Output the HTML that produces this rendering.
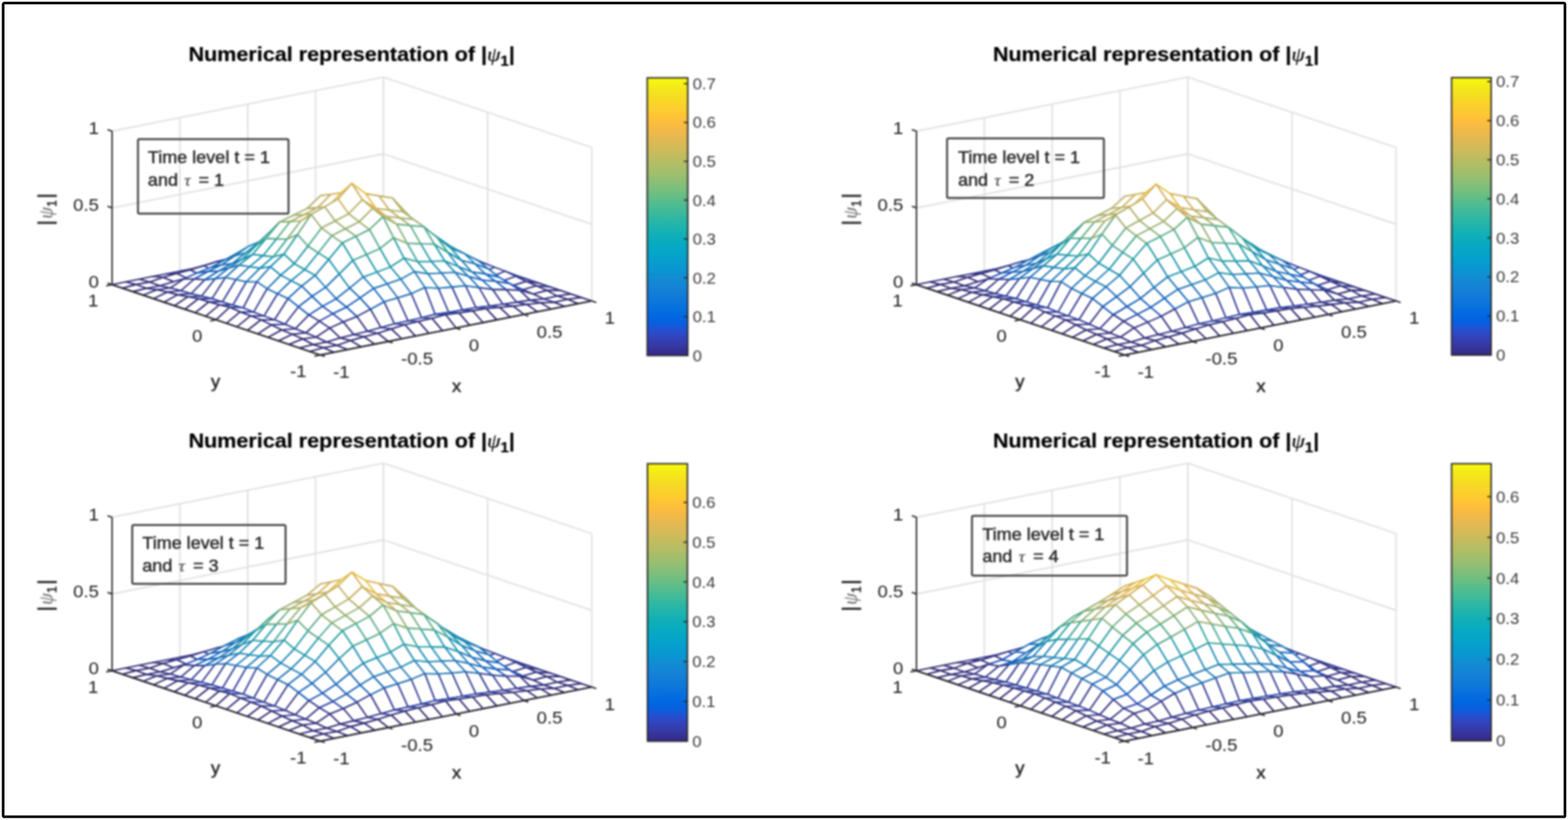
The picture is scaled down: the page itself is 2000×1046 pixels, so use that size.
<!DOCTYPE html>
<html><head><meta charset="utf-8"><title>Numerical representation</title>
<style>
html,body{margin:0;padding:0;background:#fff;}
body{width:2000px;height:1046px;overflow:hidden;position:relative;}
svg{position:absolute;left:0;top:0;font-family:"Liberation Sans", Arial, Helvetica, sans-serif;}
.blur{filter:blur(1.0px);}
</style></head><body>
<svg class="blur" width="2000" height="1046" viewBox="0 0 2000 1046">
<rect x="0" y="0" width="2000" height="1046" fill="#fff"/>
<line x1="142.9" y1="363.1" x2="142.9" y2="167.3" stroke="#e0e0e0" stroke-width="1.9"/>
<line x1="408.5" y1="452.8" x2="142.9" y2="363.1" stroke="#e0e0e0" stroke-width="1.9"/>
<line x1="229.5" y1="345.9" x2="229.5" y2="150.1" stroke="#e0e0e0" stroke-width="1.9"/>
<line x1="495.1" y1="435.6" x2="229.5" y2="345.9" stroke="#e0e0e0" stroke-width="1.9"/>
<line x1="316.0" y1="328.7" x2="316.0" y2="132.9" stroke="#e0e0e0" stroke-width="1.9"/>
<line x1="581.6" y1="418.3" x2="316.0" y2="328.7" stroke="#e0e0e0" stroke-width="1.9"/>
<line x1="402.5" y1="311.5" x2="402.5" y2="115.6" stroke="#e0e0e0" stroke-width="1.9"/>
<line x1="668.1" y1="401.1" x2="402.5" y2="311.5" stroke="#e0e0e0" stroke-width="1.9"/>
<line x1="489.1" y1="294.2" x2="489.1" y2="98.4" stroke="#e0e0e0" stroke-width="1.9"/>
<line x1="754.7" y1="383.9" x2="489.1" y2="294.2" stroke="#e0e0e0" stroke-width="1.9"/>
<line x1="754.7" y1="383.9" x2="754.7" y2="188.1" stroke="#e0e0e0" stroke-width="1.9"/>
<line x1="408.5" y1="452.8" x2="754.7" y2="383.9" stroke="#e0e0e0" stroke-width="1.9"/>
<line x1="621.9" y1="339.1" x2="621.9" y2="143.3" stroke="#e0e0e0" stroke-width="1.9"/>
<line x1="275.7" y1="407.9" x2="621.9" y2="339.1" stroke="#e0e0e0" stroke-width="1.9"/>
<line x1="489.1" y1="294.2" x2="489.1" y2="98.4" stroke="#e0e0e0" stroke-width="1.9"/>
<line x1="142.9" y1="363.1" x2="489.1" y2="294.2" stroke="#e0e0e0" stroke-width="1.9"/>
<line x1="142.9" y1="363.1" x2="489.1" y2="294.2" stroke="#e0e0e0" stroke-width="1.9"/>
<line x1="489.1" y1="294.2" x2="754.7" y2="383.9" stroke="#e0e0e0" stroke-width="1.9"/>
<line x1="142.9" y1="265.2" x2="489.1" y2="196.3" stroke="#e0e0e0" stroke-width="1.9"/>
<line x1="489.1" y1="196.3" x2="754.7" y2="286.0" stroke="#e0e0e0" stroke-width="1.9"/>
<line x1="142.9" y1="167.3" x2="489.1" y2="98.4" stroke="#e0e0e0" stroke-width="1.9"/>
<line x1="489.1" y1="98.4" x2="754.7" y2="188.1" stroke="#e0e0e0" stroke-width="1.9"/>
<g stroke-width="1.85" stroke-linejoin="round" fill="#fff">
<polygon points="485.0,301.0 502.3,298.7 489.1,294.2 471.8,297.7" stroke="#332d77"/>
<polygon points="467.7,304.9 485.0,301.0 471.8,297.7 454.5,301.1" stroke="#332c75"/>
<polygon points="498.3,305.9 515.6,303.2 502.3,298.7 485.0,301.0" stroke="#332c75"/>
<polygon points="450.4,305.6 467.7,304.9 454.5,301.1 437.1,304.6" stroke="#343382"/>
<polygon points="481.0,309.6 498.3,305.9 485.0,301.0 467.7,304.9" stroke="#332c74"/>
<polygon points="511.6,307.7 528.9,307.7 515.6,303.2 498.3,305.9" stroke="#343382"/>
<polygon points="433.1,307.6 450.4,305.6 437.1,304.6 419.8,308.0" stroke="#353788"/>
<polygon points="463.7,311.2 481.0,309.6 467.7,304.9 450.4,305.6" stroke="#34307c"/>
<polygon points="494.3,312.3 511.6,307.7 498.3,305.9 481.0,309.6" stroke="#34307c"/>
<polygon points="524.9,310.8 542.2,312.2 528.9,307.7 511.6,307.7" stroke="#353788"/>
<polygon points="415.8,309.9 433.1,307.6 419.8,308.0 402.5,311.5" stroke="#35398e"/>
<polygon points="446.4,313.7 463.7,311.2 450.4,305.6 433.1,307.6" stroke="#343281"/>
<polygon points="477.0,307.5 494.3,312.3 481.0,309.6 463.7,311.2" stroke="#3045a4"/>
<polygon points="507.6,315.8 524.9,310.8 511.6,307.7 494.3,312.3" stroke="#343281"/>
<polygon points="398.5,311.4 415.8,309.9 402.5,311.5 385.2,314.9" stroke="#343f97"/>
<polygon points="538.2,314.1 555.5,316.7 542.2,312.2 524.9,310.8" stroke="#35398e"/>
<polygon points="429.1,316.4 446.4,313.7 433.1,307.6 415.8,309.9" stroke="#353484"/>
<polygon points="459.7,306.7 477.0,307.5 463.7,311.2 446.4,313.7" stroke="#1e53b6"/>
<polygon points="381.2,312.9 398.5,311.4 385.2,314.9 367.9,318.3" stroke="#3144a1"/>
<polygon points="520.9,319.5 538.2,314.1 524.9,310.8 507.6,315.8" stroke="#353484"/>
<polygon points="490.3,307.7 507.6,315.8 494.3,312.3 477.0,307.5" stroke="#1e53b6"/>
<polygon points="551.4,316.7 568.7,321.2 555.5,316.7 538.2,314.1" stroke="#343f97"/>
<polygon points="411.8,318.6 429.1,316.4 415.8,309.9 398.5,311.4" stroke="#35378b"/>
<polygon points="363.9,315.8 381.2,312.9 367.9,318.3 350.6,321.8" stroke="#3045a4"/>
<polygon points="442.4,306.6 459.7,306.7 446.4,313.7 429.1,316.4" stroke="#115bbc"/>
<polygon points="394.5,320.7 411.8,318.6 398.5,311.4 381.2,312.9" stroke="#353b91"/>
<polygon points="534.1,322.7 551.4,316.7 538.2,314.1 520.9,319.5" stroke="#35378b"/>
<polygon points="503.5,308.7 520.9,319.5 507.6,315.8 490.3,307.7" stroke="#115bbc"/>
<polygon points="564.7,319.1 582.0,325.6 568.7,321.2 551.4,316.7" stroke="#3144a1"/>
<polygon points="473.0,305.1 490.3,307.7 477.0,307.5 459.7,306.7" stroke="#1161bc"/>
<polygon points="346.6,318.6 363.9,315.8 350.6,321.8 333.3,325.2" stroke="#2f46a7"/>
<polygon points="425.1,304.2 442.4,306.6 429.1,316.4 411.8,318.6" stroke="#1666bc"/>
<polygon points="377.2,323.7 394.5,320.7 381.2,312.9 363.9,315.8" stroke="#353c93"/>
<polygon points="547.4,325.9 564.7,319.1 551.4,316.7 534.1,322.7" stroke="#353b91"/>
<polygon points="329.3,320.6 346.6,318.6 333.3,325.2 316.0,328.7" stroke="#294bad"/>
<polygon points="578.0,323.1 595.3,330.1 582.0,325.6 564.7,319.1" stroke="#3045a4"/>
<polygon points="516.8,307.3 534.1,322.7 520.9,319.5 503.5,308.7" stroke="#1666bc"/>
<polygon points="455.7,303.6 473.0,305.1 459.7,306.7 442.4,306.6" stroke="#1969ba"/>
<polygon points="486.2,304.6 503.5,308.7 490.3,307.7 473.0,305.1" stroke="#1969ba"/>
<polygon points="359.9,326.8 377.2,323.7 363.9,315.8 346.6,318.6" stroke="#343d95"/>
<polygon points="407.8,301.5 425.1,304.2 411.8,318.6 394.5,320.7" stroke="#1f70b8"/>
<polygon points="312.0,325.5 329.3,320.6 316.0,328.7 298.7,332.1" stroke="#2f46a7"/>
<polygon points="560.7,330.0 578.0,323.1 564.7,319.1 547.4,325.9" stroke="#353c93"/>
<polygon points="591.3,327.0 608.6,334.6 595.3,330.1 578.0,323.1" stroke="#2f46a7"/>
<polygon points="342.6,329.3 359.9,326.8 346.6,318.6 329.3,320.6" stroke="#343f9a"/>
<polygon points="438.3,298.7 455.7,303.6 442.4,306.6 425.1,304.2" stroke="#2176b6"/>
<polygon points="530.1,305.7 547.4,325.9 534.1,322.7 516.8,307.3" stroke="#1f70b8"/>
<polygon points="390.5,303.2 407.8,301.5 394.5,320.7 377.2,323.7" stroke="#2073b7"/>
<polygon points="294.7,329.5 312.0,325.5 298.7,332.1 281.4,335.5" stroke="#3045a4"/>
<polygon points="468.9,302.0 486.2,304.6 473.0,305.1 455.7,303.6" stroke="#2073b7"/>
<polygon points="499.5,300.8 516.8,307.3 503.5,308.7 486.2,304.6" stroke="#2176b6"/>
<polygon points="325.3,333.7 342.6,329.3 329.3,320.6 312.0,325.5" stroke="#343d95"/>
<polygon points="574.0,334.1 591.3,327.0 578.0,323.1 560.7,330.0" stroke="#343d95"/>
<polygon points="604.6,330.0 621.9,339.1 608.6,334.6 591.3,327.0" stroke="#294bad"/>
<polygon points="277.4,333.5 294.7,329.5 281.4,335.5 264.1,339.0" stroke="#3144a1"/>
<polygon points="373.1,304.9 390.5,303.2 377.2,323.7 359.9,326.8" stroke="#2175b6"/>
<polygon points="543.4,308.5 560.7,330.0 547.4,325.9 530.1,305.7" stroke="#2073b7"/>
<polygon points="421.0,293.6 438.3,298.7 425.1,304.2 407.8,301.5" stroke="#1d85b5"/>
<polygon points="307.9,337.5 325.3,333.7 312.0,325.5 294.7,329.5" stroke="#353c93"/>
<polygon points="260.1,339.0 277.4,333.5 264.1,339.0 246.8,342.4" stroke="#343f97"/>
<polygon points="451.6,295.1 468.9,302.0 455.7,303.6 438.3,298.7" stroke="#1d85b5"/>
<polygon points="617.8,335.9 635.2,343.6 621.9,339.1 604.6,330.0" stroke="#2f46a7"/>
<polygon points="587.3,337.6 604.6,330.0 591.3,327.0 574.0,334.1" stroke="#343f9a"/>
<polygon points="355.8,303.8 373.1,304.9 359.9,326.8 342.6,329.3" stroke="#207db5"/>
<polygon points="482.2,296.2 499.5,300.8 486.2,304.6 468.9,302.0" stroke="#1d85b5"/>
<polygon points="512.8,296.7 530.1,305.7 516.8,307.3 499.5,300.8" stroke="#1d85b5"/>
<polygon points="290.6,341.3 307.9,337.5 294.7,329.5 277.4,333.5" stroke="#353b91"/>
<polygon points="242.7,344.3 260.1,339.0 246.8,342.4 229.5,345.9" stroke="#35398e"/>
<polygon points="556.7,311.1 574.0,334.1 560.7,330.0 543.4,308.5" stroke="#2175b6"/>
<polygon points="403.7,294.6 421.0,293.6 407.8,301.5 390.5,303.2" stroke="#1a8ab5"/>
<polygon points="338.5,311.8 355.8,303.8 342.6,329.3 325.3,333.7" stroke="#2175b6"/>
<polygon points="631.1,341.0 648.4,348.1 635.2,343.6 617.8,335.9" stroke="#3045a4"/>
<polygon points="600.5,343.1 617.8,335.9 604.6,330.0 587.3,337.6" stroke="#343d95"/>
<polygon points="273.3,346.1 290.6,341.3 277.4,333.5 260.1,339.0" stroke="#35378b"/>
<polygon points="225.4,348.9 242.7,344.3 229.5,345.9 212.2,349.3" stroke="#353788"/>
<polygon points="434.3,287.9 451.6,295.1 438.3,298.7 421.0,293.6" stroke="#1995ae"/>
<polygon points="321.2,317.0 338.5,311.8 325.3,333.7 307.9,337.5" stroke="#2073b7"/>
<polygon points="464.9,286.1 482.2,296.2 468.9,302.0 451.6,295.1" stroke="#1a98aa"/>
<polygon points="386.4,295.5 403.7,294.6 390.5,303.2 373.1,304.9" stroke="#198eb3"/>
<polygon points="526.1,298.8 543.4,308.5 530.1,305.7 512.8,296.7" stroke="#1a8ab5"/>
<polygon points="569.9,311.1 587.3,337.6 574.0,334.1 556.7,311.1" stroke="#207db5"/>
<polygon points="256.0,350.8 273.3,346.1 260.1,339.0 242.7,344.3" stroke="#353484"/>
<polygon points="495.5,290.0 512.8,296.7 499.5,300.8 482.2,296.2" stroke="#1995ae"/>
<polygon points="644.4,346.0 661.7,352.5 648.4,348.1 631.1,341.0" stroke="#3144a1"/>
<polygon points="208.1,353.8 225.4,348.9 212.2,349.3 194.8,352.7" stroke="#343382"/>
<polygon points="613.8,347.9 631.1,341.0 617.8,335.9 600.5,343.1" stroke="#353c93"/>
<polygon points="303.9,322.1 321.2,317.0 307.9,337.5 290.6,341.3" stroke="#1f70b8"/>
<polygon points="238.7,355.0 256.0,350.8 242.7,344.3 225.4,348.9" stroke="#343281"/>
<polygon points="417.0,288.4 434.3,287.9 421.0,293.6 403.7,294.6" stroke="#1a98aa"/>
<polygon points="190.8,359.9 208.1,353.8 194.8,352.7 177.5,356.2" stroke="#332c75"/>
<polygon points="369.1,292.6 386.4,295.5 373.1,304.9 355.8,303.8" stroke="#1995ac"/>
<polygon points="583.2,320.1 600.5,343.1 587.3,337.6 569.9,311.1" stroke="#2175b6"/>
<polygon points="286.6,331.7 303.9,322.1 290.6,341.3 273.3,346.1" stroke="#1666bc"/>
<polygon points="539.4,300.8 556.7,311.1 543.4,308.5 526.1,298.8" stroke="#198eb3"/>
<polygon points="657.7,352.5 675.0,357.0 661.7,352.5 644.4,346.0" stroke="#343f97"/>
<polygon points="627.1,352.8 644.4,346.0 631.1,341.0 613.8,347.9" stroke="#353b91"/>
<polygon points="221.4,359.4 238.7,355.0 225.4,348.9 208.1,353.8" stroke="#34307c"/>
<polygon points="447.6,275.4 464.9,286.1 451.6,295.1 434.3,287.9" stroke="#3ea694"/>
<polygon points="269.3,341.0 286.6,331.7 273.3,346.1 256.0,350.8" stroke="#115bbc"/>
<polygon points="508.8,291.6 526.1,298.8 512.8,296.7 495.5,290.0" stroke="#1a98aa"/>
<polygon points="173.5,363.0 190.8,359.9 177.5,356.2 160.2,359.6" stroke="#332d77"/>
<polygon points="351.8,302.4 369.1,292.6 355.8,303.8 338.5,311.8" stroke="#198eb3"/>
<polygon points="478.2,276.5 495.5,290.0 482.2,296.2 464.9,286.1" stroke="#3ea694"/>
<polygon points="399.7,288.7 417.0,288.4 403.7,294.6 386.4,295.5" stroke="#1f9ba5"/>
<polygon points="596.5,326.4 613.8,347.9 600.5,343.1 583.2,320.1" stroke="#2073b7"/>
<polygon points="204.1,364.7 221.4,359.4 208.1,353.8 190.8,359.9" stroke="#332c74"/>
<polygon points="671.0,359.0 688.3,361.5 675.0,357.0 657.7,352.5" stroke="#35398e"/>
<polygon points="252.0,348.0 269.3,341.0 256.0,350.8 238.7,355.0" stroke="#1e53b6"/>
<polygon points="640.4,358.6 657.7,352.5 644.4,346.0 627.1,352.8" stroke="#35378b"/>
<polygon points="334.5,308.4 351.8,302.4 338.5,311.8 321.2,317.0" stroke="#1a8ab5"/>
<polygon points="552.6,298.9 569.9,311.1 556.7,311.1 539.4,300.8" stroke="#1995ac"/>
<polygon points="156.2,367.6 173.5,363.0 160.2,359.6 142.9,363.1" stroke="#322a71"/>
<polygon points="234.7,355.7 252.0,348.0 238.7,355.0 221.4,359.4" stroke="#3045a4"/>
<polygon points="186.8,367.8 204.1,364.7 190.8,359.9 173.5,363.0" stroke="#332c75"/>
<polygon points="522.1,292.9 539.4,300.8 526.1,298.8 508.8,291.6" stroke="#1f9ba5"/>
<polygon points="609.8,332.6 627.1,352.8 613.8,347.9 596.5,326.4" stroke="#1f70b8"/>
<polygon points="317.2,314.2 334.5,308.4 321.2,317.0 303.9,322.1" stroke="#1d85b5"/>
<polygon points="430.3,275.0 447.6,275.4 434.3,287.9 417.0,288.4" stroke="#4da98d"/>
<polygon points="382.4,284.3 399.7,288.7 386.4,295.5 369.1,292.6" stroke="#34a399"/>
<polygon points="653.7,364.4 671.0,359.0 657.7,352.5 640.4,358.6" stroke="#353484"/>
<polygon points="684.2,364.6 701.6,366.0 688.3,361.5 671.0,359.0" stroke="#353788"/>
<polygon points="217.4,367.3 234.7,355.7 221.4,359.4 204.1,364.7" stroke="#34307c"/>
<polygon points="299.9,326.3 317.2,314.2 303.9,322.1 286.6,331.7" stroke="#2176b6"/>
<polygon points="491.5,277.1 508.8,291.6 495.5,290.0 478.2,276.5" stroke="#4da98d"/>
<polygon points="565.9,309.7 583.2,320.1 569.9,311.1 552.6,298.9" stroke="#198eb3"/>
<polygon points="169.5,372.0 186.8,367.8 173.5,363.0 156.2,367.6" stroke="#322a71"/>
<polygon points="282.6,338.0 299.9,326.3 286.6,331.7 269.3,341.0" stroke="#1969ba"/>
<polygon points="623.1,343.2 640.4,358.6 627.1,352.8 609.8,332.6" stroke="#1666bc"/>
<polygon points="460.9,262.3 478.2,276.5 464.9,286.1 447.6,275.4" stroke="#87b076"/>
<polygon points="365.1,295.6 382.4,284.3 369.1,292.6 351.8,302.4" stroke="#1f9ba5"/>
<polygon points="200.1,369.6 217.4,367.3 204.1,364.7 186.8,367.8" stroke="#343382"/>
<polygon points="265.3,346.4 282.6,338.0 269.3,341.0 252.0,348.0" stroke="#1161bc"/>
<polygon points="413.0,274.3 430.3,275.0 417.0,288.4 399.7,288.7" stroke="#5fac85"/>
<polygon points="666.9,369.6 684.2,364.6 671.0,359.0 653.7,364.4" stroke="#343281"/>
<polygon points="697.5,370.5 714.8,370.5 701.6,366.0 684.2,364.6" stroke="#343382"/>
<polygon points="579.2,316.7 596.5,326.4 583.2,320.1 565.9,309.7" stroke="#1a8ab5"/>
<polygon points="535.3,289.6 552.6,298.9 539.4,300.8 522.1,292.9" stroke="#34a399"/>
<polygon points="347.8,302.2 365.1,295.6 351.8,302.4 334.5,308.4" stroke="#1a98aa"/>
<polygon points="248.0,355.9 265.3,346.4 252.0,348.0 234.7,355.7" stroke="#1e53b6"/>
<polygon points="636.3,353.5 653.7,364.4 640.4,358.6 623.1,343.2" stroke="#115bbc"/>
<polygon points="230.7,370.9 248.0,355.9 234.7,355.7 217.4,367.3" stroke="#343281"/>
<polygon points="182.8,376.5 200.1,369.6 186.8,367.8 169.5,372.0" stroke="#322a71"/>
<polygon points="504.7,277.4 522.1,292.9 508.8,291.6 491.5,277.1" stroke="#5fac85"/>
<polygon points="330.5,308.6 347.8,302.2 334.5,308.4 317.2,314.2" stroke="#1995ae"/>
<polygon points="680.2,375.1 697.5,370.5 684.2,364.6 666.9,369.6" stroke="#34307c"/>
<polygon points="213.4,372.7 230.7,370.9 217.4,367.3 200.1,369.6" stroke="#353788"/>
<polygon points="710.8,377.7 728.1,375.0 714.8,370.5 697.5,370.5" stroke="#332c75"/>
<polygon points="592.5,323.6 609.8,332.6 596.5,326.4 579.2,316.7" stroke="#1d85b5"/>
<polygon points="313.2,322.7 330.5,308.6 317.2,314.2 299.9,326.3" stroke="#1d85b5"/>
<polygon points="295.9,336.4 313.2,322.7 299.9,326.3 282.6,338.0" stroke="#2073b7"/>
<polygon points="649.6,361.5 666.9,369.6 653.7,364.4 636.3,353.5" stroke="#1e53b6"/>
<polygon points="548.6,301.9 565.9,309.7 552.6,298.9 535.3,289.6" stroke="#1f9ba5"/>
<polygon points="395.7,267.4 413.0,274.3 399.7,288.7 382.4,284.3" stroke="#8ab076"/>
<polygon points="443.6,260.9 460.9,262.3 447.6,275.4 430.3,275.0" stroke="#99b071"/>
<polygon points="278.6,345.9 295.9,336.4 282.6,338.0 265.3,346.4" stroke="#1969ba"/>
<polygon points="474.2,261.9 491.5,277.1 478.2,276.5 460.9,262.3" stroke="#99b071"/>
<polygon points="196.0,381.0 213.4,372.7 200.1,369.6 182.8,376.5" stroke="#322a71"/>
<polygon points="605.8,336.7 623.1,343.2 609.8,332.6 592.5,323.6" stroke="#2176b6"/>
<polygon points="261.3,356.9 278.6,345.9 265.3,346.4 248.0,355.9" stroke="#115bbc"/>
<polygon points="243.9,374.6 261.3,356.9 248.0,355.9 230.7,370.9" stroke="#353484"/>
<polygon points="693.5,381.3 710.8,377.7 697.5,370.5 680.2,375.1" stroke="#332c74"/>
<polygon points="561.9,309.5 579.2,316.7 565.9,309.7 548.6,301.9" stroke="#1a98aa"/>
<polygon points="724.1,381.8 741.4,379.5 728.1,375.0 710.8,377.7" stroke="#332d77"/>
<polygon points="378.4,281.2 395.7,267.4 382.4,284.3 365.1,295.6" stroke="#5fac85"/>
<polygon points="662.9,370.3 680.2,375.1 666.9,369.6 649.6,361.5" stroke="#3045a4"/>
<polygon points="226.6,376.0 243.9,374.6 230.7,370.9 213.4,372.7" stroke="#35398e"/>
<polygon points="619.0,349.5 636.3,353.5 623.1,343.2 605.8,336.7" stroke="#1969ba"/>
<polygon points="518.0,271.5 535.3,289.6 522.1,292.9 504.7,277.4" stroke="#8ab076"/>
<polygon points="361.1,288.7 378.4,281.2 365.1,295.6 347.8,302.2" stroke="#4da98d"/>
<polygon points="426.3,259.1 443.6,260.9 430.3,275.0 413.0,274.3" stroke="#aab06b"/>
<polygon points="575.2,316.9 592.5,323.6 579.2,316.7 561.9,309.5" stroke="#1995ae"/>
<polygon points="209.3,385.5 226.6,376.0 213.4,372.7 196.0,381.0" stroke="#322a71"/>
<polygon points="632.3,358.9 649.6,361.5 636.3,353.5 619.0,349.5" stroke="#1161bc"/>
<polygon points="676.2,383.0 693.5,381.3 680.2,375.1 662.9,370.3" stroke="#34307c"/>
<polygon points="706.8,385.6 724.1,381.8 710.8,377.7 693.5,381.3" stroke="#332c75"/>
<polygon points="343.8,296.1 361.1,288.7 347.8,302.2 330.5,308.6" stroke="#3ea694"/>
<polygon points="309.1,330.6 326.5,313.6 313.2,322.7 295.9,336.4" stroke="#1d85b5"/>
<polygon points="487.4,261.2 504.7,277.4 491.5,277.1 474.2,261.9" stroke="#aab06b"/>
<polygon points="291.8,342.1 309.1,330.6 295.9,336.4 278.6,345.9" stroke="#2176b6"/>
<polygon points="257.2,377.8 274.5,355.5 261.3,356.9 243.9,374.6" stroke="#35378b"/>
<polygon points="737.4,387.4 754.7,383.9 741.4,379.5 724.1,381.8" stroke="#322a71"/>
<polygon points="326.5,313.6 343.8,296.1 330.5,308.6 313.2,322.7" stroke="#1a98aa"/>
<polygon points="274.5,355.5 291.8,342.1 278.6,345.9 261.3,356.9" stroke="#1666bc"/>
<polygon points="456.9,260.2 474.2,261.9 460.9,262.3 443.6,260.9" stroke="#aab06b"/>
<polygon points="239.9,378.6 257.2,377.8 243.9,374.6 226.6,376.0" stroke="#343f97"/>
<polygon points="531.3,286.4 548.6,301.9 535.3,289.6 518.0,271.5" stroke="#5fac85"/>
<polygon points="588.5,332.1 605.8,336.7 592.5,323.6 575.2,316.9" stroke="#1d85b5"/>
<polygon points="645.6,369.5 662.9,370.3 649.6,361.5 632.3,358.9" stroke="#1e53b6"/>
<polygon points="601.7,346.8 619.0,349.5 605.8,336.7 588.5,332.1" stroke="#2073b7"/>
<polygon points="689.5,386.3 706.8,385.6 693.5,381.3 676.2,383.0" stroke="#343382"/>
<polygon points="544.6,295.0 561.9,309.5 548.6,301.9 531.3,286.4" stroke="#4da98d"/>
<polygon points="720.1,390.8 737.4,387.4 724.1,381.8 706.8,385.6" stroke="#322a71"/>
<polygon points="222.6,390.0 239.9,378.6 226.6,376.0 209.3,385.5" stroke="#322a71"/>
<polygon points="409.0,249.6 426.3,259.1 413.0,274.3 395.7,267.4" stroke="#d2ae5d"/>
<polygon points="658.9,385.5 676.2,383.0 662.9,370.3 645.6,369.5" stroke="#343281"/>
<polygon points="615.0,357.4 632.3,358.9 619.0,349.5 601.7,346.8" stroke="#1969ba"/>
<polygon points="270.5,381.0 287.8,353.8 274.5,355.5 257.2,377.8" stroke="#353b91"/>
<polygon points="253.2,381.1 270.5,381.0 257.2,377.8 239.9,378.6" stroke="#3144a1"/>
<polygon points="439.5,258.1 456.9,260.2 443.6,260.9 426.3,259.1" stroke="#bbaf65"/>
<polygon points="557.9,303.4 575.2,316.9 561.9,309.5 544.6,295.0" stroke="#3ea694"/>
<polygon points="628.3,369.4 645.6,369.5 632.3,358.9 615.0,357.4" stroke="#115bbc"/>
<polygon points="500.7,252.7 518.0,271.5 504.7,277.4 487.4,261.2" stroke="#d2ae5d"/>
<polygon points="672.2,388.4 689.5,386.3 676.2,383.0 658.9,385.5" stroke="#353788"/>
<polygon points="702.8,394.3 720.1,390.8 706.8,385.6 689.5,386.3" stroke="#322a71"/>
<polygon points="470.1,259.2 487.4,261.2 474.2,261.9 456.9,260.2" stroke="#bbaf65"/>
<polygon points="391.7,266.0 409.0,249.6 395.7,267.4 378.4,281.2" stroke="#aab06b"/>
<polygon points="305.1,338.0 322.4,324.4 309.1,330.6 291.8,342.1" stroke="#1d85b5"/>
<polygon points="287.8,353.8 305.1,338.0 291.8,342.1 274.5,355.5" stroke="#1f70b8"/>
<polygon points="374.3,274.6 391.7,266.0 378.4,281.2 361.1,288.7" stroke="#99b071"/>
<polygon points="641.6,388.2 658.9,385.5 645.6,369.5 628.3,369.4" stroke="#353484"/>
<polygon points="322.4,324.4 339.7,304.0 326.5,313.6 309.1,330.6" stroke="#1995ae"/>
<polygon points="235.9,394.5 253.2,381.1 239.9,378.6 222.6,390.0" stroke="#322a71"/>
<polygon points="571.1,321.9 588.5,332.1 575.2,316.9 557.9,303.4" stroke="#1a98aa"/>
<polygon points="584.4,340.0 601.7,346.8 588.5,332.1 571.1,321.9" stroke="#1d85b5"/>
<polygon points="357.0,283.0 374.3,274.6 361.1,288.7 343.8,296.1" stroke="#87b076"/>
<polygon points="339.7,304.0 357.0,283.0 343.8,296.1 326.5,313.6" stroke="#3ea694"/>
<polygon points="597.7,352.6 615.0,357.4 601.7,346.8 584.4,340.0" stroke="#2176b6"/>
<polygon points="654.9,390.7 672.2,388.4 658.9,385.5 641.6,388.2" stroke="#35398e"/>
<polygon points="266.5,385.0 283.8,385.1 270.5,381.0 253.2,381.1" stroke="#3045a4"/>
<polygon points="283.8,385.1 301.1,356.6 287.8,353.8 270.5,381.0" stroke="#353c93"/>
<polygon points="685.4,397.7 702.8,394.3 689.5,386.3 672.2,388.4" stroke="#322a71"/>
<polygon points="514.0,270.2 531.3,286.4 518.0,271.5 500.7,252.7" stroke="#aab06b"/>
<polygon points="611.0,366.9 628.3,369.4 615.0,357.4 597.7,352.6" stroke="#1666bc"/>
<polygon points="452.8,256.8 470.1,259.2 456.9,260.2 439.5,258.1" stroke="#cdaf5f"/>
<polygon points="624.3,390.3 641.6,388.2 628.3,369.4 611.0,366.9" stroke="#35378b"/>
<polygon points="422.2,247.9 439.5,258.1 426.3,259.1 409.0,249.6" stroke="#e2b253"/>
<polygon points="527.3,279.8 544.6,295.0 531.3,286.4 514.0,270.2" stroke="#99b071"/>
<polygon points="249.2,398.9 266.5,385.0 253.2,381.1 235.9,394.5" stroke="#322a71"/>
<polygon points="301.1,356.6 318.4,340.1 305.1,338.0 287.8,353.8" stroke="#2073b7"/>
<polygon points="318.4,340.1 335.7,326.0 322.4,324.4 305.1,338.0" stroke="#1a8ab5"/>
<polygon points="637.5,392.2 654.9,390.7 641.6,388.2 624.3,390.3" stroke="#343f97"/>
<polygon points="668.1,401.1 685.4,397.7 672.2,388.4 654.9,390.7" stroke="#322a71"/>
<polygon points="483.4,250.0 500.7,252.7 487.4,261.2 470.1,259.2" stroke="#e2b253"/>
<polygon points="335.7,326.0 353.0,304.6 339.7,304.0 322.4,324.4" stroke="#1a98aa"/>
<polygon points="279.8,388.9 297.1,389.2 283.8,385.1 266.5,385.0" stroke="#2f46a7"/>
<polygon points="297.1,389.2 314.4,359.3 301.1,356.6 283.8,385.1" stroke="#343d95"/>
<polygon points="540.6,289.2 557.9,303.4 544.6,295.0 527.3,279.8" stroke="#87b076"/>
<polygon points="404.9,265.0 422.2,247.9 409.0,249.6 391.7,266.0" stroke="#bbaf65"/>
<polygon points="387.6,273.9 404.9,265.0 391.7,266.0 374.3,274.6" stroke="#aab06b"/>
<polygon points="567.1,332.8 584.4,340.0 571.1,321.9 553.8,311.3" stroke="#1995ae"/>
<polygon points="580.4,347.4 597.7,352.6 584.4,340.0 567.1,332.8" stroke="#1d85b5"/>
<polygon points="607.0,392.4 624.3,390.3 611.0,366.9 593.7,364.3" stroke="#353b91"/>
<polygon points="553.8,311.3 571.1,321.9 557.9,303.4 540.6,289.2" stroke="#3ea694"/>
<polygon points="262.4,403.4 279.8,388.9 266.5,385.0 249.2,398.9" stroke="#322a71"/>
<polygon points="353.0,304.6 370.3,282.5 357.0,283.0 339.7,304.0" stroke="#4da98d"/>
<polygon points="593.7,364.3 611.0,366.9 597.7,352.6 580.4,347.4" stroke="#1f70b8"/>
<polygon points="370.3,282.5 387.6,273.9 374.3,274.6 357.0,283.0" stroke="#99b071"/>
<polygon points="650.8,404.6 668.1,401.1 654.9,390.7 637.5,392.2" stroke="#322a71"/>
<polygon points="620.2,393.6 637.5,392.2 624.3,390.3 607.0,392.4" stroke="#3144a1"/>
<polygon points="314.4,359.3 331.7,342.0 318.4,340.1 301.1,356.6" stroke="#2175b6"/>
<polygon points="435.5,245.8 452.8,256.8 439.5,258.1 422.2,247.9" stroke="#e5be47"/>
<polygon points="496.7,268.1 514.0,270.2 500.7,252.7 483.4,250.0" stroke="#bbaf65"/>
<polygon points="331.7,342.0 349.0,327.3 335.7,326.0 318.4,340.1" stroke="#198eb3"/>
<polygon points="466.1,246.8 483.4,250.0 470.1,259.2 452.8,256.8" stroke="#e5be47"/>
<polygon points="293.0,391.9 310.3,392.7 297.1,389.2 279.8,388.9" stroke="#294bad"/>
<polygon points="510.0,278.1 527.3,279.8 514.0,270.2 496.7,268.1" stroke="#aab06b"/>
<polygon points="310.3,392.7 327.7,359.3 314.4,359.3 297.1,389.2" stroke="#343f9a"/>
<polygon points="349.0,327.3 366.3,304.9 353.0,304.6 335.7,326.0" stroke="#1f9ba5"/>
<polygon points="589.7,395.5 607.0,392.4 593.7,364.3 576.4,366.0" stroke="#353c93"/>
<polygon points="633.5,408.0 650.8,404.6 637.5,392.2 620.2,393.6" stroke="#322a71"/>
<polygon points="602.9,396.5 620.2,393.6 607.0,392.4 589.7,395.5" stroke="#3045a4"/>
<polygon points="275.7,407.9 293.0,391.9 279.8,388.9 262.4,403.4" stroke="#322a71"/>
<polygon points="563.1,348.4 580.4,347.4 567.1,332.8 549.8,333.3" stroke="#1a8ab5"/>
<polygon points="549.8,333.3 567.1,332.8 553.8,311.3 536.5,310.9" stroke="#1a98aa"/>
<polygon points="418.2,263.7 435.5,245.8 422.2,247.9 404.9,265.0" stroke="#cdaf5f"/>
<polygon points="400.9,272.9 418.2,263.7 404.9,265.0 387.6,273.9" stroke="#bbaf65"/>
<polygon points="576.4,366.0 593.7,364.3 580.4,347.4 563.1,348.4" stroke="#2073b7"/>
<polygon points="523.3,287.8 540.6,289.2 527.3,279.8 510.0,278.1" stroke="#99b071"/>
<polygon points="366.3,304.9 383.6,281.8 370.3,282.5 353.0,304.6" stroke="#5fac85"/>
<polygon points="536.5,310.9 553.8,311.3 540.6,289.2 523.3,287.8" stroke="#4da98d"/>
<polygon points="383.6,281.8 400.9,272.9 387.6,273.9 370.3,282.5" stroke="#aab06b"/>
<polygon points="327.7,359.3 345.0,340.2 331.7,342.0 314.4,359.3" stroke="#207db5"/>
<polygon points="479.4,265.8 496.7,268.1 483.4,250.0 466.1,246.8" stroke="#cdaf5f"/>
<polygon points="306.3,397.9 323.6,398.1 310.3,392.7 293.0,391.9" stroke="#2f46a7"/>
<polygon points="572.3,398.5 589.7,395.5 576.4,366.0 559.1,367.7" stroke="#343d95"/>
<polygon points="323.6,398.1 340.9,368.3 327.7,359.3 310.3,392.7" stroke="#343d95"/>
<polygon points="345.0,340.2 362.3,324.0 349.0,327.3 331.7,342.0" stroke="#1995ac"/>
<polygon points="616.2,411.5 633.5,408.0 620.2,393.6 602.9,396.5" stroke="#322a71"/>
<polygon points="492.7,276.1 510.0,278.1 496.7,268.1 479.4,265.8" stroke="#bbaf65"/>
<polygon points="585.6,399.3 602.9,396.5 589.7,395.5 572.3,398.5" stroke="#2f46a7"/>
<polygon points="545.8,349.3 563.1,348.4 549.8,333.3 532.5,333.6" stroke="#198eb3"/>
<polygon points="289.0,412.4 306.3,397.9 293.0,391.9 275.7,407.9" stroke="#322a71"/>
<polygon points="559.1,367.7 576.4,366.0 563.1,348.4 545.8,349.3" stroke="#2175b6"/>
<polygon points="532.5,333.6 549.8,333.3 536.5,310.9 519.2,310.1" stroke="#1f9ba5"/>
<polygon points="448.8,233.9 466.1,246.8 452.8,256.8 435.5,245.8" stroke="#e5e631"/>
<polygon points="362.3,324.0 379.6,299.1 366.3,304.9 349.0,327.3" stroke="#34a399"/>
<polygon points="505.9,286.0 523.3,287.8 510.0,278.1 492.7,276.1" stroke="#aab06b"/>
<polygon points="319.6,402.9 336.9,403.0 323.6,398.1 306.3,397.9" stroke="#3045a4"/>
<polygon points="519.2,310.1 536.5,310.9 523.3,287.8 505.9,286.0" stroke="#5fac85"/>
<polygon points="340.9,368.3 358.2,351.0 345.0,340.2 327.7,359.3" stroke="#2175b6"/>
<polygon points="336.9,403.0 354.2,374.6 340.9,368.3 323.6,398.1" stroke="#353c93"/>
<polygon points="555.0,401.0 572.3,398.5 559.1,367.7 541.8,366.6" stroke="#343f9a"/>
<polygon points="598.9,414.9 616.2,411.5 602.9,396.5 585.6,399.3" stroke="#322a71"/>
<polygon points="568.3,401.3 585.6,399.3 572.3,398.5 555.0,401.0" stroke="#294bad"/>
<polygon points="358.2,351.0 375.5,336.3 362.3,324.0 345.0,340.2" stroke="#198eb3"/>
<polygon points="414.2,263.7 431.5,253.7 418.2,263.7 400.9,272.9" stroke="#e2b253"/>
<polygon points="431.5,253.7 448.8,233.9 435.5,245.8 418.2,263.7" stroke="#e5be47"/>
<polygon points="379.6,299.1 396.9,273.4 383.6,281.8 366.3,304.9" stroke="#8ab076"/>
<polygon points="302.3,416.9 319.6,402.9 306.3,397.9 289.0,412.4" stroke="#322a71"/>
<polygon points="462.1,254.8 479.4,265.8 466.1,246.8 448.8,233.9" stroke="#e5be47"/>
<polygon points="528.5,346.5 545.8,349.3 532.5,333.6 515.2,329.2" stroke="#1995ac"/>
<polygon points="541.8,366.6 559.1,367.7 545.8,349.3 528.5,346.5" stroke="#207db5"/>
<polygon points="396.9,273.4 414.2,263.7 400.9,272.9 383.6,281.8" stroke="#d2ae5d"/>
<polygon points="375.5,336.3 392.9,313.9 379.6,299.1 362.3,324.0" stroke="#1f9ba5"/>
<polygon points="354.2,374.6 371.5,358.0 358.2,351.0 340.9,368.3" stroke="#2073b7"/>
<polygon points="475.4,265.8 492.7,276.1 479.4,265.8 462.1,254.8" stroke="#e2b253"/>
<polygon points="537.7,405.4 555.0,401.0 541.8,366.6 524.5,374.5" stroke="#343d95"/>
<polygon points="515.2,329.2 532.5,333.6 519.2,310.1 501.9,303.2" stroke="#34a399"/>
<polygon points="581.6,418.3 598.9,414.9 585.6,399.3 568.3,401.3" stroke="#322a71"/>
<polygon points="371.5,358.0 388.8,343.9 375.5,336.3 358.2,351.0" stroke="#1a8ab5"/>
<polygon points="551.0,406.2 568.3,401.3 555.0,401.0 537.7,405.4" stroke="#2f46a7"/>
<polygon points="332.9,408.0 350.2,407.9 336.9,403.0 319.6,402.9" stroke="#3144a1"/>
<polygon points="350.2,407.9 367.5,380.8 354.2,374.6 336.9,403.0" stroke="#353b91"/>
<polygon points="388.8,343.9 406.1,322.5 392.9,313.9 375.5,336.3" stroke="#1a98aa"/>
<polygon points="427.5,281.9 444.8,272.7 431.5,253.7 414.2,263.7" stroke="#bbaf65"/>
<polygon points="488.6,276.5 505.9,286.0 492.7,276.1 475.4,265.8" stroke="#d2ae5d"/>
<polygon points="501.9,303.2 519.2,310.1 505.9,286.0 488.6,276.5" stroke="#8ab076"/>
<polygon points="444.8,272.7 462.1,254.8 448.8,233.9 431.5,253.7" stroke="#cdaf5f"/>
<polygon points="511.2,356.2 528.5,346.5 515.2,329.2 497.9,340.5" stroke="#198eb3"/>
<polygon points="524.5,374.5 541.8,366.6 528.5,346.5 511.2,356.2" stroke="#2175b6"/>
<polygon points="392.9,313.9 410.2,290.8 396.9,273.4 379.6,299.1" stroke="#5fac85"/>
<polygon points="520.4,409.3 537.7,405.4 524.5,374.5 507.1,379.8" stroke="#353c93"/>
<polygon points="315.6,421.4 332.9,408.0 319.6,402.9 302.3,416.9" stroke="#322a71"/>
<polygon points="458.1,283.0 475.4,265.8 462.1,254.8 444.8,272.7" stroke="#bbaf65"/>
<polygon points="367.5,380.8 384.8,364.9 371.5,358.0 354.2,374.6" stroke="#1f70b8"/>
<polygon points="497.9,340.5 515.2,329.2 501.9,303.2 484.6,317.0" stroke="#1f9ba5"/>
<polygon points="440.7,291.9 458.1,283.0 444.8,272.7 427.5,281.9" stroke="#aab06b"/>
<polygon points="533.7,410.2 551.0,406.2 537.7,405.4 520.4,409.3" stroke="#3045a4"/>
<polygon points="564.3,421.8 581.6,418.3 568.3,401.3 551.0,406.2" stroke="#322a71"/>
<polygon points="410.2,290.8 427.5,281.9 414.2,263.7 396.9,273.4" stroke="#aab06b"/>
<polygon points="384.8,364.9 402.1,351.3 388.8,343.9 371.5,358.0" stroke="#1d85b5"/>
<polygon points="363.5,413.7 380.8,391.3 367.5,380.8 350.2,407.9" stroke="#35378b"/>
<polygon points="493.9,362.2 511.2,356.2 497.9,340.5 480.6,347.0" stroke="#1a8ab5"/>
<polygon points="406.1,322.5 423.4,300.5 410.2,290.8 392.9,313.9" stroke="#4da98d"/>
<polygon points="346.2,414.5 363.5,413.7 350.2,407.9 332.9,408.0" stroke="#343f97"/>
<polygon points="507.1,379.8 524.5,374.5 511.2,356.2 493.9,362.2" stroke="#2073b7"/>
<polygon points="480.6,347.0 497.9,340.5 484.6,317.0 467.3,324.6" stroke="#1a98aa"/>
<polygon points="402.1,351.3 419.4,330.9 406.1,322.5 388.8,343.9" stroke="#1995ae"/>
<polygon points="423.4,300.5 440.7,291.9 427.5,281.9 410.2,290.8" stroke="#99b071"/>
<polygon points="503.1,413.1 520.4,409.3 507.1,379.8 489.8,384.9" stroke="#353b91"/>
<polygon points="471.3,292.9 488.6,276.5 475.4,265.8 458.1,283.0" stroke="#aab06b"/>
<polygon points="484.6,317.0 501.9,303.2 488.6,276.5 471.3,292.9" stroke="#5fac85"/>
<polygon points="454.0,301.5 471.3,292.9 458.1,283.0 440.7,291.9" stroke="#99b071"/>
<polygon points="398.1,378.0 415.4,366.5 402.1,351.3 384.8,364.9" stroke="#2176b6"/>
<polygon points="380.8,391.3 398.1,378.0 384.8,364.9 367.5,380.8" stroke="#1666bc"/>
<polygon points="467.3,324.6 484.6,317.0 471.3,292.9 454.0,301.5" stroke="#4da98d"/>
<polygon points="415.4,366.5 432.7,349.5 419.4,330.9 402.1,351.3" stroke="#1d85b5"/>
<polygon points="516.4,414.2 533.7,410.2 520.4,409.3 503.1,413.1" stroke="#3144a1"/>
<polygon points="547.0,425.2 564.3,421.8 551.0,406.2 533.7,410.2" stroke="#322a71"/>
<polygon points="476.6,368.0 493.9,362.2 480.6,347.0 463.3,353.4" stroke="#1d85b5"/>
<polygon points="463.3,353.4 480.6,347.0 467.3,324.6 450.0,332.0" stroke="#1995ae"/>
<polygon points="328.9,425.9 346.2,414.5 332.9,408.0 315.6,421.4" stroke="#322a71"/>
<polygon points="428.7,381.2 446.0,367.5 432.7,349.5 415.4,366.5" stroke="#2073b7"/>
<polygon points="419.4,330.9 436.7,309.9 423.4,300.5 406.1,322.5" stroke="#3ea694"/>
<polygon points="489.8,384.9 507.1,379.8 493.9,362.2 476.6,368.0" stroke="#1f70b8"/>
<polygon points="411.4,390.8 428.7,381.2 415.4,366.5 398.1,378.0" stroke="#1969ba"/>
<polygon points="376.7,419.4 394.1,401.7 380.8,391.3 363.5,413.7" stroke="#353484"/>
<polygon points="446.0,367.5 463.3,353.4 450.0,332.0 432.7,349.5" stroke="#1d85b5"/>
<polygon points="436.7,309.9 454.0,301.5 440.7,291.9 423.4,300.5" stroke="#87b076"/>
<polygon points="459.3,380.1 476.6,368.0 463.3,353.4 446.0,367.5" stroke="#2176b6"/>
<polygon points="394.1,401.7 411.4,390.8 398.1,378.0 380.8,391.3" stroke="#115bbc"/>
<polygon points="485.8,417.9 503.1,413.1 489.8,384.9 472.5,394.5" stroke="#35378b"/>
<polygon points="450.0,332.0 467.3,324.6 454.0,301.5 436.7,309.9" stroke="#3ea694"/>
<polygon points="432.7,349.5 450.0,332.0 436.7,309.9 419.4,330.9" stroke="#1a98aa"/>
<polygon points="441.9,391.8 459.3,380.1 446.0,367.5 428.7,381.2" stroke="#1969ba"/>
<polygon points="359.4,420.9 376.7,419.4 363.5,413.7 346.2,414.5" stroke="#35398e"/>
<polygon points="472.5,394.5 489.8,384.9 476.6,368.0 459.3,380.1" stroke="#1666bc"/>
<polygon points="424.6,400.2 441.9,391.8 428.7,381.2 411.4,390.8" stroke="#1161bc"/>
<polygon points="499.1,419.7 516.4,414.2 503.1,413.1 485.8,417.9" stroke="#343f97"/>
<polygon points="529.7,428.7 547.0,425.2 533.7,410.2 516.4,414.2" stroke="#322a71"/>
<polygon points="455.2,403.8 472.5,394.5 459.3,380.1 441.9,391.8" stroke="#115bbc"/>
<polygon points="468.5,422.6 485.8,417.9 472.5,394.5 455.2,403.8" stroke="#353484"/>
<polygon points="407.3,409.7 424.6,400.2 411.4,390.8 394.1,401.7" stroke="#1e53b6"/>
<polygon points="390.0,424.7 407.3,409.7 394.1,401.7 376.7,419.4" stroke="#343281"/>
<polygon points="342.1,430.3 359.4,420.9 346.2,414.5 328.9,425.9" stroke="#322a71"/>
<polygon points="437.9,410.7 455.2,403.8 441.9,391.8 424.6,400.2" stroke="#1e53b6"/>
<polygon points="372.7,426.5 390.0,424.7 376.7,419.4 359.4,420.9" stroke="#353788"/>
<polygon points="481.8,425.1 499.1,419.7 485.8,417.9 468.5,422.6" stroke="#35398e"/>
<polygon points="451.2,426.8 468.5,422.6 455.2,403.8 437.9,410.7" stroke="#343281"/>
<polygon points="512.4,432.1 529.7,428.7 516.4,414.2 499.1,419.7" stroke="#322a71"/>
<polygon points="420.6,418.5 437.9,410.7 424.6,400.2 407.3,409.7" stroke="#3045a4"/>
<polygon points="403.3,430.1 420.6,418.5 407.3,409.7 390.0,424.7" stroke="#34307c"/>
<polygon points="355.4,434.8 372.7,426.5 359.4,420.9 342.1,430.3" stroke="#322a71"/>
<polygon points="464.5,429.7 481.8,425.1 468.5,422.6 451.2,426.8" stroke="#353788"/>
<polygon points="433.9,431.2 451.2,426.8 437.9,410.7 420.6,418.5" stroke="#34307c"/>
<polygon points="495.1,435.6 512.4,432.1 499.1,419.7 481.8,425.1" stroke="#322a71"/>
<polygon points="386.0,432.4 403.3,430.1 390.0,424.7 372.7,426.5" stroke="#343382"/>
<polygon points="416.6,436.4 433.9,431.2 420.6,418.5 403.3,430.1" stroke="#332c74"/>
<polygon points="447.2,434.5 464.5,429.7 451.2,426.8 433.9,431.2" stroke="#343382"/>
<polygon points="477.8,439.0 495.1,435.6 481.8,425.1 464.5,429.7" stroke="#322a71"/>
<polygon points="368.7,439.3 386.0,432.4 372.7,426.5 355.4,434.8" stroke="#322a71"/>
<polygon points="399.3,439.6 416.6,436.4 403.3,430.1 386.0,432.4" stroke="#332c75"/>
<polygon points="429.9,440.6 447.2,434.5 433.9,431.2 416.6,436.4" stroke="#332c75"/>
<polygon points="460.5,442.4 477.8,439.0 464.5,429.7 447.2,434.5" stroke="#322a71"/>
<polygon points="382.0,443.8 399.3,439.6 386.0,432.4 368.7,439.3" stroke="#322a71"/>
<polygon points="412.6,443.7 429.9,440.6 416.6,436.4 399.3,439.6" stroke="#332d77"/>
<polygon points="443.1,445.9 460.5,442.4 447.2,434.5 429.9,440.6" stroke="#322a71"/>
<polygon points="395.3,448.3 412.6,443.7 399.3,439.6 382.0,443.8" stroke="#322a71"/>
<polygon points="425.8,449.3 443.1,445.9 429.9,440.6 412.6,443.7" stroke="#322a71"/>
<polygon points="408.5,452.8 425.8,449.3 412.6,443.7 395.3,448.3" stroke="#322a71"/>
</g>
<line x1="408.5" y1="452.8" x2="754.7" y2="383.9" stroke="#262626" stroke-width="1.8"/>
<line x1="408.5" y1="452.8" x2="142.9" y2="363.1" stroke="#262626" stroke-width="1.8"/>
<line x1="142.9" y1="363.1" x2="142.9" y2="167.3" stroke="#262626" stroke-width="1.8"/>
<line x1="408.5" y1="452.8" x2="414.4" y2="454.7" stroke="#262626" stroke-width="1.8"/>
<line x1="495.1" y1="435.6" x2="500.9" y2="437.5" stroke="#262626" stroke-width="1.8"/>
<line x1="581.6" y1="418.3" x2="587.4" y2="420.3" stroke="#262626" stroke-width="1.8"/>
<line x1="668.1" y1="401.1" x2="674.0" y2="403.1" stroke="#262626" stroke-width="1.8"/>
<line x1="754.7" y1="383.9" x2="760.5" y2="385.9" stroke="#262626" stroke-width="1.8"/>
<line x1="408.5" y1="452.8" x2="400.9" y2="454.3" stroke="#262626" stroke-width="1.8"/>
<line x1="275.7" y1="407.9" x2="268.1" y2="409.4" stroke="#262626" stroke-width="1.8"/>
<line x1="142.9" y1="363.1" x2="135.3" y2="364.6" stroke="#262626" stroke-width="1.8"/>
<line x1="142.9" y1="363.1" x2="137.1" y2="361.1" stroke="#262626" stroke-width="1.8"/>
<line x1="142.9" y1="265.2" x2="137.1" y2="263.2" stroke="#262626" stroke-width="1.8"/>
<line x1="142.9" y1="167.3" x2="137.1" y2="165.3" stroke="#262626" stroke-width="1.8"/>
<text transform="translate(425.0,482.2) scale(1.065,1)" font-size="22.2" text-anchor="start" font-weight="normal" fill="#262626" stroke="#262626" stroke-width="0.5" stroke-opacity="0.15">-1</text>
<text transform="translate(511.6,465.0) scale(1.065,1)" font-size="22.2" text-anchor="start" font-weight="normal" fill="#262626" stroke="#262626" stroke-width="0.5" stroke-opacity="0.15">-0.5</text>
<text transform="translate(598.1,447.8) scale(1.065,1)" font-size="22.2" text-anchor="start" font-weight="normal" fill="#262626" stroke="#262626" stroke-width="0.5" stroke-opacity="0.15">0</text>
<text transform="translate(684.6,430.6) scale(1.065,1)" font-size="22.2" text-anchor="start" font-weight="normal" fill="#262626" stroke="#262626" stroke-width="0.5" stroke-opacity="0.15">0.5</text>
<text transform="translate(771.2,413.4) scale(1.065,1)" font-size="22.2" text-anchor="start" font-weight="normal" fill="#262626" stroke="#262626" stroke-width="0.5" stroke-opacity="0.15">1</text>
<text transform="translate(390.9,481.0) scale(1.065,1)" font-size="22.2" text-anchor="end" font-weight="normal" fill="#262626" stroke="#262626" stroke-width="0.5" stroke-opacity="0.15">-1</text>
<text transform="translate(258.1,436.2) scale(1.065,1)" font-size="22.2" text-anchor="end" font-weight="normal" fill="#262626" stroke="#262626" stroke-width="0.5" stroke-opacity="0.15">0</text>
<text transform="translate(125.3,391.3) scale(1.065,1)" font-size="22.2" text-anchor="end" font-weight="normal" fill="#262626" stroke="#262626" stroke-width="0.5" stroke-opacity="0.15">1</text>
<text transform="translate(126.2,367.0) scale(1.065,1)" font-size="22.2" text-anchor="end" font-weight="normal" fill="#262626" stroke="#262626" stroke-width="0.5" stroke-opacity="0.15">0</text>
<text transform="translate(126.2,269.1) scale(1.065,1)" font-size="22.2" text-anchor="end" font-weight="normal" fill="#262626" stroke="#262626" stroke-width="0.5" stroke-opacity="0.15">0.5</text>
<text transform="translate(126.2,171.2) scale(1.065,1)" font-size="22.2" text-anchor="end" font-weight="normal" fill="#262626" stroke="#262626" stroke-width="0.5" stroke-opacity="0.15">1</text>
<text transform="translate(582.5,500.0) scale(1.065,1)" font-size="22.2" text-anchor="middle" font-weight="normal" fill="#262626" stroke="#262626" stroke-width="0.5">x</text>
<text transform="translate(275.0,494.0) scale(1.065,1)" font-size="22.2" text-anchor="middle" font-weight="normal" fill="#262626" stroke="#262626" stroke-width="0.5">y</text>
<g transform="translate(66.5,267) rotate(-90) scale(1,1.065)"><text font-size="24" text-anchor="middle" fill="#262626" stroke="#262626" stroke-width="0.8">|<tspan font-family='"Liberation Serif", "DejaVu Serif", serif' font-style="italic" fill="#666" stroke-width="0" dx="2">ψ</tspan><tspan font-size="16" dy="5" stroke-width="0.4">1</tspan><tspan dy="-5" dx="2">|</tspan></text></g>
<text transform="translate(448.6,78.2) scale(1.08,1)" font-size="25.5" font-weight="bold" text-anchor="middle" fill="#000" stroke="#000" stroke-width="0.2">Numerical representation of |<tspan font-family='"Liberation Serif", "DejaVu Serif", serif' font-style="italic" font-weight="normal">ψ</tspan><tspan font-size="18" dy="6">1</tspan><tspan dy="-6">|</tspan></text>
<defs><linearGradient id="cb1" x1="0" y1="0" x2="0" y2="1"><stop offset="0.0000" stop-color="#f9fb0e"/><stop offset="0.0159" stop-color="#f6f313"/><stop offset="0.0317" stop-color="#f5eb18"/><stop offset="0.0476" stop-color="#f5e41d"/><stop offset="0.0635" stop-color="#f5de21"/><stop offset="0.0794" stop-color="#f7d826"/><stop offset="0.0952" stop-color="#fad32a"/><stop offset="0.1111" stop-color="#fcce2e"/><stop offset="0.1270" stop-color="#fec832"/><stop offset="0.1429" stop-color="#ffc337"/><stop offset="0.1587" stop-color="#fdbe3d"/><stop offset="0.1746" stop-color="#f8bb44"/><stop offset="0.1905" stop-color="#f1b94a"/><stop offset="0.2063" stop-color="#e9b94e"/><stop offset="0.2222" stop-color="#e1b952"/><stop offset="0.2381" stop-color="#d9ba56"/><stop offset="0.2540" stop-color="#d1bb59"/><stop offset="0.2698" stop-color="#c8bc5d"/><stop offset="0.2857" stop-color="#c0bc60"/><stop offset="0.3016" stop-color="#b7bd64"/><stop offset="0.3175" stop-color="#aebe67"/><stop offset="0.3333" stop-color="#a5be6b"/><stop offset="0.3492" stop-color="#9cbf6f"/><stop offset="0.3651" stop-color="#92bf73"/><stop offset="0.3810" stop-color="#87bf77"/><stop offset="0.3968" stop-color="#7cbf7b"/><stop offset="0.4127" stop-color="#71bf80"/><stop offset="0.4286" stop-color="#65be86"/><stop offset="0.4444" stop-color="#59bd8c"/><stop offset="0.4603" stop-color="#4dbc92"/><stop offset="0.4762" stop-color="#42bb98"/><stop offset="0.4921" stop-color="#38b99e"/><stop offset="0.5079" stop-color="#2eb7a4"/><stop offset="0.5238" stop-color="#25b5a9"/><stop offset="0.5397" stop-color="#1db3af"/><stop offset="0.5556" stop-color="#15b1b4"/><stop offset="0.5714" stop-color="#0faeb9"/><stop offset="0.5873" stop-color="#0aacbe"/><stop offset="0.6032" stop-color="#07a9c2"/><stop offset="0.6190" stop-color="#06a7c6"/><stop offset="0.6349" stop-color="#06a4ca"/><stop offset="0.6508" stop-color="#06a0cd"/><stop offset="0.6667" stop-color="#079ccf"/><stop offset="0.6825" stop-color="#0998d1"/><stop offset="0.6984" stop-color="#0c93d2"/><stop offset="0.7143" stop-color="#108ed2"/><stop offset="0.7302" stop-color="#1389d3"/><stop offset="0.7460" stop-color="#1485d4"/><stop offset="0.7619" stop-color="#1481d6"/><stop offset="0.7778" stop-color="#127dd8"/><stop offset="0.7937" stop-color="#1079da"/><stop offset="0.8095" stop-color="#0d75dc"/><stop offset="0.8254" stop-color="#0871de"/><stop offset="0.8413" stop-color="#046de0"/><stop offset="0.8571" stop-color="#0268e1"/><stop offset="0.8730" stop-color="#0363e1"/><stop offset="0.8889" stop-color="#0f5cdd"/><stop offset="0.9048" stop-color="#2053d4"/><stop offset="0.9206" stop-color="#2c4ac7"/><stop offset="0.9365" stop-color="#3243ba"/><stop offset="0.9524" stop-color="#353dad"/><stop offset="0.9683" stop-color="#3637a0"/><stop offset="0.9841" stop-color="#363093"/><stop offset="1.0000" stop-color="#352a87"/></linearGradient></defs>
<rect x="825.5" y="99.3" width="51.8" height="354.2" fill="url(#cb1)" stroke="#262626" stroke-width="1.8"/>
<text transform="translate(883.5,460.7) scale(1.065,1)" font-size="20" text-anchor="start" font-weight="normal" fill="#3a3a3a" stroke="#3a3a3a" stroke-width="0.5" stroke-opacity="0">0</text>
<line x1="872.3" y1="404.0" x2="877.3" y2="404.0" stroke="#262626" stroke-width="1.6"/>
<text transform="translate(883.5,411.1) scale(1.065,1)" font-size="20" text-anchor="start" font-weight="normal" fill="#3a3a3a" stroke="#3a3a3a" stroke-width="0.5" stroke-opacity="0">0.1</text>
<line x1="872.3" y1="354.4" x2="877.3" y2="354.4" stroke="#262626" stroke-width="1.6"/>
<text transform="translate(883.5,361.6) scale(1.065,1)" font-size="20" text-anchor="start" font-weight="normal" fill="#3a3a3a" stroke="#3a3a3a" stroke-width="0.5" stroke-opacity="0">0.2</text>
<line x1="872.3" y1="304.9" x2="877.3" y2="304.9" stroke="#262626" stroke-width="1.6"/>
<text transform="translate(883.5,312.0) scale(1.065,1)" font-size="20" text-anchor="start" font-weight="normal" fill="#3a3a3a" stroke="#3a3a3a" stroke-width="0.5" stroke-opacity="0">0.3</text>
<line x1="872.3" y1="255.3" x2="877.3" y2="255.3" stroke="#262626" stroke-width="1.6"/>
<text transform="translate(883.5,262.5) scale(1.065,1)" font-size="20" text-anchor="start" font-weight="normal" fill="#3a3a3a" stroke="#3a3a3a" stroke-width="0.5" stroke-opacity="0">0.4</text>
<line x1="872.3" y1="205.8" x2="877.3" y2="205.8" stroke="#262626" stroke-width="1.6"/>
<text transform="translate(883.5,213.0) scale(1.065,1)" font-size="20" text-anchor="start" font-weight="normal" fill="#3a3a3a" stroke="#3a3a3a" stroke-width="0.5" stroke-opacity="0">0.5</text>
<line x1="872.3" y1="156.3" x2="877.3" y2="156.3" stroke="#262626" stroke-width="1.6"/>
<text transform="translate(883.5,163.4) scale(1.065,1)" font-size="20" text-anchor="start" font-weight="normal" fill="#3a3a3a" stroke="#3a3a3a" stroke-width="0.5" stroke-opacity="0">0.6</text>
<line x1="872.3" y1="106.7" x2="877.3" y2="106.7" stroke="#262626" stroke-width="1.6"/>
<text transform="translate(883.5,113.9) scale(1.065,1)" font-size="20" text-anchor="start" font-weight="normal" fill="#3a3a3a" stroke="#3a3a3a" stroke-width="0.5" stroke-opacity="0">0.7</text>
<rect x="176.0" y="177.5" width="192.0" height="95.0" fill="none" stroke="#444" stroke-width="2.5" rx="2"/>
<text transform="translate(188.6,208.0) scale(1.065,1)" font-size="21.6" text-anchor="start" font-weight="normal" fill="#262626" stroke="#262626" stroke-width="0.5">Time level t = 1</text>
<text transform="translate(188.6,236.5) scale(1.065,1)" font-size="21.6" fill="#262626" stroke="#262626" stroke-width="0.5">and <tspan font-family='"Liberation Serif", "DejaVu Serif", serif' font-style="italic" dx="1.5" fill="#555" stroke-width="0.2">τ</tspan><tspan dx="3.5"> = 1</tspan></text><line x1="1168.9" y1="363.1" x2="1168.9" y2="167.3" stroke="#e0e0e0" stroke-width="1.9"/>
<line x1="1434.5" y1="452.8" x2="1168.9" y2="363.1" stroke="#e0e0e0" stroke-width="1.9"/>
<line x1="1255.5" y1="345.9" x2="1255.5" y2="150.1" stroke="#e0e0e0" stroke-width="1.9"/>
<line x1="1521.1" y1="435.6" x2="1255.5" y2="345.9" stroke="#e0e0e0" stroke-width="1.9"/>
<line x1="1342.0" y1="328.7" x2="1342.0" y2="132.9" stroke="#e0e0e0" stroke-width="1.9"/>
<line x1="1607.6" y1="418.3" x2="1342.0" y2="328.7" stroke="#e0e0e0" stroke-width="1.9"/>
<line x1="1428.5" y1="311.5" x2="1428.5" y2="115.6" stroke="#e0e0e0" stroke-width="1.9"/>
<line x1="1694.1" y1="401.1" x2="1428.5" y2="311.5" stroke="#e0e0e0" stroke-width="1.9"/>
<line x1="1515.1" y1="294.2" x2="1515.1" y2="98.4" stroke="#e0e0e0" stroke-width="1.9"/>
<line x1="1780.7" y1="383.9" x2="1515.1" y2="294.2" stroke="#e0e0e0" stroke-width="1.9"/>
<line x1="1780.7" y1="383.9" x2="1780.7" y2="188.1" stroke="#e0e0e0" stroke-width="1.9"/>
<line x1="1434.5" y1="452.8" x2="1780.7" y2="383.9" stroke="#e0e0e0" stroke-width="1.9"/>
<line x1="1647.9" y1="339.1" x2="1647.9" y2="143.3" stroke="#e0e0e0" stroke-width="1.9"/>
<line x1="1301.7" y1="407.9" x2="1647.9" y2="339.1" stroke="#e0e0e0" stroke-width="1.9"/>
<line x1="1515.1" y1="294.2" x2="1515.1" y2="98.4" stroke="#e0e0e0" stroke-width="1.9"/>
<line x1="1168.9" y1="363.1" x2="1515.1" y2="294.2" stroke="#e0e0e0" stroke-width="1.9"/>
<line x1="1168.9" y1="363.1" x2="1515.1" y2="294.2" stroke="#e0e0e0" stroke-width="1.9"/>
<line x1="1515.1" y1="294.2" x2="1780.7" y2="383.9" stroke="#e0e0e0" stroke-width="1.9"/>
<line x1="1168.9" y1="265.2" x2="1515.1" y2="196.3" stroke="#e0e0e0" stroke-width="1.9"/>
<line x1="1515.1" y1="196.3" x2="1780.7" y2="286.0" stroke="#e0e0e0" stroke-width="1.9"/>
<line x1="1168.9" y1="167.3" x2="1515.1" y2="98.4" stroke="#e0e0e0" stroke-width="1.9"/>
<line x1="1515.1" y1="98.4" x2="1780.7" y2="188.1" stroke="#e0e0e0" stroke-width="1.9"/>
<g stroke-width="1.85" stroke-linejoin="round" fill="#fff">
<polygon points="1511.0,301.1 1528.3,298.7 1515.1,294.2 1497.8,297.7" stroke="#332d77"/>
<polygon points="1493.7,304.9 1511.0,301.1 1497.8,297.7 1480.5,301.1" stroke="#332c75"/>
<polygon points="1524.3,305.9 1541.6,303.2 1528.3,298.7 1511.0,301.1" stroke="#332c75"/>
<polygon points="1476.4,305.6 1493.7,304.9 1480.5,301.1 1463.1,304.6" stroke="#343382"/>
<polygon points="1507.0,309.6 1524.3,305.9 1511.0,301.1 1493.7,304.9" stroke="#332c74"/>
<polygon points="1537.6,307.7 1554.9,307.7 1541.6,303.2 1524.3,305.9" stroke="#343382"/>
<polygon points="1459.1,307.8 1476.4,305.6 1463.1,304.6 1445.8,308.0" stroke="#353688"/>
<polygon points="1489.7,311.2 1507.0,309.6 1493.7,304.9 1476.4,305.6" stroke="#34307c"/>
<polygon points="1520.3,312.3 1537.6,307.7 1524.3,305.9 1507.0,309.6" stroke="#34307c"/>
<polygon points="1550.9,310.9 1568.2,312.2 1554.9,307.7 1537.6,307.7" stroke="#353688"/>
<polygon points="1441.8,309.9 1459.1,307.8 1445.8,308.0 1428.5,311.5" stroke="#35398e"/>
<polygon points="1472.4,313.8 1489.7,311.2 1476.4,305.6 1459.1,307.8" stroke="#343281"/>
<polygon points="1503.0,307.4 1520.3,312.3 1507.0,309.6 1489.7,311.2" stroke="#3045a4"/>
<polygon points="1533.6,315.9 1550.9,310.9 1537.6,307.7 1520.3,312.3" stroke="#343281"/>
<polygon points="1424.5,311.4 1441.8,309.9 1428.5,311.5 1411.2,314.9" stroke="#343f98"/>
<polygon points="1564.2,314.1 1581.5,316.7 1568.2,312.2 1550.9,310.9" stroke="#35398e"/>
<polygon points="1455.1,316.4 1472.4,313.8 1459.1,307.8 1441.8,309.9" stroke="#353485"/>
<polygon points="1485.7,306.9 1503.0,307.4 1489.7,311.2 1472.4,313.8" stroke="#1f52b6"/>
<polygon points="1407.2,312.9 1424.5,311.4 1411.2,314.9 1393.9,318.3" stroke="#3144a1"/>
<polygon points="1546.9,319.5 1564.2,314.1 1550.9,310.9 1533.6,315.9" stroke="#353485"/>
<polygon points="1516.3,307.9 1533.6,315.9 1520.3,312.3 1503.0,307.4" stroke="#1f52b6"/>
<polygon points="1577.4,316.6 1594.7,321.2 1581.5,316.7 1564.2,314.1" stroke="#343f98"/>
<polygon points="1437.8,318.5 1455.1,316.4 1441.8,309.9 1424.5,311.4" stroke="#35378b"/>
<polygon points="1389.9,315.8 1407.2,312.9 1393.9,318.3 1376.6,321.8" stroke="#3045a4"/>
<polygon points="1468.4,306.3 1485.7,306.9 1472.4,313.8 1455.1,316.4" stroke="#105cbc"/>
<polygon points="1420.5,320.7 1437.8,318.5 1424.5,311.4 1407.2,312.9" stroke="#353b91"/>
<polygon points="1560.1,322.7 1577.4,316.6 1564.2,314.1 1546.9,319.5" stroke="#35378b"/>
<polygon points="1529.5,308.4 1546.9,319.5 1533.6,315.9 1516.3,307.9" stroke="#105cbc"/>
<polygon points="1590.7,319.2 1608.0,325.6 1594.7,321.2 1577.4,316.6" stroke="#3144a1"/>
<polygon points="1499.0,305.9 1516.3,307.9 1503.0,307.4 1485.7,306.9" stroke="#1060bc"/>
<polygon points="1372.6,318.6 1389.9,315.8 1376.6,321.8 1359.3,325.2" stroke="#2f47a7"/>
<polygon points="1451.1,303.8 1468.4,306.3 1455.1,316.4 1437.8,318.5" stroke="#1768bb"/>
<polygon points="1403.2,323.8 1420.5,320.7 1407.2,312.9 1389.9,315.8" stroke="#353c93"/>
<polygon points="1573.4,325.9 1590.7,319.2 1577.4,316.6 1560.1,322.7" stroke="#353b91"/>
<polygon points="1355.3,320.7 1372.6,318.6 1359.3,325.2 1342.0,328.7" stroke="#294bad"/>
<polygon points="1604.0,323.1 1621.3,330.1 1608.0,325.6 1590.7,319.2" stroke="#3045a4"/>
<polygon points="1542.8,306.9 1560.1,322.7 1546.9,319.5 1529.5,308.4" stroke="#1768bb"/>
<polygon points="1481.7,303.9 1499.0,305.9 1485.7,306.9 1468.4,306.3" stroke="#1969ba"/>
<polygon points="1512.2,305.0 1529.5,308.4 1516.3,307.9 1499.0,305.9" stroke="#1969ba"/>
<polygon points="1385.9,326.8 1403.2,323.8 1389.9,315.8 1372.6,318.6" stroke="#343d95"/>
<polygon points="1433.8,301.4 1451.1,303.8 1437.8,318.5 1420.5,320.7" stroke="#1f71b8"/>
<polygon points="1338.0,325.5 1355.3,320.7 1342.0,328.7 1324.7,332.1" stroke="#2f47a7"/>
<polygon points="1586.7,330.0 1604.0,323.1 1590.7,319.2 1573.4,325.9" stroke="#353c93"/>
<polygon points="1617.3,327.0 1634.6,334.6 1621.3,330.1 1604.0,323.1" stroke="#2f47a7"/>
<polygon points="1368.6,329.3 1385.9,326.8 1372.6,318.6 1355.3,320.7" stroke="#343f9a"/>
<polygon points="1464.3,299.1 1481.7,303.9 1468.4,306.3 1451.1,303.8" stroke="#2176b6"/>
<polygon points="1556.1,305.6 1573.4,325.9 1560.1,322.7 1542.8,306.9" stroke="#1f71b8"/>
<polygon points="1416.5,303.0 1433.8,301.4 1420.5,320.7 1403.2,323.8" stroke="#2074b7"/>
<polygon points="1320.7,329.6 1338.0,325.5 1324.7,332.1 1307.4,335.5" stroke="#3045a4"/>
<polygon points="1494.9,301.4 1512.2,305.0 1499.0,305.9 1481.7,303.9" stroke="#2074b7"/>
<polygon points="1525.5,301.2 1542.8,306.9 1529.5,308.4 1512.2,305.0" stroke="#2176b6"/>
<polygon points="1351.3,333.7 1368.6,329.3 1355.3,320.7 1338.0,325.5" stroke="#343d95"/>
<polygon points="1600.0,334.1 1617.3,327.0 1604.0,323.1 1586.7,330.0" stroke="#343d95"/>
<polygon points="1630.6,330.1 1647.9,339.1 1634.6,334.6 1617.3,327.0" stroke="#294bad"/>
<polygon points="1303.4,333.6 1320.7,329.6 1307.4,335.5 1290.1,339.0" stroke="#3144a1"/>
<polygon points="1399.1,304.5 1416.5,303.0 1403.2,323.8 1385.9,326.8" stroke="#2176b6"/>
<polygon points="1569.4,308.2 1586.7,330.0 1573.4,325.9 1556.1,305.6" stroke="#2074b7"/>
<polygon points="1447.0,294.6 1464.3,299.1 1451.1,303.8 1433.8,301.4" stroke="#1d85b5"/>
<polygon points="1333.9,337.5 1351.3,333.7 1338.0,325.5 1320.7,329.6" stroke="#353c93"/>
<polygon points="1286.1,338.9 1303.4,333.6 1290.1,339.0 1272.8,342.4" stroke="#343f98"/>
<polygon points="1477.6,294.4 1494.9,301.4 1481.7,303.9 1464.3,299.1" stroke="#1c86b4"/>
<polygon points="1643.8,335.9 1661.2,343.6 1647.9,339.1 1630.6,330.1" stroke="#2f47a7"/>
<polygon points="1613.3,337.7 1630.6,330.1 1617.3,327.0 1600.0,334.1" stroke="#343f9a"/>
<polygon points="1381.8,303.7 1399.1,304.5 1385.9,326.8 1368.6,329.3" stroke="#217eb5"/>
<polygon points="1508.2,295.4 1525.5,301.2 1512.2,305.0 1494.9,301.4" stroke="#1c86b4"/>
<polygon points="1538.8,297.7 1556.1,305.6 1542.8,306.9 1525.5,301.2" stroke="#1d85b5"/>
<polygon points="1316.6,341.4 1333.9,337.5 1320.7,329.6 1303.4,333.6" stroke="#353b91"/>
<polygon points="1268.7,344.3 1286.1,338.9 1272.8,342.4 1255.5,345.9" stroke="#35398e"/>
<polygon points="1582.7,310.8 1600.0,334.1 1586.7,330.0 1569.4,308.2" stroke="#2176b6"/>
<polygon points="1429.7,295.5 1447.0,294.6 1433.8,301.4 1416.5,303.0" stroke="#1a89b5"/>
<polygon points="1364.5,311.4 1381.8,303.7 1368.6,329.3 1351.3,333.7" stroke="#2176b6"/>
<polygon points="1657.1,341.0 1674.4,348.1 1661.2,343.6 1643.8,335.9" stroke="#3045a4"/>
<polygon points="1626.5,343.1 1643.8,335.9 1630.6,330.1 1613.3,337.7" stroke="#343d95"/>
<polygon points="1299.3,346.1 1316.6,341.4 1303.4,333.6 1286.1,338.9" stroke="#35378b"/>
<polygon points="1251.4,349.0 1268.7,344.3 1255.5,345.9 1238.2,349.3" stroke="#353688"/>
<polygon points="1460.3,287.7 1477.6,294.4 1464.3,299.1 1447.0,294.6" stroke="#1995ad"/>
<polygon points="1347.2,316.8 1364.5,311.4 1351.3,333.7 1333.9,337.5" stroke="#2074b7"/>
<polygon points="1552.1,299.7 1569.4,308.2 1556.1,305.6 1538.8,297.7" stroke="#1a89b5"/>
<polygon points="1412.4,296.3 1429.7,295.5 1416.5,303.0 1399.1,304.5" stroke="#198db3"/>
<polygon points="1490.9,285.0 1508.2,295.4 1494.9,301.4 1477.6,294.4" stroke="#1c99a8"/>
<polygon points="1595.9,311.0 1613.3,337.7 1600.0,334.1 1582.7,310.8" stroke="#217eb5"/>
<polygon points="1282.0,350.8 1299.3,346.1 1286.1,338.9 1268.7,344.3" stroke="#353485"/>
<polygon points="1521.5,289.8 1538.8,297.7 1525.5,301.2 1508.2,295.4" stroke="#1995ad"/>
<polygon points="1670.4,346.1 1687.7,352.5 1674.4,348.1 1657.1,341.0" stroke="#3144a1"/>
<polygon points="1234.1,353.8 1251.4,349.0 1238.2,349.3 1220.8,352.7" stroke="#343382"/>
<polygon points="1639.8,348.0 1657.1,341.0 1643.8,335.9 1626.5,343.1" stroke="#353c93"/>
<polygon points="1329.9,322.0 1347.2,316.8 1333.9,337.5 1316.6,341.4" stroke="#1f71b8"/>
<polygon points="1264.7,355.1 1282.0,350.8 1268.7,344.3 1251.4,349.0" stroke="#343281"/>
<polygon points="1443.0,287.9 1460.3,287.7 1447.0,294.6 1429.7,295.5" stroke="#1b99a9"/>
<polygon points="1395.1,293.9 1412.4,296.3 1399.1,304.5 1381.8,303.7" stroke="#1995ae"/>
<polygon points="1216.8,359.9 1234.1,353.8 1220.8,352.7 1203.5,356.2" stroke="#332c75"/>
<polygon points="1609.2,319.8 1626.5,343.1 1613.3,337.7 1595.9,311.0" stroke="#2176b6"/>
<polygon points="1312.6,331.3 1329.9,322.0 1316.6,341.4 1299.3,346.1" stroke="#1768bb"/>
<polygon points="1565.4,301.5 1582.7,310.8 1569.4,308.2 1552.1,299.7" stroke="#198db3"/>
<polygon points="1683.7,352.5 1701.0,357.0 1687.7,352.5 1670.4,346.1" stroke="#343f98"/>
<polygon points="1653.1,352.8 1670.4,346.1 1657.1,341.0 1639.8,348.0" stroke="#353b91"/>
<polygon points="1247.4,359.4 1264.7,355.1 1251.4,349.0 1234.1,353.8" stroke="#34307c"/>
<polygon points="1534.8,291.1 1552.1,299.7 1538.8,297.7 1521.5,289.8" stroke="#1b99a9"/>
<polygon points="1295.3,340.7 1312.6,331.3 1299.3,346.1 1282.0,350.8" stroke="#105cbc"/>
<polygon points="1473.6,275.0 1490.9,285.0 1477.6,294.4 1460.3,287.7" stroke="#42a793"/>
<polygon points="1199.5,363.0 1216.8,359.9 1203.5,356.2 1186.2,359.6" stroke="#332d77"/>
<polygon points="1377.8,303.2 1395.1,293.9 1381.8,303.7 1364.5,311.4" stroke="#198db3"/>
<polygon points="1504.2,276.1 1521.5,289.8 1508.2,295.4 1490.9,285.0" stroke="#42a793"/>
<polygon points="1425.7,288.0 1443.0,287.9 1429.7,295.5 1412.4,296.3" stroke="#219ca4"/>
<polygon points="1622.5,326.2 1639.8,348.0 1626.5,343.1 1609.2,319.8" stroke="#2074b7"/>
<polygon points="1230.1,364.7 1247.4,359.4 1234.1,353.8 1216.8,359.9" stroke="#332c74"/>
<polygon points="1278.0,348.2 1295.3,340.7 1282.0,350.8 1264.7,355.1" stroke="#1f52b6"/>
<polygon points="1697.0,358.9 1714.3,361.5 1701.0,357.0 1683.7,352.5" stroke="#35398e"/>
<polygon points="1666.4,358.6 1683.7,352.5 1670.4,346.1 1653.1,352.8" stroke="#35378b"/>
<polygon points="1360.5,309.3 1377.8,303.2 1364.5,311.4 1347.2,316.8" stroke="#1a89b5"/>
<polygon points="1578.6,300.2 1595.9,311.0 1582.7,310.8 1565.4,301.5" stroke="#1995ae"/>
<polygon points="1182.2,367.6 1199.5,363.0 1186.2,359.6 1168.9,363.1" stroke="#322a71"/>
<polygon points="1260.7,355.6 1278.0,348.2 1264.7,355.1 1247.4,359.4" stroke="#3045a4"/>
<polygon points="1212.8,367.8 1230.1,364.7 1216.8,359.9 1199.5,363.0" stroke="#332c75"/>
<polygon points="1548.1,292.2 1565.4,301.5 1552.1,299.7 1534.8,291.1" stroke="#219ca4"/>
<polygon points="1635.8,332.5 1653.1,352.8 1639.8,348.0 1622.5,326.2" stroke="#1f71b8"/>
<polygon points="1343.2,315.2 1360.5,309.3 1347.2,316.8 1329.9,322.0" stroke="#1d85b5"/>
<polygon points="1456.3,274.3 1473.6,275.0 1460.3,287.7 1443.0,287.9" stroke="#52aa8b"/>
<polygon points="1408.4,284.0 1425.7,288.0 1412.4,296.3 1395.1,293.9" stroke="#36a498"/>
<polygon points="1710.2,364.7 1727.6,366.0 1714.3,361.5 1697.0,358.9" stroke="#353688"/>
<polygon points="1679.7,364.4 1697.0,358.9 1683.7,352.5 1666.4,358.6" stroke="#353485"/>
<polygon points="1243.4,367.3 1260.7,355.6 1247.4,359.4 1230.1,364.7" stroke="#34307c"/>
<polygon points="1325.9,326.7 1343.2,315.2 1329.9,322.0 1312.6,331.3" stroke="#2176b6"/>
<polygon points="1591.9,310.5 1609.2,319.8 1595.9,311.0 1578.6,300.2" stroke="#198db3"/>
<polygon points="1517.5,276.3 1534.8,291.1 1521.5,289.8 1504.2,276.1" stroke="#52aa8b"/>
<polygon points="1195.5,372.0 1212.8,367.8 1199.5,363.0 1182.2,367.6" stroke="#322a71"/>
<polygon points="1308.6,338.3 1325.9,326.7 1312.6,331.3 1295.3,340.7" stroke="#1969ba"/>
<polygon points="1649.1,342.8 1666.4,358.6 1653.1,352.8 1635.8,332.5" stroke="#1768bb"/>
<polygon points="1391.1,294.9 1408.4,284.0 1395.1,293.9 1377.8,303.2" stroke="#219ca4"/>
<polygon points="1486.9,262.9 1504.2,276.1 1490.9,285.0 1473.6,275.0" stroke="#87b076"/>
<polygon points="1226.1,369.6 1243.4,367.3 1230.1,364.7 1212.8,367.8" stroke="#343382"/>
<polygon points="1291.3,347.2 1308.6,338.3 1295.3,340.7 1278.0,348.2" stroke="#1060bc"/>
<polygon points="1692.9,369.7 1710.2,364.7 1697.0,358.9 1679.7,364.4" stroke="#343281"/>
<polygon points="1439.0,273.2 1456.3,274.3 1443.0,287.9 1425.7,288.0" stroke="#66ad83"/>
<polygon points="1723.5,370.5 1740.8,370.5 1727.6,366.0 1710.2,364.7" stroke="#343382"/>
<polygon points="1605.2,317.6 1622.5,326.2 1609.2,319.8 1591.9,310.5" stroke="#1a89b5"/>
<polygon points="1561.3,289.2 1578.6,300.2 1565.4,301.5 1548.1,292.2" stroke="#36a498"/>
<polygon points="1373.8,301.7 1391.1,294.9 1377.8,303.2 1360.5,309.3" stroke="#1b99a9"/>
<polygon points="1274.0,356.1 1291.3,347.2 1278.0,348.2 1260.7,355.6" stroke="#1f52b6"/>
<polygon points="1662.3,353.3 1679.7,364.4 1666.4,358.6 1649.1,342.8" stroke="#105cbc"/>
<polygon points="1256.7,371.0 1274.0,356.1 1260.7,355.6 1243.4,367.3" stroke="#343281"/>
<polygon points="1208.8,376.5 1226.1,369.6 1212.8,367.8 1195.5,372.0" stroke="#322a71"/>
<polygon points="1356.5,308.3 1373.8,301.7 1360.5,309.3 1343.2,315.2" stroke="#1995ad"/>
<polygon points="1530.7,276.4 1548.1,292.2 1534.8,291.1 1517.5,276.3" stroke="#66ad83"/>
<polygon points="1706.2,375.1 1723.5,370.5 1710.2,364.7 1692.9,369.7" stroke="#34307c"/>
<polygon points="1618.5,324.6 1635.8,332.5 1622.5,326.2 1605.2,317.6" stroke="#1d85b5"/>
<polygon points="1239.4,372.8 1256.7,371.0 1243.4,367.3 1226.1,369.6" stroke="#353688"/>
<polygon points="1736.8,377.7 1754.1,375.0 1740.8,370.5 1723.5,370.5" stroke="#332c75"/>
<polygon points="1339.2,321.9 1356.5,308.3 1343.2,315.2 1325.9,326.7" stroke="#1c86b4"/>
<polygon points="1321.9,335.9 1339.2,321.9 1325.9,326.7 1308.6,338.3" stroke="#2074b7"/>
<polygon points="1574.6,301.2 1591.9,310.5 1578.6,300.2 1561.3,289.2" stroke="#219ca4"/>
<polygon points="1675.6,361.7 1692.9,369.7 1679.7,364.4 1662.3,353.3" stroke="#1f52b6"/>
<polygon points="1421.7,266.8 1439.0,273.2 1425.7,288.0 1408.4,284.0" stroke="#8fb075"/>
<polygon points="1469.6,261.1 1486.9,262.9 1473.6,275.0 1456.3,274.3" stroke="#9ab070"/>
<polygon points="1304.6,346.3 1321.9,335.9 1308.6,338.3 1291.3,347.2" stroke="#1969ba"/>
<polygon points="1500.2,262.2 1517.5,276.3 1504.2,276.1 1486.9,262.9" stroke="#9ab070"/>
<polygon points="1631.8,337.1 1649.1,342.8 1635.8,332.5 1618.5,324.6" stroke="#2176b6"/>
<polygon points="1222.0,381.0 1239.4,372.8 1226.1,369.6 1208.8,376.5" stroke="#322a71"/>
<polygon points="1287.3,356.6 1304.6,346.3 1291.3,347.2 1274.0,356.1" stroke="#105cbc"/>
<polygon points="1269.9,374.6 1287.3,356.6 1274.0,356.1 1256.7,371.0" stroke="#353485"/>
<polygon points="1719.5,381.4 1736.8,377.7 1723.5,370.5 1706.2,375.1" stroke="#332c74"/>
<polygon points="1587.9,309.0 1605.2,317.6 1591.9,310.5 1574.6,301.2" stroke="#1b99a9"/>
<polygon points="1750.1,381.8 1767.4,379.5 1754.1,375.0 1736.8,377.7" stroke="#332d77"/>
<polygon points="1688.9,370.2 1706.2,375.1 1692.9,369.7 1675.6,361.7" stroke="#3045a4"/>
<polygon points="1404.4,280.1 1421.7,266.8 1408.4,284.0 1391.1,294.9" stroke="#66ad83"/>
<polygon points="1252.6,376.0 1269.9,374.6 1256.7,371.0 1239.4,372.8" stroke="#35398e"/>
<polygon points="1645.0,349.8 1662.3,353.3 1649.1,342.8 1631.8,337.1" stroke="#1969ba"/>
<polygon points="1544.0,271.0 1561.3,289.2 1548.1,292.2 1530.7,276.4" stroke="#8fb075"/>
<polygon points="1387.1,288.0 1404.4,280.1 1391.1,294.9 1373.8,301.7" stroke="#52aa8b"/>
<polygon points="1452.3,259.1 1469.6,261.1 1456.3,274.3 1439.0,273.2" stroke="#adb06a"/>
<polygon points="1601.2,316.7 1618.5,324.6 1605.2,317.6 1587.9,309.0" stroke="#1995ad"/>
<polygon points="1658.3,359.8 1675.6,361.7 1662.3,353.3 1645.0,349.8" stroke="#1060bc"/>
<polygon points="1235.3,385.5 1252.6,376.0 1239.4,372.8 1222.0,381.0" stroke="#322a71"/>
<polygon points="1732.8,385.6 1750.1,381.8 1736.8,377.7 1719.5,381.4" stroke="#332c75"/>
<polygon points="1702.2,383.0 1719.5,381.4 1706.2,375.1 1688.9,370.2" stroke="#34307c"/>
<polygon points="1369.8,295.7 1387.1,288.0 1373.8,301.7 1356.5,308.3" stroke="#42a793"/>
<polygon points="1513.4,261.1 1530.7,276.4 1517.5,276.3 1500.2,262.2" stroke="#adb06a"/>
<polygon points="1335.1,329.9 1352.5,312.6 1339.2,321.9 1321.9,335.9" stroke="#1c86b4"/>
<polygon points="1317.8,342.5 1335.1,329.9 1321.9,335.9 1304.6,346.3" stroke="#2176b6"/>
<polygon points="1283.2,377.8 1300.5,355.1 1287.3,356.6 1269.9,374.6" stroke="#35378b"/>
<polygon points="1763.4,387.4 1780.7,383.9 1767.4,379.5 1750.1,381.8" stroke="#322a71"/>
<polygon points="1352.5,312.6 1369.8,295.7 1356.5,308.3 1339.2,321.9" stroke="#1c99a8"/>
<polygon points="1300.5,355.1 1317.8,342.5 1304.6,346.3 1287.3,356.6" stroke="#1768bb"/>
<polygon points="1482.9,260.1 1500.2,262.2 1486.9,262.9 1469.6,261.1" stroke="#adb06a"/>
<polygon points="1265.9,378.6 1283.2,377.8 1269.9,374.6 1252.6,376.0" stroke="#343f98"/>
<polygon points="1614.5,331.3 1631.8,337.1 1618.5,324.6 1601.2,316.7" stroke="#1c86b4"/>
<polygon points="1557.3,285.3 1574.6,301.2 1561.3,289.2 1544.0,271.0" stroke="#66ad83"/>
<polygon points="1671.6,369.7 1688.9,370.2 1675.6,361.7 1658.3,359.8" stroke="#1f52b6"/>
<polygon points="1627.7,346.3 1645.0,349.8 1631.8,337.1 1614.5,331.3" stroke="#2074b7"/>
<polygon points="1715.5,386.3 1732.8,385.6 1719.5,381.4 1702.2,383.0" stroke="#343382"/>
<polygon points="1746.1,390.8 1763.4,387.4 1750.1,381.8 1732.8,385.6" stroke="#322a71"/>
<polygon points="1570.6,294.3 1587.9,309.0 1574.6,301.2 1557.3,285.3" stroke="#52aa8b"/>
<polygon points="1248.6,390.0 1265.9,378.6 1252.6,376.0 1235.3,385.5" stroke="#322a71"/>
<polygon points="1435.0,250.4 1452.3,259.1 1439.0,273.2 1421.7,266.8" stroke="#d2ae5d"/>
<polygon points="1684.9,385.6 1702.2,383.0 1688.9,370.2 1671.6,369.7" stroke="#343281"/>
<polygon points="1641.0,357.7 1658.3,359.8 1645.0,349.8 1627.7,346.3" stroke="#1969ba"/>
<polygon points="1296.5,381.0 1313.8,353.7 1300.5,355.1 1283.2,377.8" stroke="#353b91"/>
<polygon points="1279.2,381.1 1296.5,381.0 1283.2,377.8 1265.9,378.6" stroke="#3144a1"/>
<polygon points="1465.5,257.7 1482.9,260.1 1469.6,261.1 1452.3,259.1" stroke="#bfaf64"/>
<polygon points="1654.3,369.1 1671.6,369.7 1658.3,359.8 1641.0,357.7" stroke="#105cbc"/>
<polygon points="1698.2,388.5 1715.5,386.3 1702.2,383.0 1684.9,385.6" stroke="#353688"/>
<polygon points="1583.9,303.0 1601.2,316.7 1587.9,309.0 1570.6,294.3" stroke="#42a793"/>
<polygon points="1526.7,253.5 1544.0,271.0 1530.7,276.4 1513.4,261.1" stroke="#d2ae5d"/>
<polygon points="1728.8,394.3 1746.1,390.8 1732.8,385.6 1715.5,386.3" stroke="#322a71"/>
<polygon points="1496.1,258.7 1513.4,261.1 1500.2,262.2 1482.9,260.1" stroke="#bfaf64"/>
<polygon points="1417.7,265.9 1435.0,250.4 1421.7,266.8 1404.4,280.1" stroke="#adb06a"/>
<polygon points="1331.1,339.0 1348.4,324.2 1335.1,329.9 1317.8,342.5" stroke="#1d85b5"/>
<polygon points="1313.8,353.7 1331.1,339.0 1317.8,342.5 1300.5,355.1" stroke="#1f71b8"/>
<polygon points="1400.3,274.9 1417.7,265.9 1404.4,280.1 1387.1,288.0" stroke="#9ab070"/>
<polygon points="1667.6,388.2 1684.9,385.6 1671.6,369.7 1654.3,369.1" stroke="#353485"/>
<polygon points="1348.4,324.2 1365.7,303.6 1352.5,312.6 1335.1,329.9" stroke="#1995ad"/>
<polygon points="1261.9,394.5 1279.2,381.1 1265.9,378.6 1248.6,390.0" stroke="#322a71"/>
<polygon points="1597.1,320.9 1614.5,331.3 1601.2,316.7 1583.9,303.0" stroke="#1c99a8"/>
<polygon points="1610.4,339.2 1627.7,346.3 1614.5,331.3 1597.1,320.9" stroke="#1c86b4"/>
<polygon points="1383.0,283.6 1400.3,274.9 1387.1,288.0 1369.8,295.7" stroke="#87b076"/>
<polygon points="1365.7,303.6 1383.0,283.6 1369.8,295.7 1352.5,312.6" stroke="#42a793"/>
<polygon points="1623.7,352.9 1641.0,357.7 1627.7,346.3 1610.4,339.2" stroke="#2176b6"/>
<polygon points="1680.9,390.6 1698.2,388.5 1684.9,385.6 1667.6,388.2" stroke="#35398e"/>
<polygon points="1292.5,385.0 1309.8,385.1 1296.5,381.0 1279.2,381.1" stroke="#3045a4"/>
<polygon points="1711.4,397.7 1728.8,394.3 1715.5,386.3 1698.2,388.5" stroke="#322a71"/>
<polygon points="1309.8,385.1 1327.1,356.4 1313.8,353.7 1296.5,381.0" stroke="#353c93"/>
<polygon points="1540.0,270.1 1557.3,285.3 1544.0,271.0 1526.7,253.5" stroke="#adb06a"/>
<polygon points="1637.0,366.6 1654.3,369.1 1641.0,357.7 1623.7,352.9" stroke="#1768bb"/>
<polygon points="1650.3,390.3 1667.6,388.2 1654.3,369.1 1637.0,366.6" stroke="#35378b"/>
<polygon points="1478.8,256.0 1496.1,258.7 1482.9,260.1 1465.5,257.7" stroke="#d1ae5d"/>
<polygon points="1448.2,248.2 1465.5,257.7 1452.3,259.1 1435.0,250.4" stroke="#e3b351"/>
<polygon points="1275.2,398.9 1292.5,385.0 1279.2,381.1 1261.9,394.5" stroke="#322a71"/>
<polygon points="1553.3,280.1 1570.6,294.3 1557.3,285.3 1540.0,270.1" stroke="#9ab070"/>
<polygon points="1327.1,356.4 1344.4,341.0 1331.1,339.0 1313.8,353.7" stroke="#2074b7"/>
<polygon points="1344.4,341.0 1361.7,325.5 1348.4,324.2 1331.1,339.0" stroke="#1a89b5"/>
<polygon points="1694.1,401.1 1711.4,397.7 1698.2,388.5 1680.9,390.6" stroke="#322a71"/>
<polygon points="1663.5,392.1 1680.9,390.6 1667.6,388.2 1650.3,390.3" stroke="#343f98"/>
<polygon points="1509.4,250.3 1526.7,253.5 1513.4,261.1 1496.1,258.7" stroke="#e3b351"/>
<polygon points="1361.7,325.5 1379.0,303.9 1365.7,303.6 1348.4,324.2" stroke="#1b99a9"/>
<polygon points="1305.8,388.9 1323.1,389.2 1309.8,385.1 1292.5,385.0" stroke="#2f47a7"/>
<polygon points="1323.1,389.2 1340.4,359.0 1327.1,356.4 1309.8,385.1" stroke="#343d95"/>
<polygon points="1430.9,264.6 1448.2,248.2 1435.0,250.4 1417.7,265.9" stroke="#bfaf64"/>
<polygon points="1566.6,289.8 1583.9,303.0 1570.6,294.3 1553.3,280.1" stroke="#87b076"/>
<polygon points="1413.6,273.8 1430.9,264.6 1417.7,265.9 1400.3,274.9" stroke="#adb06a"/>
<polygon points="1593.1,332.5 1610.4,339.2 1597.1,320.9 1579.8,310.9" stroke="#1995ad"/>
<polygon points="1606.4,348.4 1623.7,352.9 1610.4,339.2 1593.1,332.5" stroke="#1d85b5"/>
<polygon points="1633.0,392.5 1650.3,390.3 1637.0,366.6 1619.7,364.2" stroke="#353b91"/>
<polygon points="1579.8,310.9 1597.1,320.9 1583.9,303.0 1566.6,289.8" stroke="#42a793"/>
<polygon points="1288.4,403.4 1305.8,388.9 1292.5,385.0 1275.2,398.9" stroke="#322a71"/>
<polygon points="1379.0,303.9 1396.3,282.8 1383.0,283.6 1365.7,303.6" stroke="#52aa8b"/>
<polygon points="1619.7,364.2 1637.0,366.6 1623.7,352.9 1606.4,348.4" stroke="#1f71b8"/>
<polygon points="1396.3,282.8 1413.6,273.8 1400.3,274.9 1383.0,283.6" stroke="#9ab070"/>
<polygon points="1676.8,404.6 1694.1,401.1 1680.9,390.6 1663.5,392.1" stroke="#322a71"/>
<polygon points="1646.2,393.7 1663.5,392.1 1650.3,390.3 1633.0,392.5" stroke="#3144a1"/>
<polygon points="1340.4,359.0 1357.7,342.8 1344.4,341.0 1327.1,356.4" stroke="#2176b6"/>
<polygon points="1522.7,267.7 1540.0,270.1 1526.7,253.5 1509.4,250.3" stroke="#bfaf64"/>
<polygon points="1461.5,245.7 1478.8,256.0 1465.5,257.7 1448.2,248.2" stroke="#e4c046"/>
<polygon points="1357.7,342.8 1375.0,326.6 1361.7,325.5 1344.4,341.0" stroke="#198db3"/>
<polygon points="1319.0,392.0 1336.3,392.7 1323.1,389.2 1305.8,388.9" stroke="#294bad"/>
<polygon points="1492.1,246.8 1509.4,250.3 1496.1,258.7 1478.8,256.0" stroke="#e4c046"/>
<polygon points="1536.0,278.0 1553.3,280.1 1540.0,270.1 1522.7,267.7" stroke="#adb06a"/>
<polygon points="1336.3,392.7 1353.7,359.2 1340.4,359.0 1323.1,389.2" stroke="#343f9a"/>
<polygon points="1375.0,326.6 1392.3,303.9 1379.0,303.9 1361.7,325.5" stroke="#219ca4"/>
<polygon points="1615.7,395.5 1633.0,392.5 1619.7,364.2 1602.4,365.8" stroke="#353c93"/>
<polygon points="1659.5,408.0 1676.8,404.6 1663.5,392.1 1646.2,393.7" stroke="#322a71"/>
<polygon points="1589.1,349.3 1606.4,348.4 1593.1,332.5 1575.8,332.8" stroke="#1a89b5"/>
<polygon points="1628.9,396.5 1646.2,393.7 1633.0,392.5 1615.7,395.5" stroke="#3045a4"/>
<polygon points="1301.7,407.9 1319.0,392.0 1305.8,388.9 1288.4,403.4" stroke="#322a71"/>
<polygon points="1444.2,262.8 1461.5,245.7 1448.2,248.2 1430.9,264.6" stroke="#d1ae5d"/>
<polygon points="1575.8,332.8 1593.1,332.5 1579.8,310.9 1562.5,310.1" stroke="#1b99a9"/>
<polygon points="1602.4,365.8 1619.7,364.2 1606.4,348.4 1589.1,349.3" stroke="#2074b7"/>
<polygon points="1426.9,272.5 1444.2,262.8 1430.9,264.6 1413.6,273.8" stroke="#bfaf64"/>
<polygon points="1549.3,288.0 1566.6,289.8 1553.3,280.1 1536.0,278.0" stroke="#9ab070"/>
<polygon points="1392.3,303.9 1409.6,281.8 1396.3,282.8 1379.0,303.9" stroke="#66ad83"/>
<polygon points="1562.5,310.1 1579.8,310.9 1566.6,289.8 1549.3,288.0" stroke="#52aa8b"/>
<polygon points="1409.6,281.8 1426.9,272.5 1413.6,273.8 1396.3,282.8" stroke="#adb06a"/>
<polygon points="1353.7,359.2 1371.0,341.5 1357.7,342.8 1340.4,359.0" stroke="#217eb5"/>
<polygon points="1332.3,397.9 1349.6,398.1 1336.3,392.7 1319.0,392.0" stroke="#2f47a7"/>
<polygon points="1505.4,264.9 1522.7,267.7 1509.4,250.3 1492.1,246.8" stroke="#d1ae5d"/>
<polygon points="1598.3,398.5 1615.7,395.5 1602.4,365.8 1585.1,367.3" stroke="#343d95"/>
<polygon points="1349.6,398.1 1366.9,367.9 1353.7,359.2 1336.3,392.7" stroke="#343d95"/>
<polygon points="1371.0,341.5 1388.3,323.7 1375.0,326.6 1357.7,342.8" stroke="#1995ae"/>
<polygon points="1642.2,411.5 1659.5,408.0 1646.2,393.7 1628.9,396.5" stroke="#322a71"/>
<polygon points="1611.6,399.3 1628.9,396.5 1615.7,395.5 1598.3,398.5" stroke="#2f47a7"/>
<polygon points="1518.7,275.6 1536.0,278.0 1522.7,267.7 1505.4,264.9" stroke="#bfaf64"/>
<polygon points="1571.8,350.1 1589.1,349.3 1575.8,332.8 1558.5,332.9" stroke="#198db3"/>
<polygon points="1315.0,412.4 1332.3,397.9 1319.0,392.0 1301.7,407.9" stroke="#322a71"/>
<polygon points="1585.1,367.3 1602.4,365.8 1589.1,349.3 1571.8,350.1" stroke="#2176b6"/>
<polygon points="1474.8,234.9 1492.1,246.8 1478.8,256.0 1461.5,245.7" stroke="#e5e631"/>
<polygon points="1558.5,332.9 1575.8,332.8 1562.5,310.1 1545.2,309.1" stroke="#219ca4"/>
<polygon points="1388.3,323.7 1405.6,298.6 1392.3,303.9 1375.0,326.6" stroke="#36a498"/>
<polygon points="1531.9,286.0 1549.3,288.0 1536.0,278.0 1518.7,275.6" stroke="#adb06a"/>
<polygon points="1366.9,367.9 1384.2,351.8 1371.0,341.5 1353.7,359.2" stroke="#2176b6"/>
<polygon points="1345.6,403.0 1362.9,403.0 1349.6,398.1 1332.3,397.9" stroke="#3045a4"/>
<polygon points="1545.2,309.1 1562.5,310.1 1549.3,288.0 1531.9,286.0" stroke="#66ad83"/>
<polygon points="1624.9,414.9 1642.2,411.5 1628.9,396.5 1611.6,399.3" stroke="#322a71"/>
<polygon points="1362.9,403.0 1380.2,374.3 1366.9,367.9 1349.6,398.1" stroke="#353c93"/>
<polygon points="1581.0,401.1 1598.3,398.5 1585.1,367.3 1567.8,366.5" stroke="#343f9a"/>
<polygon points="1594.3,401.4 1611.6,399.3 1598.3,398.5 1581.0,401.1" stroke="#294bad"/>
<polygon points="1384.2,351.8 1401.5,335.6 1388.3,323.7 1371.0,341.5" stroke="#198db3"/>
<polygon points="1440.2,264.1 1457.5,253.7 1444.2,262.8 1426.9,272.5" stroke="#e3b351"/>
<polygon points="1457.5,253.7 1474.8,234.9 1461.5,245.7 1444.2,262.8" stroke="#e4c046"/>
<polygon points="1405.6,298.6 1422.9,274.1 1409.6,281.8 1392.3,303.9" stroke="#8fb075"/>
<polygon points="1328.3,416.9 1345.6,403.0 1332.3,397.9 1315.0,412.4" stroke="#322a71"/>
<polygon points="1488.1,254.7 1505.4,264.9 1492.1,246.8 1474.8,234.9" stroke="#e4c046"/>
<polygon points="1567.8,366.5 1585.1,367.3 1571.8,350.1 1554.5,347.7" stroke="#217eb5"/>
<polygon points="1554.5,347.7 1571.8,350.1 1558.5,332.9 1541.2,328.9" stroke="#1995ae"/>
<polygon points="1422.9,274.1 1440.2,264.1 1426.9,272.5 1409.6,281.8" stroke="#d2ae5d"/>
<polygon points="1380.2,374.3 1397.5,358.9 1384.2,351.8 1366.9,367.9" stroke="#2074b7"/>
<polygon points="1401.5,335.6 1418.9,312.9 1405.6,298.6 1388.3,323.7" stroke="#219ca4"/>
<polygon points="1563.7,405.4 1581.0,401.1 1567.8,366.5 1550.5,374.2" stroke="#343d95"/>
<polygon points="1501.4,266.2 1518.7,275.6 1505.4,264.9 1488.1,254.7" stroke="#e3b351"/>
<polygon points="1607.6,418.3 1624.9,414.9 1611.6,399.3 1594.3,401.4" stroke="#322a71"/>
<polygon points="1397.5,358.9 1414.8,343.4 1401.5,335.6 1384.2,351.8" stroke="#1a89b5"/>
<polygon points="1541.2,328.9 1558.5,332.9 1545.2,309.1 1527.9,302.7" stroke="#36a498"/>
<polygon points="1577.0,406.2 1594.3,401.4 1581.0,401.1 1563.7,405.4" stroke="#2f47a7"/>
<polygon points="1358.9,408.1 1376.2,407.9 1362.9,403.0 1345.6,403.0" stroke="#3144a1"/>
<polygon points="1376.2,407.9 1393.5,380.7 1380.2,374.3 1362.9,403.0" stroke="#353b91"/>
<polygon points="1414.8,343.4 1432.1,321.8 1418.9,312.9 1401.5,335.6" stroke="#1b99a9"/>
<polygon points="1514.6,277.3 1531.9,286.0 1518.7,275.6 1501.4,266.2" stroke="#d2ae5d"/>
<polygon points="1453.5,281.4 1470.8,271.8 1457.5,253.7 1440.2,264.1" stroke="#bfaf64"/>
<polygon points="1470.8,271.8 1488.1,254.7 1474.8,234.9 1457.5,253.7" stroke="#d1ae5d"/>
<polygon points="1550.5,374.2 1567.8,366.5 1554.5,347.7 1537.2,357.0" stroke="#2176b6"/>
<polygon points="1527.9,302.7 1545.2,309.1 1531.9,286.0 1514.6,277.3" stroke="#8fb075"/>
<polygon points="1537.2,357.0 1554.5,347.7 1541.2,328.9 1523.9,339.7" stroke="#198db3"/>
<polygon points="1546.4,409.3 1563.7,405.4 1550.5,374.2 1533.1,379.6" stroke="#353c93"/>
<polygon points="1418.9,312.9 1436.2,290.8 1422.9,274.1 1405.6,298.6" stroke="#66ad83"/>
<polygon points="1341.6,421.4 1358.9,408.1 1345.6,403.0 1328.3,416.9" stroke="#322a71"/>
<polygon points="1393.5,380.7 1410.8,365.9 1397.5,358.9 1380.2,374.3" stroke="#1f71b8"/>
<polygon points="1484.1,282.5 1501.4,266.2 1488.1,254.7 1470.8,271.8" stroke="#bfaf64"/>
<polygon points="1559.7,410.3 1577.0,406.2 1563.7,405.4 1546.4,409.3" stroke="#3045a4"/>
<polygon points="1590.3,421.8 1607.6,418.3 1594.3,401.4 1577.0,406.2" stroke="#322a71"/>
<polygon points="1466.7,291.8 1484.1,282.5 1470.8,271.8 1453.5,281.4" stroke="#adb06a"/>
<polygon points="1410.8,365.9 1428.1,351.1 1414.8,343.4 1397.5,358.9" stroke="#1d85b5"/>
<polygon points="1523.9,339.7 1541.2,328.9 1527.9,302.7 1510.6,316.0" stroke="#219ca4"/>
<polygon points="1436.2,290.8 1453.5,281.4 1440.2,264.1 1422.9,274.1" stroke="#adb06a"/>
<polygon points="1519.9,363.1 1537.2,357.0 1523.9,339.7 1506.6,346.5" stroke="#1a89b5"/>
<polygon points="1389.5,413.6 1406.8,391.0 1393.5,380.7 1376.2,407.9" stroke="#35378b"/>
<polygon points="1432.1,321.8 1449.4,300.8 1436.2,290.8 1418.9,312.9" stroke="#52aa8b"/>
<polygon points="1372.2,414.4 1389.5,413.6 1376.2,407.9 1358.9,408.1" stroke="#343f98"/>
<polygon points="1533.1,379.6 1550.5,374.2 1537.2,357.0 1519.9,363.1" stroke="#2074b7"/>
<polygon points="1506.6,346.5 1523.9,339.7 1510.6,316.0 1493.3,323.9" stroke="#1b99a9"/>
<polygon points="1428.1,351.1 1445.4,330.5 1432.1,321.8 1414.8,343.4" stroke="#1995ad"/>
<polygon points="1449.4,300.8 1466.7,291.8 1453.5,281.4 1436.2,290.8" stroke="#9ab070"/>
<polygon points="1497.3,292.8 1514.6,277.3 1501.4,266.2 1484.1,282.5" stroke="#adb06a"/>
<polygon points="1529.1,413.1 1546.4,409.3 1533.1,379.6 1515.8,384.8" stroke="#353b91"/>
<polygon points="1510.6,316.0 1527.9,302.7 1514.6,277.3 1497.3,292.8" stroke="#66ad83"/>
<polygon points="1424.1,378.4 1441.4,365.7 1428.1,351.1 1410.8,365.9" stroke="#2176b6"/>
<polygon points="1480.0,301.8 1497.3,292.8 1484.1,282.5 1466.7,291.8" stroke="#9ab070"/>
<polygon points="1406.8,391.0 1424.1,378.4 1410.8,365.9 1393.5,380.7" stroke="#1768bb"/>
<polygon points="1493.3,323.9 1510.6,316.0 1497.3,292.8 1480.0,301.8" stroke="#52aa8b"/>
<polygon points="1502.6,369.1 1519.9,363.1 1506.6,346.5 1489.3,353.2" stroke="#1d85b5"/>
<polygon points="1542.4,414.3 1559.7,410.3 1546.4,409.3 1529.1,413.1" stroke="#3144a1"/>
<polygon points="1573.0,425.2 1590.3,421.8 1577.0,406.2 1559.7,410.3" stroke="#322a71"/>
<polygon points="1441.4,365.7 1458.7,348.4 1445.4,330.5 1428.1,351.1" stroke="#1c86b4"/>
<polygon points="1354.9,425.9 1372.2,414.4 1358.9,408.1 1341.6,421.4" stroke="#322a71"/>
<polygon points="1489.3,353.2 1506.6,346.5 1493.3,323.9 1476.0,331.6" stroke="#1995ad"/>
<polygon points="1515.8,384.8 1533.1,379.6 1519.9,363.1 1502.6,369.1" stroke="#1f71b8"/>
<polygon points="1445.4,330.5 1462.7,310.5 1449.4,300.8 1432.1,321.8" stroke="#42a793"/>
<polygon points="1454.7,380.7 1472.0,366.8 1458.7,348.4 1441.4,365.7" stroke="#2074b7"/>
<polygon points="1437.4,391.1 1454.7,380.7 1441.4,365.7 1424.1,378.4" stroke="#1969ba"/>
<polygon points="1402.7,419.4 1420.1,401.4 1406.8,391.0 1389.5,413.6" stroke="#353485"/>
<polygon points="1462.7,310.5 1480.0,301.8 1466.7,291.8 1449.4,300.8" stroke="#87b076"/>
<polygon points="1472.0,366.8 1489.3,353.2 1476.0,331.6 1458.7,348.4" stroke="#1c86b4"/>
<polygon points="1485.3,380.5 1502.6,369.1 1489.3,353.2 1472.0,366.8" stroke="#2176b6"/>
<polygon points="1420.1,401.4 1437.4,391.1 1424.1,378.4 1406.8,391.0" stroke="#105cbc"/>
<polygon points="1511.8,417.8 1529.1,413.1 1515.8,384.8 1498.5,394.1" stroke="#35378b"/>
<polygon points="1476.0,331.6 1493.3,323.9 1480.0,301.8 1462.7,310.5" stroke="#42a793"/>
<polygon points="1467.9,392.1 1485.3,380.5 1472.0,366.8 1454.7,380.7" stroke="#1969ba"/>
<polygon points="1385.4,420.9 1402.7,419.4 1389.5,413.6 1372.2,414.4" stroke="#35398e"/>
<polygon points="1458.7,348.4 1476.0,331.6 1462.7,310.5 1445.4,330.5" stroke="#1c99a8"/>
<polygon points="1498.5,394.1 1515.8,384.8 1502.6,369.1 1485.3,380.5" stroke="#1768bb"/>
<polygon points="1450.6,401.0 1467.9,392.1 1454.7,380.7 1437.4,391.1" stroke="#1060bc"/>
<polygon points="1525.1,419.6 1542.4,414.3 1529.1,413.1 1511.8,417.8" stroke="#343f98"/>
<polygon points="1555.7,428.7 1573.0,425.2 1559.7,410.3 1542.4,414.3" stroke="#322a71"/>
<polygon points="1481.2,403.5 1498.5,394.1 1485.3,380.5 1467.9,392.1" stroke="#105cbc"/>
<polygon points="1494.5,422.6 1511.8,417.8 1498.5,394.1 1481.2,403.5" stroke="#353485"/>
<polygon points="1433.3,409.9 1450.6,401.0 1437.4,391.1 1420.1,401.4" stroke="#1f52b6"/>
<polygon points="1416.0,424.8 1433.3,409.9 1420.1,401.4 1402.7,419.4" stroke="#343281"/>
<polygon points="1368.1,430.3 1385.4,420.9 1372.2,414.4 1354.9,425.9" stroke="#322a71"/>
<polygon points="1463.9,411.0 1481.2,403.5 1467.9,392.1 1450.6,401.0" stroke="#1f52b6"/>
<polygon points="1398.7,426.6 1416.0,424.8 1402.7,419.4 1385.4,420.9" stroke="#353688"/>
<polygon points="1507.8,425.0 1525.1,419.6 1511.8,417.8 1494.5,422.6" stroke="#35398e"/>
<polygon points="1477.2,426.9 1494.5,422.6 1481.2,403.5 1463.9,411.0" stroke="#343281"/>
<polygon points="1538.4,432.1 1555.7,428.7 1542.4,414.3 1525.1,419.6" stroke="#322a71"/>
<polygon points="1446.6,418.3 1463.9,411.0 1450.6,401.0 1433.3,409.9" stroke="#3045a4"/>
<polygon points="1429.3,430.1 1446.6,418.3 1433.3,409.9 1416.0,424.8" stroke="#34307c"/>
<polygon points="1381.4,434.8 1398.7,426.6 1385.4,420.9 1368.1,430.3" stroke="#322a71"/>
<polygon points="1490.5,429.8 1507.8,425.0 1494.5,422.6 1477.2,426.9" stroke="#353688"/>
<polygon points="1459.9,431.2 1477.2,426.9 1463.9,411.0 1446.6,418.3" stroke="#34307c"/>
<polygon points="1521.1,435.6 1538.4,432.1 1525.1,419.6 1507.8,425.0" stroke="#322a71"/>
<polygon points="1412.0,432.4 1429.3,430.1 1416.0,424.8 1398.7,426.6" stroke="#343382"/>
<polygon points="1442.6,436.4 1459.9,431.2 1446.6,418.3 1429.3,430.1" stroke="#332c74"/>
<polygon points="1473.2,434.5 1490.5,429.8 1477.2,426.9 1459.9,431.2" stroke="#343382"/>
<polygon points="1503.8,439.0 1521.1,435.6 1507.8,425.0 1490.5,429.8" stroke="#322a71"/>
<polygon points="1394.7,439.3 1412.0,432.4 1398.7,426.6 1381.4,434.8" stroke="#322a71"/>
<polygon points="1425.3,439.6 1442.6,436.4 1429.3,430.1 1412.0,432.4" stroke="#332c75"/>
<polygon points="1455.9,440.6 1473.2,434.5 1459.9,431.2 1442.6,436.4" stroke="#332c75"/>
<polygon points="1486.5,442.4 1503.8,439.0 1490.5,429.8 1473.2,434.5" stroke="#322a71"/>
<polygon points="1408.0,443.8 1425.3,439.6 1412.0,432.4 1394.7,439.3" stroke="#322a71"/>
<polygon points="1438.6,443.7 1455.9,440.6 1442.6,436.4 1425.3,439.6" stroke="#332d77"/>
<polygon points="1469.1,445.9 1486.5,442.4 1473.2,434.5 1455.9,440.6" stroke="#322a71"/>
<polygon points="1421.3,448.3 1438.6,443.7 1425.3,439.6 1408.0,443.8" stroke="#322a71"/>
<polygon points="1451.8,449.3 1469.1,445.9 1455.9,440.6 1438.6,443.7" stroke="#322a71"/>
<polygon points="1434.5,452.8 1451.8,449.3 1438.6,443.7 1421.3,448.3" stroke="#322a71"/>
</g>
<line x1="1434.5" y1="452.8" x2="1780.7" y2="383.9" stroke="#262626" stroke-width="1.8"/>
<line x1="1434.5" y1="452.8" x2="1168.9" y2="363.1" stroke="#262626" stroke-width="1.8"/>
<line x1="1168.9" y1="363.1" x2="1168.9" y2="167.3" stroke="#262626" stroke-width="1.8"/>
<line x1="1434.5" y1="452.8" x2="1440.4" y2="454.7" stroke="#262626" stroke-width="1.8"/>
<line x1="1521.1" y1="435.6" x2="1526.9" y2="437.5" stroke="#262626" stroke-width="1.8"/>
<line x1="1607.6" y1="418.3" x2="1613.4" y2="420.3" stroke="#262626" stroke-width="1.8"/>
<line x1="1694.1" y1="401.1" x2="1700.0" y2="403.1" stroke="#262626" stroke-width="1.8"/>
<line x1="1780.7" y1="383.9" x2="1786.5" y2="385.9" stroke="#262626" stroke-width="1.8"/>
<line x1="1434.5" y1="452.8" x2="1426.9" y2="454.3" stroke="#262626" stroke-width="1.8"/>
<line x1="1301.7" y1="407.9" x2="1294.1" y2="409.4" stroke="#262626" stroke-width="1.8"/>
<line x1="1168.9" y1="363.1" x2="1161.3" y2="364.6" stroke="#262626" stroke-width="1.8"/>
<line x1="1168.9" y1="363.1" x2="1163.1" y2="361.1" stroke="#262626" stroke-width="1.8"/>
<line x1="1168.9" y1="265.2" x2="1163.1" y2="263.2" stroke="#262626" stroke-width="1.8"/>
<line x1="1168.9" y1="167.3" x2="1163.1" y2="165.3" stroke="#262626" stroke-width="1.8"/>
<text transform="translate(1451.0,482.2) scale(1.065,1)" font-size="22.2" text-anchor="start" font-weight="normal" fill="#262626" stroke="#262626" stroke-width="0.5" stroke-opacity="0.15">-1</text>
<text transform="translate(1537.6,465.0) scale(1.065,1)" font-size="22.2" text-anchor="start" font-weight="normal" fill="#262626" stroke="#262626" stroke-width="0.5" stroke-opacity="0.15">-0.5</text>
<text transform="translate(1624.1,447.8) scale(1.065,1)" font-size="22.2" text-anchor="start" font-weight="normal" fill="#262626" stroke="#262626" stroke-width="0.5" stroke-opacity="0.15">0</text>
<text transform="translate(1710.6,430.6) scale(1.065,1)" font-size="22.2" text-anchor="start" font-weight="normal" fill="#262626" stroke="#262626" stroke-width="0.5" stroke-opacity="0.15">0.5</text>
<text transform="translate(1797.2,413.4) scale(1.065,1)" font-size="22.2" text-anchor="start" font-weight="normal" fill="#262626" stroke="#262626" stroke-width="0.5" stroke-opacity="0.15">1</text>
<text transform="translate(1416.9,481.0) scale(1.065,1)" font-size="22.2" text-anchor="end" font-weight="normal" fill="#262626" stroke="#262626" stroke-width="0.5" stroke-opacity="0.15">-1</text>
<text transform="translate(1284.1,436.2) scale(1.065,1)" font-size="22.2" text-anchor="end" font-weight="normal" fill="#262626" stroke="#262626" stroke-width="0.5" stroke-opacity="0.15">0</text>
<text transform="translate(1151.3,391.3) scale(1.065,1)" font-size="22.2" text-anchor="end" font-weight="normal" fill="#262626" stroke="#262626" stroke-width="0.5" stroke-opacity="0.15">1</text>
<text transform="translate(1152.2,367.0) scale(1.065,1)" font-size="22.2" text-anchor="end" font-weight="normal" fill="#262626" stroke="#262626" stroke-width="0.5" stroke-opacity="0.15">0</text>
<text transform="translate(1152.2,269.1) scale(1.065,1)" font-size="22.2" text-anchor="end" font-weight="normal" fill="#262626" stroke="#262626" stroke-width="0.5" stroke-opacity="0.15">0.5</text>
<text transform="translate(1152.2,171.2) scale(1.065,1)" font-size="22.2" text-anchor="end" font-weight="normal" fill="#262626" stroke="#262626" stroke-width="0.5" stroke-opacity="0.15">1</text>
<text transform="translate(1608.5,500.0) scale(1.065,1)" font-size="22.2" text-anchor="middle" font-weight="normal" fill="#262626" stroke="#262626" stroke-width="0.5">x</text>
<text transform="translate(1301.0,494.0) scale(1.065,1)" font-size="22.2" text-anchor="middle" font-weight="normal" fill="#262626" stroke="#262626" stroke-width="0.5">y</text>
<g transform="translate(1092.5,267) rotate(-90) scale(1,1.065)"><text font-size="24" text-anchor="middle" fill="#262626" stroke="#262626" stroke-width="0.8">|<tspan font-family='"Liberation Serif", "DejaVu Serif", serif' font-style="italic" fill="#666" stroke-width="0" dx="2">ψ</tspan><tspan font-size="16" dy="5" stroke-width="0.4">1</tspan><tspan dy="-5" dx="2">|</tspan></text></g>
<text transform="translate(1474.6,78.2) scale(1.08,1)" font-size="25.5" font-weight="bold" text-anchor="middle" fill="#000" stroke="#000" stroke-width="0.2">Numerical representation of |<tspan font-family='"Liberation Serif", "DejaVu Serif", serif' font-style="italic" font-weight="normal">ψ</tspan><tspan font-size="18" dy="6">1</tspan><tspan dy="-6">|</tspan></text>
<defs><linearGradient id="cb2" x1="0" y1="0" x2="0" y2="1"><stop offset="0.0000" stop-color="#f9fb0e"/><stop offset="0.0159" stop-color="#f6f313"/><stop offset="0.0317" stop-color="#f5eb18"/><stop offset="0.0476" stop-color="#f5e41d"/><stop offset="0.0635" stop-color="#f5de21"/><stop offset="0.0794" stop-color="#f7d826"/><stop offset="0.0952" stop-color="#fad32a"/><stop offset="0.1111" stop-color="#fcce2e"/><stop offset="0.1270" stop-color="#fec832"/><stop offset="0.1429" stop-color="#ffc337"/><stop offset="0.1587" stop-color="#fdbe3d"/><stop offset="0.1746" stop-color="#f8bb44"/><stop offset="0.1905" stop-color="#f1b94a"/><stop offset="0.2063" stop-color="#e9b94e"/><stop offset="0.2222" stop-color="#e1b952"/><stop offset="0.2381" stop-color="#d9ba56"/><stop offset="0.2540" stop-color="#d1bb59"/><stop offset="0.2698" stop-color="#c8bc5d"/><stop offset="0.2857" stop-color="#c0bc60"/><stop offset="0.3016" stop-color="#b7bd64"/><stop offset="0.3175" stop-color="#aebe67"/><stop offset="0.3333" stop-color="#a5be6b"/><stop offset="0.3492" stop-color="#9cbf6f"/><stop offset="0.3651" stop-color="#92bf73"/><stop offset="0.3810" stop-color="#87bf77"/><stop offset="0.3968" stop-color="#7cbf7b"/><stop offset="0.4127" stop-color="#71bf80"/><stop offset="0.4286" stop-color="#65be86"/><stop offset="0.4444" stop-color="#59bd8c"/><stop offset="0.4603" stop-color="#4dbc92"/><stop offset="0.4762" stop-color="#42bb98"/><stop offset="0.4921" stop-color="#38b99e"/><stop offset="0.5079" stop-color="#2eb7a4"/><stop offset="0.5238" stop-color="#25b5a9"/><stop offset="0.5397" stop-color="#1db3af"/><stop offset="0.5556" stop-color="#15b1b4"/><stop offset="0.5714" stop-color="#0faeb9"/><stop offset="0.5873" stop-color="#0aacbe"/><stop offset="0.6032" stop-color="#07a9c2"/><stop offset="0.6190" stop-color="#06a7c6"/><stop offset="0.6349" stop-color="#06a4ca"/><stop offset="0.6508" stop-color="#06a0cd"/><stop offset="0.6667" stop-color="#079ccf"/><stop offset="0.6825" stop-color="#0998d1"/><stop offset="0.6984" stop-color="#0c93d2"/><stop offset="0.7143" stop-color="#108ed2"/><stop offset="0.7302" stop-color="#1389d3"/><stop offset="0.7460" stop-color="#1485d4"/><stop offset="0.7619" stop-color="#1481d6"/><stop offset="0.7778" stop-color="#127dd8"/><stop offset="0.7937" stop-color="#1079da"/><stop offset="0.8095" stop-color="#0d75dc"/><stop offset="0.8254" stop-color="#0871de"/><stop offset="0.8413" stop-color="#046de0"/><stop offset="0.8571" stop-color="#0268e1"/><stop offset="0.8730" stop-color="#0363e1"/><stop offset="0.8889" stop-color="#0f5cdd"/><stop offset="0.9048" stop-color="#2053d4"/><stop offset="0.9206" stop-color="#2c4ac7"/><stop offset="0.9365" stop-color="#3243ba"/><stop offset="0.9524" stop-color="#353dad"/><stop offset="0.9683" stop-color="#3637a0"/><stop offset="0.9841" stop-color="#363093"/><stop offset="1.0000" stop-color="#352a87"/></linearGradient></defs>
<rect x="1851.5" y="99" width="50.5" height="354.0" fill="url(#cb2)" stroke="#262626" stroke-width="1.8"/>
<text transform="translate(1908.2,460.2) scale(1.065,1)" font-size="20" text-anchor="start" font-weight="normal" fill="#3a3a3a" stroke="#3a3a3a" stroke-width="0.5" stroke-opacity="0">0</text>
<line x1="1897.0" y1="403.1" x2="1902.0" y2="403.1" stroke="#262626" stroke-width="1.6"/>
<text transform="translate(1908.2,410.3) scale(1.065,1)" font-size="20" text-anchor="start" font-weight="normal" fill="#3a3a3a" stroke="#3a3a3a" stroke-width="0.5" stroke-opacity="0">0.1</text>
<line x1="1897.0" y1="353.3" x2="1902.0" y2="353.3" stroke="#262626" stroke-width="1.6"/>
<text transform="translate(1908.2,360.4) scale(1.065,1)" font-size="20" text-anchor="start" font-weight="normal" fill="#3a3a3a" stroke="#3a3a3a" stroke-width="0.5" stroke-opacity="0">0.2</text>
<line x1="1897.0" y1="303.4" x2="1902.0" y2="303.4" stroke="#262626" stroke-width="1.6"/>
<text transform="translate(1908.2,310.6) scale(1.065,1)" font-size="20" text-anchor="start" font-weight="normal" fill="#3a3a3a" stroke="#3a3a3a" stroke-width="0.5" stroke-opacity="0">0.3</text>
<line x1="1897.0" y1="253.6" x2="1902.0" y2="253.6" stroke="#262626" stroke-width="1.6"/>
<text transform="translate(1908.2,260.7) scale(1.065,1)" font-size="20" text-anchor="start" font-weight="normal" fill="#3a3a3a" stroke="#3a3a3a" stroke-width="0.5" stroke-opacity="0">0.4</text>
<line x1="1897.0" y1="203.7" x2="1902.0" y2="203.7" stroke="#262626" stroke-width="1.6"/>
<text transform="translate(1908.2,210.9) scale(1.065,1)" font-size="20" text-anchor="start" font-weight="normal" fill="#3a3a3a" stroke="#3a3a3a" stroke-width="0.5" stroke-opacity="0">0.5</text>
<line x1="1897.0" y1="153.8" x2="1902.0" y2="153.8" stroke="#262626" stroke-width="1.6"/>
<text transform="translate(1908.2,161.0) scale(1.065,1)" font-size="20" text-anchor="start" font-weight="normal" fill="#3a3a3a" stroke="#3a3a3a" stroke-width="0.5" stroke-opacity="0">0.6</text>
<line x1="1897.0" y1="104.0" x2="1902.0" y2="104.0" stroke="#262626" stroke-width="1.6"/>
<text transform="translate(1908.2,111.1) scale(1.065,1)" font-size="20" text-anchor="start" font-weight="normal" fill="#3a3a3a" stroke="#3a3a3a" stroke-width="0.5" stroke-opacity="0">0.7</text>
<rect x="1208.0" y="176.5" width="200.0" height="76.0" fill="none" stroke="#444" stroke-width="2.5" rx="2"/>
<text transform="translate(1222.0,208.1) scale(1.065,1)" font-size="21.6" text-anchor="start" font-weight="normal" fill="#262626" stroke="#262626" stroke-width="0.5">Time level t = 1</text>
<text transform="translate(1222.0,237.4) scale(1.065,1)" font-size="21.6" fill="#262626" stroke="#262626" stroke-width="0.5">and <tspan font-family='"Liberation Serif", "DejaVu Serif", serif' font-style="italic" dx="1.5" fill="#555" stroke-width="0.2">τ</tspan><tspan dx="3.5"> = 2</tspan></text><line x1="142.9" y1="855.6" x2="142.9" y2="659.8" stroke="#e0e0e0" stroke-width="1.9"/>
<line x1="408.5" y1="945.3" x2="142.9" y2="855.6" stroke="#e0e0e0" stroke-width="1.9"/>
<line x1="229.5" y1="838.4" x2="229.5" y2="642.6" stroke="#e0e0e0" stroke-width="1.9"/>
<line x1="495.1" y1="928.1" x2="229.5" y2="838.4" stroke="#e0e0e0" stroke-width="1.9"/>
<line x1="316.0" y1="821.2" x2="316.0" y2="625.4" stroke="#e0e0e0" stroke-width="1.9"/>
<line x1="581.6" y1="910.8" x2="316.0" y2="821.2" stroke="#e0e0e0" stroke-width="1.9"/>
<line x1="402.5" y1="804.0" x2="402.5" y2="608.1" stroke="#e0e0e0" stroke-width="1.9"/>
<line x1="668.1" y1="893.6" x2="402.5" y2="804.0" stroke="#e0e0e0" stroke-width="1.9"/>
<line x1="489.1" y1="786.7" x2="489.1" y2="590.9" stroke="#e0e0e0" stroke-width="1.9"/>
<line x1="754.7" y1="876.4" x2="489.1" y2="786.7" stroke="#e0e0e0" stroke-width="1.9"/>
<line x1="754.7" y1="876.4" x2="754.7" y2="680.6" stroke="#e0e0e0" stroke-width="1.9"/>
<line x1="408.5" y1="945.3" x2="754.7" y2="876.4" stroke="#e0e0e0" stroke-width="1.9"/>
<line x1="621.9" y1="831.6" x2="621.9" y2="635.8" stroke="#e0e0e0" stroke-width="1.9"/>
<line x1="275.7" y1="900.4" x2="621.9" y2="831.6" stroke="#e0e0e0" stroke-width="1.9"/>
<line x1="489.1" y1="786.7" x2="489.1" y2="590.9" stroke="#e0e0e0" stroke-width="1.9"/>
<line x1="142.9" y1="855.6" x2="489.1" y2="786.7" stroke="#e0e0e0" stroke-width="1.9"/>
<line x1="142.9" y1="855.6" x2="489.1" y2="786.7" stroke="#e0e0e0" stroke-width="1.9"/>
<line x1="489.1" y1="786.7" x2="754.7" y2="876.4" stroke="#e0e0e0" stroke-width="1.9"/>
<line x1="142.9" y1="757.7" x2="489.1" y2="688.8" stroke="#e0e0e0" stroke-width="1.9"/>
<line x1="489.1" y1="688.8" x2="754.7" y2="778.5" stroke="#e0e0e0" stroke-width="1.9"/>
<line x1="142.9" y1="659.8" x2="489.1" y2="590.9" stroke="#e0e0e0" stroke-width="1.9"/>
<line x1="489.1" y1="590.9" x2="754.7" y2="680.6" stroke="#e0e0e0" stroke-width="1.9"/>
<g stroke-width="1.85" stroke-linejoin="round" fill="#fff">
<polygon points="485.0,793.6 502.3,791.2 489.1,786.7 471.8,790.2" stroke="#332d77"/>
<polygon points="467.7,797.4 485.0,793.6 471.8,790.2 454.5,793.6" stroke="#332c75"/>
<polygon points="498.3,798.4 515.6,795.7 502.3,791.2 485.0,793.6" stroke="#332c75"/>
<polygon points="450.4,798.1 467.7,797.4 454.5,793.6 437.1,797.1" stroke="#343382"/>
<polygon points="481.0,802.1 498.3,798.4 485.0,793.6 467.7,797.4" stroke="#332c74"/>
<polygon points="511.6,800.2 528.9,800.2 515.6,795.7 498.3,798.4" stroke="#343382"/>
<polygon points="433.1,800.5 450.4,798.1 437.1,797.1 419.8,800.5" stroke="#353687"/>
<polygon points="463.7,803.7 481.0,802.1 467.7,797.4 450.4,798.1" stroke="#34307c"/>
<polygon points="494.3,804.8 511.6,800.2 498.3,798.4 481.0,802.1" stroke="#34307c"/>
<polygon points="524.9,803.6 542.2,804.7 528.9,800.2 511.6,800.2" stroke="#353687"/>
<polygon points="415.8,802.4 433.1,800.5 419.8,800.5 402.5,804.0" stroke="#35398f"/>
<polygon points="446.4,806.5 463.7,803.7 450.4,798.1 433.1,800.5" stroke="#343280"/>
<polygon points="477.0,799.8 494.3,804.8 481.0,802.1 463.7,803.7" stroke="#2f46a6"/>
<polygon points="507.6,808.5 524.9,803.6 511.6,800.2 494.3,804.8" stroke="#343280"/>
<polygon points="398.5,803.9 415.8,802.4 402.5,804.0 385.2,807.4" stroke="#343f98"/>
<polygon points="538.2,806.6 555.5,809.2 542.2,804.7 524.9,803.6" stroke="#35398f"/>
<polygon points="429.1,808.9 446.4,806.5 433.1,800.5 415.8,802.4" stroke="#353585"/>
<polygon points="459.7,799.8 477.0,799.8 463.7,803.7 446.4,806.5" stroke="#2052b5"/>
<polygon points="381.2,805.6 398.5,803.9 385.2,807.4 367.9,810.8" stroke="#3144a1"/>
<polygon points="520.9,812.0 538.2,806.6 524.9,803.6 507.6,808.5" stroke="#353585"/>
<polygon points="490.3,800.8 507.6,808.5 494.3,804.8 477.0,799.8" stroke="#2052b5"/>
<polygon points="551.4,809.1 568.7,813.7 555.5,809.2 538.2,806.6" stroke="#343f98"/>
<polygon points="411.8,811.1 429.1,808.9 415.8,802.4 398.5,803.9" stroke="#35378b"/>
<polygon points="363.9,808.4 381.2,805.6 367.9,810.8 350.6,814.3" stroke="#3045a4"/>
<polygon points="442.4,798.6 459.7,799.8 446.4,806.5 429.1,808.9" stroke="#105dbc"/>
<polygon points="394.5,813.3 411.8,811.1 398.5,803.9 381.2,805.6" stroke="#353b91"/>
<polygon points="534.1,815.2 551.4,809.1 538.2,806.6 520.9,812.0" stroke="#35378b"/>
<polygon points="503.5,800.7 520.9,812.0 507.6,808.5 490.3,800.8" stroke="#105dbc"/>
<polygon points="564.7,811.9 582.0,818.1 568.7,813.7 551.4,809.1" stroke="#3144a1"/>
<polygon points="473.0,799.7 490.3,800.8 477.0,799.8 459.7,799.8" stroke="#105dbc"/>
<polygon points="346.6,811.2 363.9,808.4 350.6,814.3 333.3,817.7" stroke="#2f47a8"/>
<polygon points="425.1,796.0 442.4,798.6 429.1,808.9 411.8,811.1" stroke="#1869ba"/>
<polygon points="377.2,816.4 394.5,813.3 381.2,805.6 363.9,808.4" stroke="#353c93"/>
<polygon points="547.4,818.6 564.7,811.9 551.4,809.1 534.1,815.2" stroke="#353b91"/>
<polygon points="329.3,813.4 346.6,811.2 333.3,817.7 316.0,821.2" stroke="#294bad"/>
<polygon points="578.0,815.7 595.3,822.6 582.0,818.1 564.7,811.9" stroke="#3045a4"/>
<polygon points="455.7,797.1 473.0,799.7 459.7,799.8 442.4,798.6" stroke="#1869ba"/>
<polygon points="516.8,799.1 534.1,815.2 520.9,812.0 503.5,800.7" stroke="#1869ba"/>
<polygon points="486.2,798.1 503.5,800.7 490.3,800.8 473.0,799.7" stroke="#1869ba"/>
<polygon points="359.9,819.4 377.2,816.4 363.9,808.4 346.6,811.2" stroke="#343d95"/>
<polygon points="407.8,794.1 425.1,796.0 411.8,811.1 394.5,813.3" stroke="#1f71b8"/>
<polygon points="312.0,818.1 329.3,813.4 316.0,821.2 298.7,824.6" stroke="#2f47a8"/>
<polygon points="560.7,822.6 578.0,815.7 564.7,811.9 547.4,818.6" stroke="#353c93"/>
<polygon points="591.3,819.6 608.6,827.1 595.3,822.6 578.0,815.7" stroke="#2f47a8"/>
<polygon points="342.6,822.0 359.9,819.4 346.6,811.2 329.3,813.4" stroke="#343f9a"/>
<polygon points="438.3,792.5 455.7,797.1 442.4,798.6 425.1,796.0" stroke="#2175b6"/>
<polygon points="530.1,798.2 547.4,818.6 534.1,815.2 516.8,799.1" stroke="#1f71b8"/>
<polygon points="390.5,795.5 407.8,794.1 394.5,813.3 377.2,816.4" stroke="#2174b7"/>
<polygon points="294.7,822.2 312.0,818.1 298.7,824.6 281.4,828.0" stroke="#3045a4"/>
<polygon points="468.9,793.5 486.2,798.1 473.0,799.7 455.7,797.1" stroke="#2175b7"/>
<polygon points="499.5,794.5 516.8,799.1 503.5,800.7 486.2,798.1" stroke="#2175b6"/>
<polygon points="325.3,826.2 342.6,822.0 329.3,813.4 312.0,818.1" stroke="#343d95"/>
<polygon points="574.0,826.7 591.3,819.6 578.0,815.7 560.7,822.6" stroke="#343d95"/>
<polygon points="604.6,822.8 621.9,831.6 608.6,827.1 591.3,819.6" stroke="#294bad"/>
<polygon points="277.4,826.3 294.7,822.2 281.4,828.0 264.1,831.5" stroke="#3144a1"/>
<polygon points="373.1,796.9 390.5,795.5 377.2,816.4 359.9,819.4" stroke="#2278b6"/>
<polygon points="543.4,800.7 560.7,822.6 547.4,818.6 530.1,798.2" stroke="#2174b7"/>
<polygon points="421.0,788.8 438.3,792.5 425.1,796.0 407.8,794.1" stroke="#1f82b5"/>
<polygon points="307.9,830.1 325.3,826.2 312.0,818.1 294.7,822.2" stroke="#353c93"/>
<polygon points="260.1,831.4 277.4,826.3 264.1,831.5 246.8,834.9" stroke="#343f98"/>
<polygon points="451.6,786.3 468.9,793.5 455.7,797.1 438.3,792.5" stroke="#1a89b5"/>
<polygon points="617.8,828.5 635.2,836.1 621.9,831.6 604.6,822.8" stroke="#2f47a8"/>
<polygon points="587.3,830.3 604.6,822.8 591.3,819.6 574.0,826.7" stroke="#343f9a"/>
<polygon points="355.8,796.4 373.1,796.9 359.9,819.4 342.6,822.0" stroke="#207fb5"/>
<polygon points="482.2,787.4 499.5,794.5 486.2,798.1 468.9,793.5" stroke="#1a89b5"/>
<polygon points="512.8,791.9 530.1,798.2 516.8,799.1 499.5,794.5" stroke="#1f82b5"/>
<polygon points="290.6,834.0 307.9,830.1 294.7,822.2 277.4,826.3" stroke="#353b91"/>
<polygon points="242.7,836.8 260.1,831.4 246.8,834.9 229.5,838.4" stroke="#35398f"/>
<polygon points="556.7,803.1 574.0,826.7 560.7,822.6 543.4,800.7" stroke="#2278b6"/>
<polygon points="403.7,789.6 421.0,788.8 407.8,794.1 390.5,795.5" stroke="#1b87b4"/>
<polygon points="338.5,803.7 355.8,796.4 342.6,822.0 325.3,826.2" stroke="#2278b6"/>
<polygon points="631.1,833.7 648.4,840.6 635.2,836.1 617.8,828.5" stroke="#3045a4"/>
<polygon points="600.5,835.6 617.8,828.5 604.6,822.8 587.3,830.3" stroke="#343d95"/>
<polygon points="273.3,838.6 290.6,834.0 277.4,826.3 260.1,831.4" stroke="#35378b"/>
<polygon points="225.4,841.7 242.7,836.8 229.5,838.4 212.2,841.8" stroke="#353687"/>
<polygon points="434.3,780.4 451.6,786.3 438.3,792.5 421.0,788.8" stroke="#1996ac"/>
<polygon points="321.2,809.3 338.5,803.7 325.3,826.2 307.9,830.1" stroke="#2174b7"/>
<polygon points="526.1,793.8 543.4,800.7 530.1,798.2 512.8,791.9" stroke="#1b87b4"/>
<polygon points="386.4,790.3 403.7,789.6 390.5,795.5 373.1,796.9" stroke="#198cb4"/>
<polygon points="464.9,776.7 482.2,787.4 468.9,793.5 451.6,786.3" stroke="#1f9ba6"/>
<polygon points="569.9,803.7 587.3,830.3 574.0,826.7 556.7,803.1" stroke="#207fb5"/>
<polygon points="256.0,843.3 273.3,838.6 260.1,831.4 242.7,836.8" stroke="#353585"/>
<polygon points="495.5,782.4 512.8,791.9 499.5,794.5 482.2,787.4" stroke="#1996ac"/>
<polygon points="644.4,838.8 661.7,845.0 648.4,840.6 631.1,833.7" stroke="#3144a1"/>
<polygon points="208.1,846.3 225.4,841.7 212.2,841.8 194.8,845.2" stroke="#343382"/>
<polygon points="613.8,840.6 631.1,833.7 617.8,828.5 600.5,835.6" stroke="#353c93"/>
<polygon points="303.9,814.7 321.2,809.3 307.9,830.1 290.6,834.0" stroke="#1f71b8"/>
<polygon points="238.7,847.7 256.0,843.3 242.7,836.8 225.4,841.7" stroke="#343280"/>
<polygon points="417.0,780.3 434.3,780.4 421.0,788.8 403.7,789.6" stroke="#1d9aa7"/>
<polygon points="369.1,788.6 386.4,790.3 373.1,796.9 355.8,796.4" stroke="#1994af"/>
<polygon points="190.8,852.4 208.1,846.3 194.8,845.2 177.5,848.7" stroke="#332c75"/>
<polygon points="583.2,812.1 600.5,835.6 587.3,830.3 569.9,803.7" stroke="#2278b6"/>
<polygon points="539.4,795.5 556.7,803.1 543.4,800.7 526.1,793.8" stroke="#198cb4"/>
<polygon points="286.6,823.5 303.9,814.7 290.6,834.0 273.3,838.6" stroke="#1869ba"/>
<polygon points="657.7,845.0 675.0,849.5 661.7,845.0 644.4,838.8" stroke="#343f98"/>
<polygon points="627.1,845.5 644.4,838.8 631.1,833.7 613.8,840.6" stroke="#353b91"/>
<polygon points="221.4,851.9 238.7,847.7 225.4,841.7 208.1,846.3" stroke="#34307c"/>
<polygon points="508.8,783.4 526.1,793.8 512.8,791.9 495.5,782.4" stroke="#1d9aa7"/>
<polygon points="269.3,833.0 286.6,823.5 273.3,838.6 256.0,843.3" stroke="#105dbc"/>
<polygon points="447.6,767.7 464.9,776.7 451.6,786.3 434.3,780.4" stroke="#46a791"/>
<polygon points="351.8,797.2 369.1,788.6 355.8,796.4 338.5,803.7" stroke="#198cb4"/>
<polygon points="173.5,855.5 190.8,852.4 177.5,848.7 160.2,852.1" stroke="#332d77"/>
<polygon points="399.7,780.1 417.0,780.3 403.7,789.6 386.4,790.3" stroke="#259ea1"/>
<polygon points="478.2,768.7 495.5,782.4 482.2,787.4 464.9,776.7" stroke="#46a791"/>
<polygon points="596.5,818.7 613.8,840.6 600.5,835.6 583.2,812.1" stroke="#2174b7"/>
<polygon points="204.1,857.2 221.4,851.9 208.1,846.3 190.8,852.4" stroke="#332c74"/>
<polygon points="252.0,841.1 269.3,833.0 256.0,843.3 238.7,847.7" stroke="#2052b5"/>
<polygon points="671.0,851.4 688.3,854.0 675.0,849.5 657.7,845.0" stroke="#35398f"/>
<polygon points="334.5,803.4 351.8,797.2 338.5,803.7 321.2,809.3" stroke="#1b87b4"/>
<polygon points="640.4,851.1 657.7,845.0 644.4,838.8 627.1,845.5" stroke="#35378b"/>
<polygon points="552.6,794.8 569.9,803.7 556.7,803.1 539.4,795.5" stroke="#1994af"/>
<polygon points="156.2,860.1 173.5,855.5 160.2,852.1 142.9,855.6" stroke="#322a71"/>
<polygon points="234.7,848.0 252.0,841.1 238.7,847.7 221.4,851.9" stroke="#2f46a6"/>
<polygon points="522.1,784.3 539.4,795.5 526.1,793.8 508.8,783.4" stroke="#259ea1"/>
<polygon points="186.8,860.4 204.1,857.2 190.8,852.4 173.5,855.5" stroke="#332c75"/>
<polygon points="317.2,809.4 334.5,803.4 321.2,809.3 303.9,814.7" stroke="#1f82b5"/>
<polygon points="609.8,825.1 627.1,845.5 613.8,840.6 596.5,818.7" stroke="#1f71b8"/>
<polygon points="382.4,776.7 399.7,780.1 386.4,790.3 369.1,788.6" stroke="#3aa597"/>
<polygon points="430.3,766.5 447.6,767.7 434.3,780.4 417.0,780.3" stroke="#5aab88"/>
<polygon points="684.2,857.4 701.6,858.5 688.3,854.0 671.0,851.4" stroke="#353687"/>
<polygon points="653.7,856.9 671.0,851.4 657.7,845.0 640.4,851.1" stroke="#353585"/>
<polygon points="217.4,859.8 234.7,848.0 221.4,851.9 204.1,857.2" stroke="#34307c"/>
<polygon points="299.9,820.0 317.2,809.4 303.9,814.7 286.6,823.5" stroke="#2175b6"/>
<polygon points="565.9,804.5 583.2,812.1 569.9,803.7 552.6,794.8" stroke="#198cb4"/>
<polygon points="491.5,768.6 508.8,783.4 495.5,782.4 478.2,768.7" stroke="#5aab88"/>
<polygon points="169.5,864.5 186.8,860.4 173.5,855.5 156.2,860.1" stroke="#322a71"/>
<polygon points="282.6,831.5 299.9,820.0 286.6,823.5 269.3,833.0" stroke="#1869ba"/>
<polygon points="623.1,835.0 640.4,851.1 627.1,845.5 609.8,825.1" stroke="#1869ba"/>
<polygon points="365.1,787.0 382.4,776.7 369.1,788.6 351.8,797.2" stroke="#259ea1"/>
<polygon points="460.9,757.0 478.2,768.7 464.9,776.7 447.6,767.7" stroke="#87b076"/>
<polygon points="265.3,841.0 282.6,831.5 269.3,833.0 252.0,841.1" stroke="#105dbc"/>
<polygon points="200.1,862.1 217.4,859.8 204.1,857.2 186.8,860.4" stroke="#343382"/>
<polygon points="666.9,862.4 684.2,857.4 671.0,851.4 653.7,856.9" stroke="#343280"/>
<polygon points="697.5,863.0 714.8,863.0 701.6,858.5 684.2,857.4" stroke="#343382"/>
<polygon points="413.0,765.1 430.3,766.5 417.0,780.3 399.7,780.1" stroke="#6fae7f"/>
<polygon points="579.2,811.7 596.5,818.7 583.2,812.1 565.9,804.5" stroke="#1b87b4"/>
<polygon points="535.3,781.9 552.6,794.8 539.4,795.5 522.1,784.3" stroke="#3aa597"/>
<polygon points="347.8,794.1 365.1,787.0 351.8,797.2 334.5,803.4" stroke="#1d9aa7"/>
<polygon points="248.0,849.0 265.3,841.0 252.0,841.1 234.7,848.0" stroke="#2052b5"/>
<polygon points="636.3,845.6 653.7,856.9 640.4,851.1 623.1,835.0" stroke="#105dbc"/>
<polygon points="230.7,863.6 248.0,849.0 234.7,848.0 217.4,859.8" stroke="#343280"/>
<polygon points="182.8,869.0 200.1,862.1 186.8,860.4 169.5,864.5" stroke="#322a71"/>
<polygon points="330.5,801.0 347.8,794.1 334.5,803.4 317.2,809.4" stroke="#1996ac"/>
<polygon points="504.7,768.2 522.1,784.3 508.8,783.4 491.5,768.6" stroke="#6fae7f"/>
<polygon points="592.5,818.8 609.8,825.1 596.5,818.7 579.2,811.7" stroke="#1f82b5"/>
<polygon points="680.2,867.6 697.5,863.0 684.2,857.4 666.9,862.4" stroke="#34307c"/>
<polygon points="213.4,865.5 230.7,863.6 217.4,859.8 200.1,862.1" stroke="#353687"/>
<polygon points="710.8,870.2 728.1,867.5 714.8,863.0 697.5,863.0" stroke="#332c75"/>
<polygon points="313.2,813.8 330.5,801.0 317.2,809.4 299.9,820.0" stroke="#1a89b5"/>
<polygon points="548.6,793.2 565.9,804.5 552.6,794.8 535.3,781.9" stroke="#259ea1"/>
<polygon points="295.9,827.9 313.2,813.8 299.9,820.0 282.6,831.5" stroke="#2175b7"/>
<polygon points="649.6,854.6 666.9,862.4 653.7,856.9 636.3,845.6" stroke="#2052b5"/>
<polygon points="443.6,754.8 460.9,757.0 447.6,767.7 430.3,766.5" stroke="#9cb070"/>
<polygon points="395.7,759.5 413.0,765.1 399.7,780.1 382.4,776.7" stroke="#94b073"/>
<polygon points="278.6,839.4 295.9,827.9 282.6,831.5 265.3,841.0" stroke="#1869ba"/>
<polygon points="474.2,755.9 491.5,768.6 478.2,768.7 460.9,757.0" stroke="#9cb070"/>
<polygon points="605.8,830.4 623.1,835.0 609.8,825.1 592.5,818.8" stroke="#2175b6"/>
<polygon points="261.3,848.9 278.6,839.4 265.3,841.0 248.0,849.0" stroke="#105dbc"/>
<polygon points="196.0,873.5 213.4,865.5 200.1,862.1 182.8,869.0" stroke="#322a71"/>
<polygon points="243.9,867.1 261.3,848.9 248.0,849.0 230.7,863.6" stroke="#353585"/>
<polygon points="561.9,801.4 579.2,811.7 565.9,804.5 548.6,793.2" stroke="#1d9aa7"/>
<polygon points="693.5,873.9 710.8,870.2 697.5,863.0 680.2,867.6" stroke="#332c74"/>
<polygon points="724.1,874.3 741.4,872.0 728.1,867.5 710.8,870.2" stroke="#332d77"/>
<polygon points="662.9,862.6 680.2,867.6 666.9,862.4 649.6,854.6" stroke="#2f46a6"/>
<polygon points="226.6,868.5 243.9,867.1 230.7,863.6 213.4,865.5" stroke="#35398f"/>
<polygon points="378.4,772.0 395.7,759.5 382.4,776.7 365.1,787.0" stroke="#6fae7f"/>
<polygon points="619.0,843.0 636.3,845.6 623.1,835.0 605.8,830.4" stroke="#1869ba"/>
<polygon points="518.0,763.7 535.3,781.9 522.1,784.3 504.7,768.2" stroke="#94b073"/>
<polygon points="361.1,780.2 378.4,772.0 365.1,787.0 347.8,794.1" stroke="#5aab88"/>
<polygon points="426.3,752.4 443.6,754.8 430.3,766.5 413.0,765.1" stroke="#b0b069"/>
<polygon points="575.2,809.4 592.5,818.8 579.2,811.7 561.9,801.4" stroke="#1996ac"/>
<polygon points="632.3,853.5 649.6,854.6 636.3,845.6 619.0,843.0" stroke="#105dbc"/>
<polygon points="209.3,878.0 226.6,868.5 213.4,865.5 196.0,873.5" stroke="#322a71"/>
<polygon points="706.8,878.1 724.1,874.3 710.8,870.2 693.5,873.9" stroke="#332c75"/>
<polygon points="676.2,875.5 693.5,873.9 680.2,867.6 662.9,862.6" stroke="#34307c"/>
<polygon points="343.8,788.3 361.1,780.2 347.8,794.1 330.5,801.0" stroke="#46a791"/>
<polygon points="487.4,754.5 504.7,768.2 491.5,768.6 474.2,755.9" stroke="#b0b069"/>
<polygon points="291.8,835.8 309.1,821.8 295.9,827.9 278.6,839.4" stroke="#2175b6"/>
<polygon points="737.4,879.9 754.7,876.4 741.4,872.0 724.1,874.3" stroke="#322a71"/>
<polygon points="257.2,870.3 274.5,847.3 261.3,848.9 243.9,867.1" stroke="#35378b"/>
<polygon points="309.1,821.8 326.5,804.2 313.2,813.8 295.9,827.9" stroke="#1a89b5"/>
<polygon points="456.9,753.3 474.2,755.9 460.9,757.0 443.6,754.8" stroke="#b0b069"/>
<polygon points="326.5,804.2 343.8,788.3 330.5,801.0 313.2,813.8" stroke="#1f9ba6"/>
<polygon points="274.5,847.3 291.8,835.8 278.6,839.4 261.3,848.9" stroke="#1869ba"/>
<polygon points="588.5,823.2 605.8,830.4 592.5,818.8 575.2,809.4" stroke="#1a89b5"/>
<polygon points="239.9,871.1 257.2,870.3 243.9,867.1 226.6,868.5" stroke="#343f98"/>
<polygon points="531.3,777.2 548.6,793.2 535.3,781.9 518.0,763.7" stroke="#6fae7f"/>
<polygon points="645.6,862.6 662.9,862.6 649.6,854.6 632.3,853.5" stroke="#2052b5"/>
<polygon points="601.7,838.4 619.0,843.0 605.8,830.4 588.5,823.2" stroke="#2175b7"/>
<polygon points="689.5,878.8 706.8,878.1 693.5,873.9 676.2,875.5" stroke="#343382"/>
<polygon points="720.1,883.3 737.4,879.9 724.1,874.3 706.8,878.1" stroke="#322a71"/>
<polygon points="409.0,744.9 426.3,752.4 413.0,765.1 395.7,759.5" stroke="#d2ae5d"/>
<polygon points="222.6,882.5 239.9,871.1 226.6,868.5 209.3,878.0" stroke="#322a71"/>
<polygon points="658.9,878.2 676.2,875.5 662.9,862.6 645.6,862.6" stroke="#343280"/>
<polygon points="544.6,786.5 561.9,801.4 548.6,793.2 531.3,777.2" stroke="#5aab88"/>
<polygon points="615.0,850.9 632.3,853.5 619.0,843.0 601.7,838.4" stroke="#1869ba"/>
<polygon points="270.5,873.6 287.8,846.4 274.5,847.3 257.2,870.3" stroke="#353b91"/>
<polygon points="439.5,750.5 456.9,753.3 443.6,754.8 426.3,752.4" stroke="#c4ae62"/>
<polygon points="253.2,873.8 270.5,873.6 257.2,870.3 239.9,871.1" stroke="#3144a1"/>
<polygon points="628.3,861.4 645.6,862.6 632.3,853.5 615.0,850.9" stroke="#105dbc"/>
<polygon points="500.7,748.0 518.0,763.7 504.7,768.2 487.4,754.5" stroke="#d2ae5d"/>
<polygon points="672.2,881.2 689.5,878.8 676.2,875.5 658.9,878.2" stroke="#353687"/>
<polygon points="557.9,795.6 575.2,809.4 561.9,801.4 544.6,786.5" stroke="#46a791"/>
<polygon points="470.1,751.5 487.4,754.5 474.2,755.9 456.9,753.3" stroke="#c4ae62"/>
<polygon points="391.7,759.3 409.0,744.9 395.7,759.5 378.4,772.0" stroke="#b0b069"/>
<polygon points="702.8,886.8 720.1,883.3 706.8,878.1 689.5,878.8" stroke="#322a71"/>
<polygon points="287.8,846.4 305.1,833.2 291.8,835.8 274.5,847.3" stroke="#1f71b8"/>
<polygon points="305.1,833.2 322.4,816.9 309.1,821.8 291.8,835.8" stroke="#1f82b5"/>
<polygon points="374.3,768.6 391.7,759.3 378.4,772.0 361.1,780.2" stroke="#9cb070"/>
<polygon points="641.6,880.7 658.9,878.2 645.6,862.6 628.3,861.4" stroke="#353585"/>
<polygon points="235.9,887.0 253.2,873.8 239.9,871.1 222.6,882.5" stroke="#322a71"/>
<polygon points="322.4,816.9 339.7,796.2 326.5,804.2 309.1,821.8" stroke="#1996ac"/>
<polygon points="571.1,812.5 588.5,823.2 575.2,809.4 557.9,795.6" stroke="#1f9ba6"/>
<polygon points="584.4,831.2 601.7,838.4 588.5,823.2 571.1,812.5" stroke="#1a89b5"/>
<polygon points="357.0,777.7 374.3,768.6 361.1,780.2 343.8,788.3" stroke="#87b076"/>
<polygon points="339.7,796.2 357.0,777.7 343.8,788.3 326.5,804.2" stroke="#46a791"/>
<polygon points="597.7,846.3 615.0,850.9 601.7,838.4 584.4,831.2" stroke="#2175b6"/>
<polygon points="654.9,883.1 672.2,881.2 658.9,878.2 641.6,880.7" stroke="#35398f"/>
<polygon points="266.5,877.7 283.8,877.7 270.5,873.6 253.2,873.8" stroke="#3045a4"/>
<polygon points="685.4,890.2 702.8,886.8 689.5,878.8 672.2,881.2" stroke="#322a71"/>
<polygon points="283.8,877.7 301.1,848.9 287.8,846.4 270.5,873.6" stroke="#353c93"/>
<polygon points="514.0,763.4 531.3,777.2 518.0,763.7 500.7,748.0" stroke="#b0b069"/>
<polygon points="611.0,858.8 628.3,861.4 615.0,850.9 597.7,846.3" stroke="#1869ba"/>
<polygon points="422.2,742.3 439.5,750.5 426.3,752.4 409.0,744.9" stroke="#e4b350"/>
<polygon points="452.8,748.3 470.1,751.5 456.9,753.3 439.5,750.5" stroke="#d7af5a"/>
<polygon points="624.3,882.8 641.6,880.7 628.3,861.4 611.0,858.8" stroke="#35378b"/>
<polygon points="249.2,891.4 266.5,877.7 253.2,873.8 235.9,887.0" stroke="#322a71"/>
<polygon points="527.3,773.8 544.6,786.5 531.3,777.2 514.0,763.4" stroke="#9cb070"/>
<polygon points="301.1,848.9 318.4,835.1 305.1,833.2 287.8,846.4" stroke="#2174b7"/>
<polygon points="318.4,835.1 335.7,817.9 322.4,816.9 305.1,833.2" stroke="#1b87b4"/>
<polygon points="483.4,744.3 500.7,748.0 487.4,754.5 470.1,751.5" stroke="#e4b350"/>
<polygon points="668.1,893.6 685.4,890.2 672.2,881.2 654.9,883.1" stroke="#322a71"/>
<polygon points="637.5,884.6 654.9,883.1 641.6,880.7 624.3,882.8" stroke="#343f98"/>
<polygon points="335.7,817.9 353.0,796.1 339.7,796.2 322.4,816.9" stroke="#1d9aa7"/>
<polygon points="279.8,881.5 297.1,881.7 283.8,877.7 266.5,877.7" stroke="#2f47a8"/>
<polygon points="404.9,757.4 422.2,742.3 409.0,744.9 391.7,759.3" stroke="#c4ae62"/>
<polygon points="297.1,881.7 314.4,851.3 301.1,848.9 283.8,877.7" stroke="#343d95"/>
<polygon points="540.6,783.9 557.9,795.6 544.6,786.5 527.3,773.8" stroke="#87b076"/>
<polygon points="387.6,767.1 404.9,757.4 391.7,759.3 374.3,768.6" stroke="#b0b069"/>
<polygon points="580.4,842.6 597.7,846.3 584.4,831.2 567.1,825.2" stroke="#1f82b5"/>
<polygon points="567.1,825.2 584.4,831.2 571.1,812.5 553.8,803.5" stroke="#1996ac"/>
<polygon points="607.0,885.1 624.3,882.8 611.0,858.8 593.7,856.8" stroke="#353b91"/>
<polygon points="553.8,803.5 571.1,812.5 557.9,795.6 540.6,783.9" stroke="#46a791"/>
<polygon points="353.0,796.1 370.3,776.5 357.0,777.7 339.7,796.2" stroke="#5aab88"/>
<polygon points="370.3,776.5 387.6,767.1 374.3,768.6 357.0,777.7" stroke="#9cb070"/>
<polygon points="262.4,895.9 279.8,881.5 266.5,877.7 249.2,891.4" stroke="#322a71"/>
<polygon points="593.7,856.8 611.0,858.8 597.7,846.3 580.4,842.6" stroke="#1f71b8"/>
<polygon points="650.8,897.1 668.1,893.6 654.9,883.1 637.5,884.6" stroke="#322a71"/>
<polygon points="314.4,851.3 331.7,836.8 318.4,835.1 301.1,848.9" stroke="#2278b6"/>
<polygon points="620.2,886.3 637.5,884.6 624.3,882.8 607.0,885.1" stroke="#3144a1"/>
<polygon points="496.7,760.5 514.0,763.4 500.7,748.0 483.4,744.3" stroke="#c4ae62"/>
<polygon points="435.5,739.3 452.8,748.3 439.5,750.5 422.2,742.3" stroke="#e4c344"/>
<polygon points="331.7,836.8 349.0,818.7 335.7,817.9 318.4,835.1" stroke="#198cb4"/>
<polygon points="466.1,740.3 483.4,744.3 470.1,751.5 452.8,748.3" stroke="#e4c344"/>
<polygon points="293.0,884.7 310.3,885.4 297.1,881.7 279.8,881.5" stroke="#294bad"/>
<polygon points="510.0,771.3 527.3,773.8 514.0,763.4 496.7,760.5" stroke="#b0b069"/>
<polygon points="310.3,885.4 327.7,851.9 314.4,851.3 297.1,881.7" stroke="#343f9a"/>
<polygon points="349.0,818.7 366.3,795.7 353.0,796.1 335.7,817.9" stroke="#259ea1"/>
<polygon points="589.7,888.1 607.0,885.1 593.7,856.8 576.4,858.3" stroke="#353c93"/>
<polygon points="633.5,900.5 650.8,897.1 637.5,884.6 620.2,886.3" stroke="#322a71"/>
<polygon points="563.1,843.4 580.4,842.6 567.1,825.2 549.8,825.2" stroke="#1b87b4"/>
<polygon points="602.9,889.2 620.2,886.3 607.0,885.1 589.7,888.1" stroke="#3045a4"/>
<polygon points="275.7,900.4 293.0,884.7 279.8,881.5 262.4,895.9" stroke="#322a71"/>
<polygon points="418.2,755.2 435.5,739.3 422.2,742.3 404.9,757.4" stroke="#d7af5a"/>
<polygon points="576.4,858.3 593.7,856.8 580.4,842.6 563.1,843.4" stroke="#2174b7"/>
<polygon points="549.8,825.2 567.1,825.2 553.8,803.5 536.5,802.4" stroke="#1d9aa7"/>
<polygon points="400.9,765.3 418.2,755.2 404.9,757.4 387.6,767.1" stroke="#c4ae62"/>
<polygon points="523.3,781.7 540.6,783.9 527.3,773.8 510.0,771.3" stroke="#9cb070"/>
<polygon points="366.3,795.7 383.6,775.1 370.3,776.5 353.0,796.1" stroke="#6fae7f"/>
<polygon points="536.5,802.4 553.8,803.5 540.6,783.9 523.3,781.7" stroke="#5aab88"/>
<polygon points="327.7,851.9 345.0,836.1 331.7,836.8 314.4,851.3" stroke="#207fb5"/>
<polygon points="383.6,775.1 400.9,765.3 387.6,767.1 370.3,776.5" stroke="#b0b069"/>
<polygon points="479.4,757.3 496.7,760.5 483.4,744.3 466.1,740.3" stroke="#d7af5a"/>
<polygon points="306.3,890.5 323.6,890.7 310.3,885.4 293.0,884.7" stroke="#2f47a8"/>
<polygon points="572.3,891.1 589.7,888.1 576.4,858.3 559.1,859.6" stroke="#343d95"/>
<polygon points="345.0,836.1 362.3,816.4 349.0,818.7 331.7,836.8" stroke="#1994af"/>
<polygon points="323.6,890.7 340.9,860.3 327.7,851.9 310.3,885.4" stroke="#343d95"/>
<polygon points="616.2,904.0 633.5,900.5 620.2,886.3 602.9,889.2" stroke="#322a71"/>
<polygon points="585.6,891.9 602.9,889.2 589.7,888.1 572.3,891.1" stroke="#2f47a8"/>
<polygon points="492.7,768.4 510.0,771.3 496.7,760.5 479.4,757.3" stroke="#c4ae62"/>
<polygon points="545.8,844.1 563.1,843.4 549.8,825.2 532.5,824.9" stroke="#198cb4"/>
<polygon points="559.1,859.6 576.4,858.3 563.1,843.4 545.8,844.1" stroke="#2278b6"/>
<polygon points="289.0,904.9 306.3,890.5 293.0,884.7 275.7,900.4" stroke="#322a71"/>
<polygon points="448.8,729.9 466.1,740.3 452.8,748.3 435.5,739.3" stroke="#e5e631"/>
<polygon points="532.5,824.9 549.8,825.2 536.5,802.4 519.2,801.0" stroke="#259ea1"/>
<polygon points="362.3,816.4 379.6,791.2 366.3,795.7 349.0,818.7" stroke="#3aa597"/>
<polygon points="505.9,779.3 523.3,781.7 510.0,771.3 492.7,768.4" stroke="#b0b069"/>
<polygon points="340.9,860.3 358.2,845.8 345.0,836.1 327.7,851.9" stroke="#2278b6"/>
<polygon points="319.6,895.6 336.9,895.6 323.6,890.7 306.3,890.5" stroke="#3045a4"/>
<polygon points="519.2,801.0 536.5,802.4 523.3,781.7 505.9,779.3" stroke="#6fae7f"/>
<polygon points="598.9,907.4 616.2,904.0 602.9,889.2 585.6,891.9" stroke="#322a71"/>
<polygon points="555.0,893.7 572.3,891.1 559.1,859.6 541.8,859.2" stroke="#343f9a"/>
<polygon points="336.9,895.6 354.2,866.8 340.9,860.3 323.6,890.7" stroke="#353c93"/>
<polygon points="568.3,894.1 585.6,891.9 572.3,891.1 555.0,893.7" stroke="#294bad"/>
<polygon points="358.2,845.8 375.5,827.7 362.3,816.4 345.0,836.1" stroke="#198cb4"/>
<polygon points="431.5,747.2 448.8,729.9 435.5,739.3 418.2,755.2" stroke="#e4c344"/>
<polygon points="414.2,758.1 431.5,747.2 418.2,755.2 400.9,765.3" stroke="#e4b350"/>
<polygon points="379.6,791.2 396.9,768.6 383.6,775.1 366.3,795.7" stroke="#94b073"/>
<polygon points="302.3,909.4 319.6,895.6 306.3,890.5 289.0,904.9" stroke="#322a71"/>
<polygon points="462.1,748.3 479.4,757.3 466.1,740.3 448.8,729.9" stroke="#e4c344"/>
<polygon points="541.8,859.2 559.1,859.6 545.8,844.1 528.5,842.4" stroke="#207fb5"/>
<polygon points="528.5,842.4 545.8,844.1 532.5,824.9 515.2,821.6" stroke="#1994af"/>
<polygon points="396.9,768.6 414.2,758.1 400.9,765.3 383.6,775.1" stroke="#d2ae5d"/>
<polygon points="354.2,866.8 371.5,853.0 358.2,845.8 340.9,860.3" stroke="#2174b7"/>
<polygon points="375.5,827.7 392.9,804.7 379.6,791.2 362.3,816.4" stroke="#259ea1"/>
<polygon points="475.4,760.2 492.7,768.4 479.4,757.3 462.1,748.3" stroke="#e4b350"/>
<polygon points="371.5,853.0 388.8,835.8 375.5,827.7 358.2,845.8" stroke="#1b87b4"/>
<polygon points="537.7,898.0 555.0,893.7 541.8,859.2 524.5,866.5" stroke="#343d95"/>
<polygon points="581.6,910.8 598.9,907.4 585.6,891.9 568.3,894.1" stroke="#322a71"/>
<polygon points="515.2,821.6 532.5,824.9 519.2,801.0 501.9,795.4" stroke="#3aa597"/>
<polygon points="551.0,898.8 568.3,894.1 555.0,893.7 537.7,898.0" stroke="#2f47a8"/>
<polygon points="332.9,900.7 350.2,900.5 336.9,895.6 319.6,895.6" stroke="#3144a1"/>
<polygon points="350.2,900.5 367.5,873.3 354.2,866.8 336.9,895.6" stroke="#353b91"/>
<polygon points="488.6,771.8 505.9,779.3 492.7,768.4 475.4,760.2" stroke="#d2ae5d"/>
<polygon points="388.8,835.8 406.1,814.0 392.9,804.7 375.5,827.7" stroke="#1d9aa7"/>
<polygon points="444.8,764.2 462.1,748.3 448.8,729.9 431.5,747.2" stroke="#d7af5a"/>
<polygon points="427.5,774.3 444.8,764.2 431.5,747.2 414.2,758.1" stroke="#c4ae62"/>
<polygon points="524.5,866.5 541.8,859.2 528.5,842.4 511.2,851.0" stroke="#2278b6"/>
<polygon points="511.2,851.0 528.5,842.4 515.2,821.6 497.9,831.8" stroke="#198cb4"/>
<polygon points="501.9,795.4 519.2,801.0 505.9,779.3 488.6,771.8" stroke="#94b073"/>
<polygon points="392.9,804.7 410.2,784.1 396.9,768.6 379.6,791.2" stroke="#6fae7f"/>
<polygon points="520.4,901.9 537.7,898.0 524.5,866.5 507.1,872.1" stroke="#353c93"/>
<polygon points="315.6,913.9 332.9,900.7 319.6,895.6 302.3,909.4" stroke="#322a71"/>
<polygon points="367.5,873.3 384.8,860.1 371.5,853.0 354.2,866.8" stroke="#1f71b8"/>
<polygon points="458.1,775.3 475.4,760.2 462.1,748.3 444.8,764.2" stroke="#c4ae62"/>
<polygon points="410.2,784.1 427.5,774.3 414.2,758.1 396.9,768.6" stroke="#b0b069"/>
<polygon points="384.8,860.1 402.1,843.8 388.8,835.8 371.5,853.0" stroke="#1f82b5"/>
<polygon points="533.7,902.9 551.0,898.8 537.7,898.0 520.4,901.9" stroke="#3045a4"/>
<polygon points="564.3,914.3 581.6,910.8 568.3,894.1 551.0,898.8" stroke="#322a71"/>
<polygon points="440.7,785.0 458.1,775.3 444.8,764.2 427.5,774.3" stroke="#b0b069"/>
<polygon points="497.9,831.8 515.2,821.6 501.9,795.4 484.6,807.8" stroke="#259ea1"/>
<polygon points="493.9,857.2 511.2,851.0 497.9,831.8 480.6,838.9" stroke="#1b87b4"/>
<polygon points="363.5,906.2 380.8,883.2 367.5,873.3 350.2,900.5" stroke="#35378b"/>
<polygon points="507.1,872.1 524.5,866.5 511.2,851.0 493.9,857.2" stroke="#2174b7"/>
<polygon points="406.1,814.0 423.4,794.5 410.2,784.1 392.9,804.7" stroke="#5aab88"/>
<polygon points="346.2,906.9 363.5,906.2 350.2,900.5 332.9,900.7" stroke="#343f98"/>
<polygon points="423.4,794.5 440.7,785.0 427.5,774.3 410.2,784.1" stroke="#9cb070"/>
<polygon points="402.1,843.8 419.4,823.1 406.1,814.0 388.8,835.8" stroke="#1996ac"/>
<polygon points="480.6,838.9 497.9,831.8 484.6,807.8 467.3,816.1" stroke="#1d9aa7"/>
<polygon points="471.3,786.2 488.6,771.8 475.4,760.2 458.1,775.3" stroke="#b0b069"/>
<polygon points="484.6,807.8 501.9,795.4 488.6,771.8 471.3,786.2" stroke="#6fae7f"/>
<polygon points="503.1,905.7 520.4,901.9 507.1,872.1 489.8,877.5" stroke="#353b91"/>
<polygon points="454.0,795.5 471.3,786.2 458.1,775.3 440.7,785.0" stroke="#9cb070"/>
<polygon points="380.8,883.2 398.1,871.7 384.8,860.1 367.5,873.3" stroke="#1869ba"/>
<polygon points="398.1,871.7 415.4,857.6 402.1,843.8 384.8,860.1" stroke="#2175b6"/>
<polygon points="476.6,863.3 493.9,857.2 480.6,838.9 463.3,845.9" stroke="#1f82b5"/>
<polygon points="467.3,816.1 484.6,807.8 471.3,786.2 454.0,795.5" stroke="#5aab88"/>
<polygon points="516.4,907.0 533.7,902.9 520.4,901.9 503.1,905.7" stroke="#3144a1"/>
<polygon points="547.0,917.7 564.3,914.3 551.0,898.8 533.7,902.9" stroke="#322a71"/>
<polygon points="489.8,877.5 507.1,872.1 493.9,857.2 476.6,863.3" stroke="#1f71b8"/>
<polygon points="328.9,918.4 346.2,906.9 332.9,900.7 315.6,913.9" stroke="#322a71"/>
<polygon points="415.4,857.6 432.7,840.1 419.4,823.1 402.1,843.8" stroke="#1a89b5"/>
<polygon points="463.3,845.9 480.6,838.9 467.3,816.1 450.0,824.2" stroke="#1996ac"/>
<polygon points="419.4,823.1 436.7,804.6 423.4,794.5 406.1,814.0" stroke="#46a791"/>
<polygon points="436.7,804.6 454.0,795.5 440.7,785.0 423.4,794.5" stroke="#87b076"/>
<polygon points="411.4,884.3 428.7,872.8 415.4,857.6 398.1,871.7" stroke="#1869ba"/>
<polygon points="376.7,911.9 394.1,893.7 380.8,883.2 363.5,906.2" stroke="#353585"/>
<polygon points="428.7,872.8 446.0,858.7 432.7,840.1 415.4,857.6" stroke="#2175b7"/>
<polygon points="459.3,873.8 476.6,863.3 463.3,845.9 446.0,858.7" stroke="#2175b6"/>
<polygon points="446.0,858.7 463.3,845.9 450.0,824.2 432.7,840.1" stroke="#1a89b5"/>
<polygon points="394.1,893.7 411.4,884.3 398.1,871.7 380.8,883.2" stroke="#105dbc"/>
<polygon points="450.0,824.2 467.3,816.1 454.0,795.5 436.7,804.6" stroke="#46a791"/>
<polygon points="485.8,910.3 503.1,905.7 489.8,877.5 472.5,886.3" stroke="#35378b"/>
<polygon points="441.9,885.3 459.3,873.8 446.0,858.7 428.7,872.8" stroke="#1869ba"/>
<polygon points="432.7,840.1 450.0,824.2 436.7,804.6 419.4,823.1" stroke="#1f9ba6"/>
<polygon points="359.4,913.4 376.7,911.9 363.5,906.2 346.2,906.9" stroke="#35398f"/>
<polygon points="472.5,886.3 489.8,877.5 476.6,863.3 459.3,873.8" stroke="#1869ba"/>
<polygon points="424.6,894.8 441.9,885.3 428.7,872.8 411.4,884.3" stroke="#105dbc"/>
<polygon points="499.1,912.2 516.4,907.0 503.1,905.7 485.8,910.3" stroke="#343f98"/>
<polygon points="529.7,921.2 547.0,917.7 533.7,902.9 516.4,907.0" stroke="#322a71"/>
<polygon points="455.2,895.8 472.5,886.3 459.3,873.8 441.9,885.3" stroke="#105dbc"/>
<polygon points="407.3,902.8 424.6,894.8 411.4,884.3 394.1,893.7" stroke="#2052b5"/>
<polygon points="468.5,915.1 485.8,910.3 472.5,886.3 455.2,895.8" stroke="#353585"/>
<polygon points="390.0,917.4 407.3,902.8 394.1,893.7 376.7,911.9" stroke="#343280"/>
<polygon points="342.1,922.8 359.4,913.4 346.2,906.9 328.9,918.4" stroke="#322a71"/>
<polygon points="437.9,903.9 455.2,895.8 441.9,885.3 424.6,894.8" stroke="#2052b5"/>
<polygon points="372.7,919.3 390.0,917.4 376.7,911.9 359.4,913.4" stroke="#353687"/>
<polygon points="481.8,917.6 499.1,912.2 485.8,910.3 468.5,915.1" stroke="#35398f"/>
<polygon points="451.2,919.5 468.5,915.1 455.2,895.8 437.9,903.9" stroke="#343280"/>
<polygon points="512.4,924.6 529.7,921.2 516.4,907.0 499.1,912.2" stroke="#322a71"/>
<polygon points="420.6,910.8 437.9,903.9 424.6,894.8 407.3,902.8" stroke="#2f46a6"/>
<polygon points="403.3,922.6 420.6,910.8 407.3,902.8 390.0,917.4" stroke="#34307c"/>
<polygon points="355.4,927.3 372.7,919.3 359.4,913.4 342.1,922.8" stroke="#322a71"/>
<polygon points="464.5,922.5 481.8,917.6 468.5,915.1 451.2,919.5" stroke="#353687"/>
<polygon points="433.9,923.7 451.2,919.5 437.9,903.9 420.6,910.8" stroke="#34307c"/>
<polygon points="495.1,928.1 512.4,924.6 499.1,912.2 481.8,917.6" stroke="#322a71"/>
<polygon points="386.0,924.9 403.3,922.6 390.0,917.4 372.7,919.3" stroke="#343382"/>
<polygon points="416.6,928.9 433.9,923.7 420.6,910.8 403.3,922.6" stroke="#332c74"/>
<polygon points="447.2,927.0 464.5,922.5 451.2,919.5 433.9,923.7" stroke="#343382"/>
<polygon points="477.8,931.5 495.1,928.1 481.8,917.6 464.5,922.5" stroke="#322a71"/>
<polygon points="368.7,931.8 386.0,924.9 372.7,919.3 355.4,927.3" stroke="#322a71"/>
<polygon points="399.3,932.1 416.6,928.9 403.3,922.6 386.0,924.9" stroke="#332c75"/>
<polygon points="429.9,933.2 447.2,927.0 433.9,923.7 416.6,928.9" stroke="#332c75"/>
<polygon points="460.5,934.9 477.8,931.5 464.5,922.5 447.2,927.0" stroke="#322a71"/>
<polygon points="382.0,936.3 399.3,932.1 386.0,924.9 368.7,931.8" stroke="#322a71"/>
<polygon points="412.6,936.2 429.9,933.2 416.6,928.9 399.3,932.1" stroke="#332d77"/>
<polygon points="443.1,938.4 460.5,934.9 447.2,927.0 429.9,933.2" stroke="#322a71"/>
<polygon points="395.3,940.8 412.6,936.2 399.3,932.1 382.0,936.3" stroke="#322a71"/>
<polygon points="425.8,941.8 443.1,938.4 429.9,933.2 412.6,936.2" stroke="#322a71"/>
<polygon points="408.5,945.3 425.8,941.8 412.6,936.2 395.3,940.8" stroke="#322a71"/>
</g>
<line x1="408.5" y1="945.3" x2="754.7" y2="876.4" stroke="#262626" stroke-width="1.8"/>
<line x1="408.5" y1="945.3" x2="142.9" y2="855.6" stroke="#262626" stroke-width="1.8"/>
<line x1="142.9" y1="855.6" x2="142.9" y2="659.8" stroke="#262626" stroke-width="1.8"/>
<line x1="408.5" y1="945.3" x2="414.4" y2="947.2" stroke="#262626" stroke-width="1.8"/>
<line x1="495.1" y1="928.1" x2="500.9" y2="930.0" stroke="#262626" stroke-width="1.8"/>
<line x1="581.6" y1="910.8" x2="587.4" y2="912.8" stroke="#262626" stroke-width="1.8"/>
<line x1="668.1" y1="893.6" x2="674.0" y2="895.6" stroke="#262626" stroke-width="1.8"/>
<line x1="754.7" y1="876.4" x2="760.5" y2="878.4" stroke="#262626" stroke-width="1.8"/>
<line x1="408.5" y1="945.3" x2="400.9" y2="946.8" stroke="#262626" stroke-width="1.8"/>
<line x1="275.7" y1="900.4" x2="268.1" y2="901.9" stroke="#262626" stroke-width="1.8"/>
<line x1="142.9" y1="855.6" x2="135.3" y2="857.1" stroke="#262626" stroke-width="1.8"/>
<line x1="142.9" y1="855.6" x2="137.1" y2="853.6" stroke="#262626" stroke-width="1.8"/>
<line x1="142.9" y1="757.7" x2="137.1" y2="755.7" stroke="#262626" stroke-width="1.8"/>
<line x1="142.9" y1="659.8" x2="137.1" y2="657.8" stroke="#262626" stroke-width="1.8"/>
<text transform="translate(425.0,974.7) scale(1.065,1)" font-size="22.2" text-anchor="start" font-weight="normal" fill="#262626" stroke="#262626" stroke-width="0.5" stroke-opacity="0.15">-1</text>
<text transform="translate(511.6,957.5) scale(1.065,1)" font-size="22.2" text-anchor="start" font-weight="normal" fill="#262626" stroke="#262626" stroke-width="0.5" stroke-opacity="0.15">-0.5</text>
<text transform="translate(598.1,940.3) scale(1.065,1)" font-size="22.2" text-anchor="start" font-weight="normal" fill="#262626" stroke="#262626" stroke-width="0.5" stroke-opacity="0.15">0</text>
<text transform="translate(684.6,923.1) scale(1.065,1)" font-size="22.2" text-anchor="start" font-weight="normal" fill="#262626" stroke="#262626" stroke-width="0.5" stroke-opacity="0.15">0.5</text>
<text transform="translate(771.2,905.9) scale(1.065,1)" font-size="22.2" text-anchor="start" font-weight="normal" fill="#262626" stroke="#262626" stroke-width="0.5" stroke-opacity="0.15">1</text>
<text transform="translate(390.9,973.5) scale(1.065,1)" font-size="22.2" text-anchor="end" font-weight="normal" fill="#262626" stroke="#262626" stroke-width="0.5" stroke-opacity="0.15">-1</text>
<text transform="translate(258.1,928.7) scale(1.065,1)" font-size="22.2" text-anchor="end" font-weight="normal" fill="#262626" stroke="#262626" stroke-width="0.5" stroke-opacity="0.15">0</text>
<text transform="translate(125.3,883.8) scale(1.065,1)" font-size="22.2" text-anchor="end" font-weight="normal" fill="#262626" stroke="#262626" stroke-width="0.5" stroke-opacity="0.15">1</text>
<text transform="translate(126.2,859.5) scale(1.065,1)" font-size="22.2" text-anchor="end" font-weight="normal" fill="#262626" stroke="#262626" stroke-width="0.5" stroke-opacity="0.15">0</text>
<text transform="translate(126.2,761.6) scale(1.065,1)" font-size="22.2" text-anchor="end" font-weight="normal" fill="#262626" stroke="#262626" stroke-width="0.5" stroke-opacity="0.15">0.5</text>
<text transform="translate(126.2,663.7) scale(1.065,1)" font-size="22.2" text-anchor="end" font-weight="normal" fill="#262626" stroke="#262626" stroke-width="0.5" stroke-opacity="0.15">1</text>
<text transform="translate(582.5,992.5) scale(1.065,1)" font-size="22.2" text-anchor="middle" font-weight="normal" fill="#262626" stroke="#262626" stroke-width="0.5">x</text>
<text transform="translate(275.0,986.5) scale(1.065,1)" font-size="22.2" text-anchor="middle" font-weight="normal" fill="#262626" stroke="#262626" stroke-width="0.5">y</text>
<g transform="translate(66.5,759.5) rotate(-90) scale(1,1.065)"><text font-size="24" text-anchor="middle" fill="#262626" stroke="#262626" stroke-width="0.8">|<tspan font-family='"Liberation Serif", "DejaVu Serif", serif' font-style="italic" fill="#666" stroke-width="0" dx="2">ψ</tspan><tspan font-size="16" dy="5" stroke-width="0.4">1</tspan><tspan dy="-5" dx="2">|</tspan></text></g>
<text transform="translate(448.6,570.7) scale(1.08,1)" font-size="25.5" font-weight="bold" text-anchor="middle" fill="#000" stroke="#000" stroke-width="0.2">Numerical representation of |<tspan font-family='"Liberation Serif", "DejaVu Serif", serif' font-style="italic" font-weight="normal">ψ</tspan><tspan font-size="18" dy="6">1</tspan><tspan dy="-6">|</tspan></text>
<defs><linearGradient id="cb3" x1="0" y1="0" x2="0" y2="1"><stop offset="0.0000" stop-color="#f9fb0e"/><stop offset="0.0159" stop-color="#f6f313"/><stop offset="0.0317" stop-color="#f5eb18"/><stop offset="0.0476" stop-color="#f5e41d"/><stop offset="0.0635" stop-color="#f5de21"/><stop offset="0.0794" stop-color="#f7d826"/><stop offset="0.0952" stop-color="#fad32a"/><stop offset="0.1111" stop-color="#fcce2e"/><stop offset="0.1270" stop-color="#fec832"/><stop offset="0.1429" stop-color="#ffc337"/><stop offset="0.1587" stop-color="#fdbe3d"/><stop offset="0.1746" stop-color="#f8bb44"/><stop offset="0.1905" stop-color="#f1b94a"/><stop offset="0.2063" stop-color="#e9b94e"/><stop offset="0.2222" stop-color="#e1b952"/><stop offset="0.2381" stop-color="#d9ba56"/><stop offset="0.2540" stop-color="#d1bb59"/><stop offset="0.2698" stop-color="#c8bc5d"/><stop offset="0.2857" stop-color="#c0bc60"/><stop offset="0.3016" stop-color="#b7bd64"/><stop offset="0.3175" stop-color="#aebe67"/><stop offset="0.3333" stop-color="#a5be6b"/><stop offset="0.3492" stop-color="#9cbf6f"/><stop offset="0.3651" stop-color="#92bf73"/><stop offset="0.3810" stop-color="#87bf77"/><stop offset="0.3968" stop-color="#7cbf7b"/><stop offset="0.4127" stop-color="#71bf80"/><stop offset="0.4286" stop-color="#65be86"/><stop offset="0.4444" stop-color="#59bd8c"/><stop offset="0.4603" stop-color="#4dbc92"/><stop offset="0.4762" stop-color="#42bb98"/><stop offset="0.4921" stop-color="#38b99e"/><stop offset="0.5079" stop-color="#2eb7a4"/><stop offset="0.5238" stop-color="#25b5a9"/><stop offset="0.5397" stop-color="#1db3af"/><stop offset="0.5556" stop-color="#15b1b4"/><stop offset="0.5714" stop-color="#0faeb9"/><stop offset="0.5873" stop-color="#0aacbe"/><stop offset="0.6032" stop-color="#07a9c2"/><stop offset="0.6190" stop-color="#06a7c6"/><stop offset="0.6349" stop-color="#06a4ca"/><stop offset="0.6508" stop-color="#06a0cd"/><stop offset="0.6667" stop-color="#079ccf"/><stop offset="0.6825" stop-color="#0998d1"/><stop offset="0.6984" stop-color="#0c93d2"/><stop offset="0.7143" stop-color="#108ed2"/><stop offset="0.7302" stop-color="#1389d3"/><stop offset="0.7460" stop-color="#1485d4"/><stop offset="0.7619" stop-color="#1481d6"/><stop offset="0.7778" stop-color="#127dd8"/><stop offset="0.7937" stop-color="#1079da"/><stop offset="0.8095" stop-color="#0d75dc"/><stop offset="0.8254" stop-color="#0871de"/><stop offset="0.8413" stop-color="#046de0"/><stop offset="0.8571" stop-color="#0268e1"/><stop offset="0.8730" stop-color="#0363e1"/><stop offset="0.8889" stop-color="#0f5cdd"/><stop offset="0.9048" stop-color="#2053d4"/><stop offset="0.9206" stop-color="#2c4ac7"/><stop offset="0.9365" stop-color="#3243ba"/><stop offset="0.9524" stop-color="#353dad"/><stop offset="0.9683" stop-color="#3637a0"/><stop offset="0.9841" stop-color="#363093"/><stop offset="1.0000" stop-color="#352a87"/></linearGradient></defs>
<rect x="825.8" y="591.5" width="51.0" height="354.0" fill="url(#cb3)" stroke="#262626" stroke-width="1.8"/>
<text transform="translate(883.0,952.7) scale(1.065,1)" font-size="20" text-anchor="start" font-weight="normal" fill="#3a3a3a" stroke="#3a3a3a" stroke-width="0.5" stroke-opacity="0">0</text>
<line x1="871.8" y1="894.7" x2="876.8" y2="894.7" stroke="#262626" stroke-width="1.6"/>
<text transform="translate(883.0,901.9) scale(1.065,1)" font-size="20" text-anchor="start" font-weight="normal" fill="#3a3a3a" stroke="#3a3a3a" stroke-width="0.5" stroke-opacity="0">0.1</text>
<line x1="871.8" y1="843.9" x2="876.8" y2="843.9" stroke="#262626" stroke-width="1.6"/>
<text transform="translate(883.0,851.1) scale(1.065,1)" font-size="20" text-anchor="start" font-weight="normal" fill="#3a3a3a" stroke="#3a3a3a" stroke-width="0.5" stroke-opacity="0">0.2</text>
<line x1="871.8" y1="793.1" x2="876.8" y2="793.1" stroke="#262626" stroke-width="1.6"/>
<text transform="translate(883.0,800.3) scale(1.065,1)" font-size="20" text-anchor="start" font-weight="normal" fill="#3a3a3a" stroke="#3a3a3a" stroke-width="0.5" stroke-opacity="0">0.3</text>
<line x1="871.8" y1="742.3" x2="876.8" y2="742.3" stroke="#262626" stroke-width="1.6"/>
<text transform="translate(883.0,749.5) scale(1.065,1)" font-size="20" text-anchor="start" font-weight="normal" fill="#3a3a3a" stroke="#3a3a3a" stroke-width="0.5" stroke-opacity="0">0.4</text>
<line x1="871.8" y1="691.6" x2="876.8" y2="691.6" stroke="#262626" stroke-width="1.6"/>
<text transform="translate(883.0,698.7) scale(1.065,1)" font-size="20" text-anchor="start" font-weight="normal" fill="#3a3a3a" stroke="#3a3a3a" stroke-width="0.5" stroke-opacity="0">0.5</text>
<line x1="871.8" y1="640.8" x2="876.8" y2="640.8" stroke="#262626" stroke-width="1.6"/>
<text transform="translate(883.0,647.9) scale(1.065,1)" font-size="20" text-anchor="start" font-weight="normal" fill="#3a3a3a" stroke="#3a3a3a" stroke-width="0.5" stroke-opacity="0">0.6</text>
<rect x="168.7" y="669.8" width="195.5" height="75.0" fill="none" stroke="#444" stroke-width="2.5" rx="2"/>
<text transform="translate(181.5,700.1) scale(1.065,1)" font-size="21.6" text-anchor="start" font-weight="normal" fill="#262626" stroke="#262626" stroke-width="0.5">Time level t = 1</text>
<text transform="translate(181.5,729.3) scale(1.065,1)" font-size="21.6" fill="#262626" stroke="#262626" stroke-width="0.5">and <tspan font-family='"Liberation Serif", "DejaVu Serif", serif' font-style="italic" dx="1.5" fill="#555" stroke-width="0.2">τ</tspan><tspan dx="3.5"> = 3</tspan></text><line x1="1168.9" y1="855.6" x2="1168.9" y2="659.8" stroke="#e0e0e0" stroke-width="1.9"/>
<line x1="1434.5" y1="945.3" x2="1168.9" y2="855.6" stroke="#e0e0e0" stroke-width="1.9"/>
<line x1="1255.5" y1="838.4" x2="1255.5" y2="642.6" stroke="#e0e0e0" stroke-width="1.9"/>
<line x1="1521.1" y1="928.1" x2="1255.5" y2="838.4" stroke="#e0e0e0" stroke-width="1.9"/>
<line x1="1342.0" y1="821.2" x2="1342.0" y2="625.4" stroke="#e0e0e0" stroke-width="1.9"/>
<line x1="1607.6" y1="910.8" x2="1342.0" y2="821.2" stroke="#e0e0e0" stroke-width="1.9"/>
<line x1="1428.5" y1="804.0" x2="1428.5" y2="608.1" stroke="#e0e0e0" stroke-width="1.9"/>
<line x1="1694.1" y1="893.6" x2="1428.5" y2="804.0" stroke="#e0e0e0" stroke-width="1.9"/>
<line x1="1515.1" y1="786.7" x2="1515.1" y2="590.9" stroke="#e0e0e0" stroke-width="1.9"/>
<line x1="1780.7" y1="876.4" x2="1515.1" y2="786.7" stroke="#e0e0e0" stroke-width="1.9"/>
<line x1="1780.7" y1="876.4" x2="1780.7" y2="680.6" stroke="#e0e0e0" stroke-width="1.9"/>
<line x1="1434.5" y1="945.3" x2="1780.7" y2="876.4" stroke="#e0e0e0" stroke-width="1.9"/>
<line x1="1647.9" y1="831.6" x2="1647.9" y2="635.8" stroke="#e0e0e0" stroke-width="1.9"/>
<line x1="1301.7" y1="900.4" x2="1647.9" y2="831.6" stroke="#e0e0e0" stroke-width="1.9"/>
<line x1="1515.1" y1="786.7" x2="1515.1" y2="590.9" stroke="#e0e0e0" stroke-width="1.9"/>
<line x1="1168.9" y1="855.6" x2="1515.1" y2="786.7" stroke="#e0e0e0" stroke-width="1.9"/>
<line x1="1168.9" y1="855.6" x2="1515.1" y2="786.7" stroke="#e0e0e0" stroke-width="1.9"/>
<line x1="1515.1" y1="786.7" x2="1780.7" y2="876.4" stroke="#e0e0e0" stroke-width="1.9"/>
<line x1="1168.9" y1="757.7" x2="1515.1" y2="688.8" stroke="#e0e0e0" stroke-width="1.9"/>
<line x1="1515.1" y1="688.8" x2="1780.7" y2="778.5" stroke="#e0e0e0" stroke-width="1.9"/>
<line x1="1168.9" y1="659.8" x2="1515.1" y2="590.9" stroke="#e0e0e0" stroke-width="1.9"/>
<line x1="1515.1" y1="590.9" x2="1780.7" y2="680.6" stroke="#e0e0e0" stroke-width="1.9"/>
<g stroke-width="1.85" stroke-linejoin="round" fill="#fff">
<polygon points="1511.0,793.6 1528.3,791.2 1515.1,786.7 1497.8,790.2" stroke="#332d77"/>
<polygon points="1493.7,797.4 1511.0,793.6 1497.8,790.2 1480.5,793.6" stroke="#332c75"/>
<polygon points="1524.3,798.4 1541.6,795.7 1528.3,791.2 1511.0,793.6" stroke="#332c75"/>
<polygon points="1476.4,798.1 1493.7,797.4 1480.5,793.6 1463.1,797.1" stroke="#343383"/>
<polygon points="1507.0,802.1 1524.3,798.4 1511.0,793.6 1493.7,797.4" stroke="#332c74"/>
<polygon points="1537.6,800.1 1554.9,800.2 1541.6,795.7 1524.3,798.4" stroke="#343383"/>
<polygon points="1459.1,800.9 1476.4,798.1 1463.1,797.1 1445.8,800.5" stroke="#353586"/>
<polygon points="1489.7,803.7 1507.0,802.1 1493.7,797.4 1476.4,798.1" stroke="#34307d"/>
<polygon points="1520.3,804.7 1537.6,800.1 1524.3,798.4 1507.0,802.1" stroke="#34307d"/>
<polygon points="1550.9,804.0 1568.2,804.7 1554.9,800.2 1537.6,800.1" stroke="#353586"/>
<polygon points="1441.8,802.3 1459.1,800.9 1445.8,800.5 1428.5,804.0" stroke="#353a90"/>
<polygon points="1472.4,806.7 1489.7,803.7 1476.4,798.1 1459.1,800.9" stroke="#34317f"/>
<polygon points="1503.0,799.1 1520.3,804.7 1507.0,802.1 1489.7,803.7" stroke="#2c4aab"/>
<polygon points="1533.6,808.8 1550.9,804.0 1537.6,800.1 1520.3,804.7" stroke="#34317f"/>
<polygon points="1424.5,803.7 1441.8,802.3 1428.5,804.0 1411.2,807.4" stroke="#33409a"/>
<polygon points="1564.2,806.4 1581.5,809.2 1568.2,804.7 1550.9,804.0" stroke="#353a90"/>
<polygon points="1455.1,808.8 1472.4,806.7 1459.1,800.9 1441.8,802.3" stroke="#353586"/>
<polygon points="1485.7,800.6 1503.0,799.1 1489.7,803.7 1472.4,806.7" stroke="#234fb4"/>
<polygon points="1407.2,805.9 1424.5,803.7 1411.2,807.4 1393.9,810.8" stroke="#3144a1"/>
<polygon points="1546.9,811.9 1564.2,806.4 1550.9,804.0 1533.6,808.8" stroke="#353586"/>
<polygon points="1516.3,801.7 1533.6,808.8 1520.3,804.7 1503.0,799.1" stroke="#234fb4"/>
<polygon points="1577.4,808.9 1594.7,813.7 1581.5,809.2 1564.2,806.4" stroke="#33409a"/>
<polygon points="1437.8,810.9 1455.1,808.8 1441.8,802.3 1424.5,803.7" stroke="#35388c"/>
<polygon points="1389.9,808.5 1407.2,805.9 1393.9,810.8 1376.6,814.3" stroke="#2f45a5"/>
<polygon points="1468.4,797.3 1485.7,800.6 1472.4,806.7 1455.1,808.8" stroke="#1161bc"/>
<polygon points="1420.5,813.5 1437.8,810.9 1424.5,803.7 1407.2,805.9" stroke="#353b91"/>
<polygon points="1560.1,815.1 1577.4,808.9 1564.2,806.4 1546.9,811.9" stroke="#35388c"/>
<polygon points="1529.5,799.4 1546.9,811.9 1533.6,808.8 1516.3,801.7" stroke="#1161bc"/>
<polygon points="1499.0,802.8 1516.3,801.7 1503.0,799.1 1485.7,800.6" stroke="#1656ba"/>
<polygon points="1590.7,812.1 1608.0,818.1 1594.7,813.7 1577.4,808.9" stroke="#3144a1"/>
<polygon points="1372.6,811.1 1389.9,808.5 1376.6,814.3 1359.3,817.7" stroke="#2d48a9"/>
<polygon points="1451.1,794.1 1468.4,797.3 1455.1,808.8 1437.8,810.9" stroke="#1c6cba"/>
<polygon points="1403.2,816.4 1420.5,813.5 1407.2,805.9 1389.9,808.5" stroke="#343c94"/>
<polygon points="1573.4,818.7 1590.7,812.1 1577.4,808.9 1560.1,815.1" stroke="#353b91"/>
<polygon points="1355.3,813.7 1372.6,811.1 1359.3,817.7 1342.0,821.2" stroke="#294bad"/>
<polygon points="1604.0,815.8 1621.3,822.6 1608.0,818.1 1590.7,812.1" stroke="#2f45a5"/>
<polygon points="1481.7,798.4 1499.0,802.8 1485.7,800.6 1468.4,797.3" stroke="#1767bb"/>
<polygon points="1542.8,797.3 1560.1,815.1 1546.9,811.9 1529.5,799.4" stroke="#1c6cba"/>
<polygon points="1512.2,799.4 1529.5,799.4 1516.3,801.7 1499.0,802.8" stroke="#1767bb"/>
<polygon points="1385.9,819.3 1403.2,816.4 1389.9,808.5 1372.6,811.1" stroke="#343e96"/>
<polygon points="1433.8,793.5 1451.1,794.1 1437.8,810.9 1420.5,813.5" stroke="#2074b7"/>
<polygon points="1338.0,818.0 1355.3,813.7 1342.0,821.2 1324.7,824.6" stroke="#2d48a9"/>
<polygon points="1586.7,822.7 1604.0,815.8 1590.7,812.1 1573.4,818.7" stroke="#343c94"/>
<polygon points="1617.3,819.5 1634.6,827.1 1621.3,822.6 1604.0,815.8" stroke="#2d48a9"/>
<polygon points="1368.6,822.2 1385.9,819.3 1372.6,811.1 1355.3,813.7" stroke="#343f9a"/>
<polygon points="1464.3,794.1 1481.7,798.4 1468.4,797.3 1451.1,794.1" stroke="#2174b7"/>
<polygon points="1416.5,794.3 1433.8,793.5 1420.5,813.5 1403.2,816.4" stroke="#2278b6"/>
<polygon points="1556.1,797.6 1573.4,818.7 1560.1,815.1 1542.8,797.3" stroke="#2074b7"/>
<polygon points="1320.7,822.3 1338.0,818.0 1324.7,824.6 1307.4,828.0" stroke="#2f45a5"/>
<polygon points="1494.9,791.0 1512.2,799.4 1499.0,802.8 1481.7,798.4" stroke="#217bb5"/>
<polygon points="1525.5,796.1 1542.8,797.3 1529.5,799.4 1512.2,799.4" stroke="#2174b7"/>
<polygon points="1351.3,826.2 1368.6,822.2 1355.3,813.7 1338.0,818.0" stroke="#343e96"/>
<polygon points="1630.6,823.1 1647.9,831.6 1634.6,827.1 1617.3,819.5" stroke="#294bad"/>
<polygon points="1600.0,826.6 1617.3,819.5 1604.0,815.8 1586.7,822.7" stroke="#343e96"/>
<polygon points="1303.4,826.5 1320.7,822.3 1307.4,828.0 1290.1,831.5" stroke="#3144a1"/>
<polygon points="1399.1,795.1 1416.5,794.3 1403.2,816.4 1385.9,819.3" stroke="#217cb5"/>
<polygon points="1447.0,792.7 1464.3,794.1 1451.1,794.1 1433.8,793.5" stroke="#217cb5"/>
<polygon points="1569.4,799.5 1586.7,822.7 1573.4,818.7 1556.1,797.6" stroke="#2278b6"/>
<polygon points="1333.9,830.2 1351.3,826.2 1338.0,818.0 1320.7,822.3" stroke="#343c94"/>
<polygon points="1286.1,831.2 1303.4,826.5 1290.1,831.5 1272.8,834.9" stroke="#33409a"/>
<polygon points="1477.6,782.8 1494.9,791.0 1481.7,798.4 1464.3,794.1" stroke="#1990b1"/>
<polygon points="1643.8,828.4 1661.2,836.1 1647.9,831.6 1630.6,823.1" stroke="#2d48a9"/>
<polygon points="1613.3,830.5 1630.6,823.1 1617.3,819.5 1600.0,826.6" stroke="#343f9a"/>
<polygon points="1381.8,795.7 1399.1,795.1 1385.9,819.3 1368.6,822.2" stroke="#1f82b5"/>
<polygon points="1508.2,783.8 1525.5,796.1 1512.2,799.4 1494.9,791.0" stroke="#1990b1"/>
<polygon points="1538.8,795.8 1556.1,797.6 1542.8,797.3 1525.5,796.1" stroke="#217cb5"/>
<polygon points="1316.6,834.1 1333.9,830.2 1320.7,822.3 1303.4,826.5" stroke="#353b91"/>
<polygon points="1429.7,793.1 1447.0,792.7 1433.8,793.5 1416.5,794.3" stroke="#1e83b5"/>
<polygon points="1268.7,836.7 1286.1,831.2 1272.8,834.9 1255.5,838.4" stroke="#353a90"/>
<polygon points="1582.7,801.3 1600.0,826.6 1586.7,822.7 1569.4,799.5" stroke="#217cb5"/>
<polygon points="1364.5,801.9 1381.8,795.7 1368.6,822.2 1351.3,826.2" stroke="#217cb5"/>
<polygon points="1657.1,833.7 1674.4,840.6 1661.2,836.1 1643.8,828.4" stroke="#2f45a5"/>
<polygon points="1626.5,835.6 1643.8,828.4 1630.6,823.1 1613.3,830.5" stroke="#343e96"/>
<polygon points="1299.3,838.4 1316.6,834.1 1303.4,826.5 1286.1,831.2" stroke="#35388c"/>
<polygon points="1251.4,842.2 1268.7,836.7 1255.5,838.4 1238.2,841.8" stroke="#353586"/>
<polygon points="1460.3,779.0 1477.6,782.8 1464.3,794.1 1447.0,792.7" stroke="#1c99a8"/>
<polygon points="1552.1,797.3 1569.4,799.5 1556.1,797.6 1538.8,795.8" stroke="#1e83b5"/>
<polygon points="1412.4,793.4 1429.7,793.1 1416.5,794.3 1399.1,795.1" stroke="#1a89b5"/>
<polygon points="1347.2,808.1 1364.5,801.9 1351.3,826.2 1333.9,830.2" stroke="#2278b6"/>
<polygon points="1282.0,843.2 1299.3,838.4 1286.1,831.2 1268.7,836.7" stroke="#353586"/>
<polygon points="1521.5,781.1 1538.8,795.8 1525.5,796.1 1508.2,783.8" stroke="#1c99a8"/>
<polygon points="1595.9,803.0 1613.3,830.5 1600.0,826.6 1582.7,801.3" stroke="#1f82b5"/>
<polygon points="1670.4,839.0 1687.7,845.0 1674.4,840.6 1657.1,833.7" stroke="#3144a1"/>
<polygon points="1490.9,771.7 1508.2,783.8 1494.9,791.0 1477.6,782.8" stroke="#31a29b"/>
<polygon points="1234.1,846.2 1251.4,842.2 1238.2,841.8 1220.8,845.2" stroke="#343383"/>
<polygon points="1639.8,840.6 1657.1,833.7 1643.8,828.4 1626.5,835.6" stroke="#343c94"/>
<polygon points="1329.9,814.1 1347.2,808.1 1333.9,830.2 1316.6,834.1" stroke="#2074b7"/>
<polygon points="1264.7,848.0 1282.0,843.2 1268.7,836.7 1251.4,842.2" stroke="#34317f"/>
<polygon points="1443.0,777.9 1460.3,779.0 1447.0,792.7 1429.7,793.1" stroke="#259ea1"/>
<polygon points="1395.1,793.5 1412.4,793.4 1399.1,795.1 1381.8,795.7" stroke="#198fb3"/>
<polygon points="1565.4,798.6 1582.7,801.3 1569.4,799.5 1552.1,797.3" stroke="#1a89b5"/>
<polygon points="1216.8,852.5 1234.1,846.2 1220.8,845.2 1203.5,848.7" stroke="#332c75"/>
<polygon points="1609.2,810.3 1626.5,835.6 1613.3,830.5 1595.9,803.0" stroke="#217cb5"/>
<polygon points="1312.6,821.7 1329.9,814.1 1316.6,834.1 1299.3,838.4" stroke="#1c6cba"/>
<polygon points="1683.7,844.8 1701.0,849.5 1687.7,845.0 1670.4,839.0" stroke="#33409a"/>
<polygon points="1653.1,845.6 1670.4,839.0 1657.1,833.7 1639.8,840.6" stroke="#353b91"/>
<polygon points="1247.4,851.9 1264.7,848.0 1251.4,842.2 1234.1,846.2" stroke="#34307d"/>
<polygon points="1534.8,781.0 1552.1,797.3 1538.8,795.8 1521.5,781.1" stroke="#259ea1"/>
<polygon points="1377.8,800.3 1395.1,793.5 1381.8,795.7 1364.5,801.9" stroke="#1a89b5"/>
<polygon points="1295.3,831.7 1312.6,821.7 1299.3,838.4 1282.0,843.2" stroke="#1161bc"/>
<polygon points="1199.5,855.5 1216.8,852.5 1203.5,848.7 1186.2,852.1" stroke="#332d77"/>
<polygon points="1425.7,776.6 1443.0,777.9 1429.7,793.1 1412.4,793.4" stroke="#34a399"/>
<polygon points="1473.6,765.6 1490.9,771.7 1477.6,782.8 1460.3,779.0" stroke="#56aa89"/>
<polygon points="1622.5,817.5 1639.8,840.6 1626.5,835.6 1609.2,810.3" stroke="#2278b6"/>
<polygon points="1230.1,857.2 1247.4,851.9 1234.1,846.2 1216.8,852.5" stroke="#332c74"/>
<polygon points="1504.2,766.6 1521.5,781.1 1508.2,783.8 1490.9,771.7" stroke="#56aa89"/>
<polygon points="1360.5,806.9 1377.8,800.3 1364.5,801.9 1347.2,808.1" stroke="#1e83b5"/>
<polygon points="1278.0,841.9 1295.3,831.7 1282.0,843.2 1264.7,848.0" stroke="#234fb4"/>
<polygon points="1697.0,851.3 1714.3,854.0 1701.0,849.5 1683.7,844.8" stroke="#353a90"/>
<polygon points="1666.4,850.9 1683.7,844.8 1670.4,839.0 1653.1,845.6" stroke="#35388c"/>
<polygon points="1578.6,799.8 1595.9,803.0 1582.7,801.3 1565.4,798.6" stroke="#198fb3"/>
<polygon points="1182.2,860.1 1199.5,855.5 1186.2,852.1 1168.9,855.6" stroke="#322a71"/>
<polygon points="1343.2,813.3 1360.5,806.9 1347.2,808.1 1329.9,814.1" stroke="#217cb5"/>
<polygon points="1260.7,847.3 1278.0,841.9 1264.7,848.0 1247.4,851.9" stroke="#2c4aab"/>
<polygon points="1548.1,780.8 1565.4,798.6 1552.1,797.3 1534.8,781.0" stroke="#34a399"/>
<polygon points="1212.8,860.4 1230.1,857.2 1216.8,852.5 1199.5,855.5" stroke="#332c75"/>
<polygon points="1635.8,824.5 1653.1,845.6 1639.8,840.6 1622.5,817.5" stroke="#2074b7"/>
<polygon points="1408.4,775.0 1425.7,776.6 1412.4,793.4 1395.1,793.5" stroke="#47a891"/>
<polygon points="1710.2,857.8 1727.6,858.5 1714.3,854.0 1697.0,851.3" stroke="#353586"/>
<polygon points="1679.7,856.8 1697.0,851.3 1683.7,844.8 1666.4,850.9" stroke="#353586"/>
<polygon points="1456.3,762.9 1473.6,765.6 1460.3,779.0 1443.0,777.9" stroke="#71ae7e"/>
<polygon points="1325.9,821.6 1343.2,813.3 1329.9,814.1 1312.6,821.7" stroke="#2174b7"/>
<polygon points="1591.9,807.6 1609.2,810.3 1595.9,803.0 1578.6,799.8" stroke="#1a89b5"/>
<polygon points="1243.4,859.8 1260.7,847.3 1247.4,851.9 1230.1,857.2" stroke="#34307d"/>
<polygon points="1195.5,864.5 1212.8,860.4 1199.5,855.5 1182.2,860.1" stroke="#322a71"/>
<polygon points="1308.6,832.8 1325.9,821.6 1312.6,821.7 1295.3,831.7" stroke="#1767bb"/>
<polygon points="1517.5,765.0 1534.8,781.0 1521.5,781.1 1504.2,766.6" stroke="#71ae7e"/>
<polygon points="1391.1,783.5 1408.4,775.0 1395.1,793.5 1377.8,800.3" stroke="#34a399"/>
<polygon points="1649.1,833.1 1666.4,850.9 1653.1,845.6 1635.8,824.5" stroke="#1c6cba"/>
<polygon points="1291.3,844.1 1308.6,832.8 1295.3,831.7 1278.0,841.9" stroke="#1656ba"/>
<polygon points="1226.1,862.1 1243.4,859.8 1230.1,857.2 1212.8,860.4" stroke="#343383"/>
<polygon points="1486.9,759.0 1504.2,766.6 1490.9,771.7 1473.6,765.6" stroke="#87b076"/>
<polygon points="1692.9,862.6 1710.2,857.8 1697.0,851.3 1679.7,856.8" stroke="#34317f"/>
<polygon points="1605.2,815.2 1622.5,817.5 1609.2,810.3 1591.9,807.6" stroke="#1e83b5"/>
<polygon points="1723.5,862.9 1740.8,863.0 1727.6,858.5 1710.2,857.8" stroke="#343383"/>
<polygon points="1561.3,780.2 1578.6,799.8 1565.4,798.6 1548.1,780.8" stroke="#47a891"/>
<polygon points="1373.8,791.6 1391.1,783.5 1377.8,800.3 1360.5,806.9" stroke="#259ea1"/>
<polygon points="1274.0,849.8 1291.3,844.1 1278.0,841.9 1260.7,847.3" stroke="#234fb4"/>
<polygon points="1439.0,760.1 1456.3,762.9 1443.0,777.9 1425.7,776.6" stroke="#8cb075"/>
<polygon points="1662.3,844.3 1679.7,856.8 1666.4,850.9 1649.1,833.1" stroke="#1161bc"/>
<polygon points="1256.7,863.9 1274.0,849.8 1260.7,847.3 1243.4,859.8" stroke="#34317f"/>
<polygon points="1208.8,869.0 1226.1,862.1 1212.8,860.4 1195.5,864.5" stroke="#322a71"/>
<polygon points="1356.5,799.7 1373.8,791.6 1360.5,806.9 1343.2,813.3" stroke="#1c99a8"/>
<polygon points="1618.5,822.7 1635.8,824.5 1622.5,817.5 1605.2,815.2" stroke="#217cb5"/>
<polygon points="1706.2,867.5 1723.5,862.9 1710.2,857.8 1692.9,862.6" stroke="#34307d"/>
<polygon points="1239.4,866.0 1256.7,863.9 1243.4,859.8 1226.1,862.1" stroke="#353586"/>
<polygon points="1736.8,870.2 1754.1,867.5 1740.8,863.0 1723.5,862.9" stroke="#332c75"/>
<polygon points="1339.2,810.3 1356.5,799.7 1343.2,813.3 1325.9,821.6" stroke="#1990b1"/>
<polygon points="1530.7,763.2 1548.1,780.8 1534.8,781.0 1517.5,765.0" stroke="#8cb075"/>
<polygon points="1574.6,789.7 1591.9,807.6 1578.6,799.8 1561.3,780.2" stroke="#34a399"/>
<polygon points="1675.6,855.5 1692.9,862.6 1679.7,856.8 1662.3,844.3" stroke="#234fb4"/>
<polygon points="1321.9,825.4 1339.2,810.3 1325.9,821.6 1308.6,832.8" stroke="#217bb5"/>
<polygon points="1304.6,840.7 1321.9,825.4 1308.6,832.8 1291.3,844.1" stroke="#1767bb"/>
<polygon points="1469.6,755.4 1486.9,759.0 1473.6,765.6 1456.3,762.9" stroke="#a1b06e"/>
<polygon points="1631.8,832.0 1649.1,833.1 1635.8,824.5 1618.5,822.7" stroke="#2174b7"/>
<polygon points="1500.2,756.4 1517.5,765.0 1504.2,766.6 1486.9,759.0" stroke="#a1b06e"/>
<polygon points="1287.3,847.6 1304.6,840.7 1291.3,844.1 1274.0,849.8" stroke="#1161bc"/>
<polygon points="1421.7,756.9 1439.0,760.1 1425.7,776.6 1408.4,775.0" stroke="#a5b06d"/>
<polygon points="1222.0,873.5 1239.4,866.0 1226.1,862.1 1208.8,869.0" stroke="#322a71"/>
<polygon points="1269.9,867.0 1287.3,847.6 1274.0,849.8 1256.7,863.9" stroke="#353586"/>
<polygon points="1587.9,798.9 1605.2,815.2 1591.9,807.6 1574.6,789.7" stroke="#259ea1"/>
<polygon points="1719.5,873.9 1736.8,870.2 1723.5,862.9 1706.2,867.5" stroke="#332c74"/>
<polygon points="1750.1,874.3 1767.4,872.0 1754.1,867.5 1736.8,870.2" stroke="#332d77"/>
<polygon points="1688.9,861.9 1706.2,867.5 1692.9,862.6 1675.6,855.5" stroke="#2c4aab"/>
<polygon points="1252.6,868.4 1269.9,867.0 1256.7,863.9 1239.4,866.0" stroke="#353a90"/>
<polygon points="1645.0,844.3 1662.3,844.3 1649.1,833.1 1631.8,832.0" stroke="#1767bb"/>
<polygon points="1404.4,767.0 1421.7,756.9 1408.4,775.0 1391.1,783.5" stroke="#8cb075"/>
<polygon points="1544.0,761.0 1561.3,780.2 1548.1,780.8 1530.7,763.2" stroke="#a5b06d"/>
<polygon points="1601.2,808.0 1618.5,822.7 1605.2,815.2 1587.9,798.9" stroke="#1c99a8"/>
<polygon points="1658.3,856.6 1675.6,855.5 1662.3,844.3 1645.0,844.3" stroke="#1656ba"/>
<polygon points="1452.3,751.6 1469.6,755.4 1456.3,762.9 1439.0,760.1" stroke="#bab066"/>
<polygon points="1387.1,776.7 1404.4,767.0 1391.1,783.5 1373.8,791.6" stroke="#71ae7e"/>
<polygon points="1235.3,878.0 1252.6,868.4 1239.4,866.0 1222.0,873.5" stroke="#322a71"/>
<polygon points="1732.8,878.1 1750.1,874.3 1736.8,870.2 1719.5,873.9" stroke="#332c75"/>
<polygon points="1702.2,875.5 1719.5,873.9 1706.2,867.5 1688.9,861.9" stroke="#34307d"/>
<polygon points="1763.4,879.9 1780.7,876.4 1767.4,872.0 1750.1,874.3" stroke="#322a71"/>
<polygon points="1317.8,837.4 1335.1,818.2 1321.9,825.4 1304.6,840.7" stroke="#2174b7"/>
<polygon points="1283.2,870.1 1300.5,845.4 1287.3,847.6 1269.9,867.0" stroke="#35388c"/>
<polygon points="1482.9,752.3 1500.2,756.4 1486.9,759.0 1469.6,755.4" stroke="#baaf66"/>
<polygon points="1369.8,786.2 1387.1,776.7 1373.8,791.6 1356.5,799.7" stroke="#56aa89"/>
<polygon points="1513.4,753.7 1530.7,763.2 1517.5,765.0 1500.2,756.4" stroke="#bab066"/>
<polygon points="1300.5,845.4 1317.8,837.4 1304.6,840.7 1287.3,847.6" stroke="#1c6cba"/>
<polygon points="1614.5,819.7 1631.8,832.0 1618.5,822.7 1601.2,808.0" stroke="#1990b1"/>
<polygon points="1265.9,870.8 1283.2,870.1 1269.9,867.0 1252.6,868.4" stroke="#33409a"/>
<polygon points="1671.6,863.4 1688.9,861.9 1675.6,855.5 1658.3,856.6" stroke="#234fb4"/>
<polygon points="1335.1,818.2 1352.5,799.3 1339.2,810.3 1321.9,825.4" stroke="#1990b1"/>
<polygon points="1352.5,799.3 1369.8,786.2 1356.5,799.7 1339.2,810.3" stroke="#31a29b"/>
<polygon points="1557.3,772.2 1574.6,789.7 1561.3,780.2 1544.0,761.0" stroke="#8cb075"/>
<polygon points="1627.7,835.9 1645.0,844.3 1631.8,832.0 1614.5,819.7" stroke="#217bb5"/>
<polygon points="1715.5,878.8 1732.8,878.1 1719.5,873.9 1702.2,875.5" stroke="#343383"/>
<polygon points="1746.1,883.3 1763.4,879.9 1750.1,874.3 1732.8,878.1" stroke="#322a71"/>
<polygon points="1248.6,882.5 1265.9,870.8 1252.6,868.4 1235.3,878.0" stroke="#322a71"/>
<polygon points="1684.9,878.5 1702.2,875.5 1688.9,861.9 1671.6,863.4" stroke="#34317f"/>
<polygon points="1641.0,852.2 1658.3,856.6 1645.0,844.3 1627.7,835.9" stroke="#1767bb"/>
<polygon points="1435.0,747.3 1452.3,751.6 1439.0,760.1 1421.7,756.9" stroke="#d2ae5d"/>
<polygon points="1570.6,782.9 1587.9,798.9 1574.6,789.7 1557.3,772.2" stroke="#71ae7e"/>
<polygon points="1296.5,873.8 1313.8,845.8 1300.5,845.4 1283.2,870.1" stroke="#353b91"/>
<polygon points="1279.2,874.1 1296.5,873.8 1283.2,870.1 1265.9,870.8" stroke="#3144a1"/>
<polygon points="1465.5,747.9 1482.9,752.3 1469.6,755.4 1452.3,751.6" stroke="#d3ae5c"/>
<polygon points="1654.3,860.1 1671.6,863.4 1658.3,856.6 1641.0,852.2" stroke="#1161bc"/>
<polygon points="1698.2,881.6 1715.5,878.8 1702.2,875.5 1684.9,878.5" stroke="#353586"/>
<polygon points="1313.8,845.8 1331.1,837.1 1317.8,837.4 1300.5,845.4" stroke="#2074b7"/>
<polygon points="1728.8,886.8 1746.1,883.3 1732.8,878.1 1715.5,878.8" stroke="#322a71"/>
<polygon points="1526.7,750.5 1544.0,761.0 1530.7,763.2 1513.4,753.7" stroke="#d2ae5d"/>
<polygon points="1331.1,837.1 1348.4,815.5 1335.1,818.2 1317.8,837.4" stroke="#217cb5"/>
<polygon points="1496.1,748.9 1513.4,753.7 1500.2,756.4 1482.9,752.3" stroke="#d3ae5c"/>
<polygon points="1417.7,758.5 1435.0,747.3 1421.7,756.9 1404.4,767.0" stroke="#bab066"/>
<polygon points="1583.9,793.5 1601.2,808.0 1587.9,798.9 1570.6,782.9" stroke="#56aa89"/>
<polygon points="1667.6,880.6 1684.9,878.5 1671.6,863.4 1654.3,860.1" stroke="#353586"/>
<polygon points="1261.9,887.0 1279.2,874.1 1265.9,870.8 1248.6,882.5" stroke="#322a71"/>
<polygon points="1400.3,769.2 1417.7,758.5 1404.4,767.0 1387.1,776.7" stroke="#a1b06e"/>
<polygon points="1348.4,815.5 1365.7,794.1 1352.5,799.3 1335.1,818.2" stroke="#1c99a8"/>
<polygon points="1597.1,807.6 1614.5,819.7 1601.2,808.0 1583.9,793.5" stroke="#31a29b"/>
<polygon points="1383.0,779.6 1400.3,769.2 1387.1,776.7 1369.8,786.2" stroke="#87b076"/>
<polygon points="1365.7,794.1 1383.0,779.6 1369.8,786.2 1352.5,799.3" stroke="#56aa89"/>
<polygon points="1623.7,847.9 1641.0,852.2 1627.7,835.9 1610.4,827.6" stroke="#2174b7"/>
<polygon points="1680.9,883.0 1698.2,881.6 1684.9,878.5 1667.6,880.6" stroke="#353a90"/>
<polygon points="1610.4,827.6 1627.7,835.9 1614.5,819.7 1597.1,807.6" stroke="#1990b1"/>
<polygon points="1292.5,877.7 1309.8,877.7 1296.5,873.8 1279.2,874.1" stroke="#2f45a5"/>
<polygon points="1711.4,890.2 1728.8,886.8 1715.5,878.8 1698.2,881.6" stroke="#322a71"/>
<polygon points="1309.8,877.7 1327.1,847.7 1313.8,845.8 1296.5,873.8" stroke="#343c94"/>
<polygon points="1540.0,762.6 1557.3,772.2 1544.0,761.0 1526.7,750.5" stroke="#bab066"/>
<polygon points="1637.0,856.9 1654.3,860.1 1641.0,852.2 1623.7,847.9" stroke="#1c6cba"/>
<polygon points="1448.2,743.0 1465.5,747.9 1452.3,751.6 1435.0,747.3" stroke="#e6b84d"/>
<polygon points="1327.1,847.7 1344.4,838.6 1331.1,837.1 1313.8,845.8" stroke="#2278b6"/>
<polygon points="1650.3,882.6 1667.6,880.6 1654.3,860.1 1637.0,856.9" stroke="#35388c"/>
<polygon points="1275.2,891.4 1292.5,877.7 1279.2,874.1 1261.9,887.0" stroke="#322a71"/>
<polygon points="1344.4,838.6 1361.7,815.4 1348.4,815.5 1331.1,837.1" stroke="#1e83b5"/>
<polygon points="1478.8,743.8 1496.1,748.9 1482.9,752.3 1465.5,747.9" stroke="#e6b84c"/>
<polygon points="1553.3,774.4 1570.6,782.9 1557.3,772.2 1540.0,762.6" stroke="#a1b06e"/>
<polygon points="1509.4,745.0 1526.7,750.5 1513.4,753.7 1496.1,748.9" stroke="#e6b84d"/>
<polygon points="1694.1,893.6 1711.4,890.2 1698.2,881.6 1680.9,883.0" stroke="#322a71"/>
<polygon points="1663.5,884.4 1680.9,883.0 1667.6,880.6 1650.3,882.6" stroke="#33409a"/>
<polygon points="1305.8,881.4 1323.1,881.7 1309.8,877.7 1292.5,877.7" stroke="#2d48a9"/>
<polygon points="1430.9,754.7 1448.2,743.0 1435.0,747.3 1417.7,758.5" stroke="#d3ae5c"/>
<polygon points="1323.1,881.7 1340.4,849.5 1327.1,847.7 1309.8,877.7" stroke="#343e96"/>
<polygon points="1566.6,785.9 1583.9,793.5 1570.6,782.9 1553.3,774.4" stroke="#87b076"/>
<polygon points="1361.7,815.4 1379.0,792.5 1365.7,794.1 1348.4,815.5" stroke="#259ea1"/>
<polygon points="1413.6,766.0 1430.9,754.7 1417.7,758.5 1400.3,769.2" stroke="#baaf66"/>
<polygon points="1606.4,846.5 1623.7,847.9 1610.4,827.6 1593.1,823.8" stroke="#217cb5"/>
<polygon points="1633.0,885.2 1650.3,882.6 1637.0,856.9 1619.7,856.2" stroke="#353b91"/>
<polygon points="1619.7,856.2 1637.0,856.9 1623.7,847.9 1606.4,846.5" stroke="#2074b7"/>
<polygon points="1396.3,777.1 1413.6,766.0 1400.3,769.2 1383.0,779.6" stroke="#a1b06e"/>
<polygon points="1288.4,895.9 1305.8,881.4 1292.5,877.7 1275.2,891.4" stroke="#322a71"/>
<polygon points="1593.1,823.8 1610.4,827.6 1597.1,807.6 1579.8,801.4" stroke="#1c99a8"/>
<polygon points="1379.0,792.5 1396.3,777.1 1383.0,779.6 1365.7,794.1" stroke="#71ae7e"/>
<polygon points="1579.8,801.4 1597.1,807.6 1583.9,793.5 1566.6,785.9" stroke="#56aa89"/>
<polygon points="1340.4,849.5 1357.7,839.9 1344.4,838.6 1327.1,847.7" stroke="#217cb5"/>
<polygon points="1676.8,897.1 1694.1,893.6 1680.9,883.0 1663.5,884.4" stroke="#322a71"/>
<polygon points="1646.2,886.6 1663.5,884.4 1650.3,882.6 1633.0,885.2" stroke="#3144a1"/>
<polygon points="1522.7,757.9 1540.0,762.6 1526.7,750.5 1509.4,745.0" stroke="#d3ae5c"/>
<polygon points="1357.7,839.9 1375.0,815.2 1361.7,815.4 1344.4,838.6" stroke="#1a89b5"/>
<polygon points="1461.5,738.3 1478.8,743.8 1465.5,747.9 1448.2,743.0" stroke="#e1cb40"/>
<polygon points="1319.0,885.0 1336.3,885.6 1323.1,881.7 1305.8,881.4" stroke="#294bad"/>
<polygon points="1492.1,739.3 1509.4,745.0 1496.1,748.9 1478.8,743.8" stroke="#e1cb40"/>
<polygon points="1536.0,770.2 1553.3,774.4 1540.0,762.6 1522.7,757.9" stroke="#baaf66"/>
<polygon points="1336.3,885.6 1353.7,851.1 1340.4,849.5 1323.1,881.7" stroke="#343f9a"/>
<polygon points="1615.7,888.2 1633.0,885.2 1619.7,856.2 1602.4,857.1" stroke="#343c94"/>
<polygon points="1589.1,846.9 1606.4,846.5 1593.1,823.8 1575.8,822.7" stroke="#1e83b5"/>
<polygon points="1659.5,900.5 1676.8,897.1 1663.5,884.4 1646.2,886.6" stroke="#322a71"/>
<polygon points="1602.4,857.1 1619.7,856.2 1606.4,846.5 1589.1,846.9" stroke="#2278b6"/>
<polygon points="1628.9,889.2 1646.2,886.6 1633.0,885.2 1615.7,888.2" stroke="#2f45a5"/>
<polygon points="1301.7,900.4 1319.0,885.0 1305.8,881.4 1288.4,895.9" stroke="#322a71"/>
<polygon points="1375.0,815.2 1392.3,790.7 1379.0,792.5 1361.7,815.4" stroke="#34a399"/>
<polygon points="1549.3,782.3 1566.6,785.9 1553.3,774.4 1536.0,770.2" stroke="#a1b06e"/>
<polygon points="1444.2,750.7 1461.5,738.3 1448.2,743.0 1430.9,754.7" stroke="#e6b84c"/>
<polygon points="1575.8,822.7 1593.1,823.8 1579.8,801.4 1562.5,798.8" stroke="#259ea1"/>
<polygon points="1353.7,851.1 1371.0,841.1 1357.7,839.9 1340.4,849.5" stroke="#1f82b5"/>
<polygon points="1426.9,762.7 1444.2,750.7 1430.9,754.7 1413.6,766.0" stroke="#d3ae5c"/>
<polygon points="1562.5,798.8 1579.8,801.4 1566.6,785.9 1549.3,782.3" stroke="#71ae7e"/>
<polygon points="1409.6,774.3 1426.9,762.7 1413.6,766.0 1396.3,777.1" stroke="#bab066"/>
<polygon points="1392.3,790.7 1409.6,774.3 1396.3,777.1 1379.0,792.5" stroke="#8cb075"/>
<polygon points="1332.3,890.4 1349.6,890.6 1336.3,885.6 1319.0,885.0" stroke="#2d48a9"/>
<polygon points="1371.0,841.1 1388.3,814.7 1375.0,815.2 1357.7,839.9" stroke="#198fb3"/>
<polygon points="1505.4,752.8 1522.7,757.9 1509.4,745.0 1492.1,739.3" stroke="#e6b84c"/>
<polygon points="1598.3,891.0 1615.7,888.2 1602.4,857.1 1585.1,857.8" stroke="#343e96"/>
<polygon points="1349.6,890.6 1366.9,858.5 1353.7,851.1 1336.3,885.6" stroke="#343e96"/>
<polygon points="1642.2,904.0 1659.5,900.5 1646.2,886.6 1628.9,889.2" stroke="#322a71"/>
<polygon points="1611.6,891.8 1628.9,889.2 1615.7,888.2 1598.3,891.0" stroke="#2d48a9"/>
<polygon points="1571.8,847.2 1589.1,846.9 1575.8,822.7 1558.5,821.4" stroke="#1a89b5"/>
<polygon points="1585.1,857.8 1602.4,857.1 1589.1,846.9 1571.8,847.2" stroke="#217cb5"/>
<polygon points="1315.0,904.9 1332.3,890.4 1319.0,885.0 1301.7,900.4" stroke="#322a71"/>
<polygon points="1518.7,765.8 1536.0,770.2 1522.7,757.9 1505.4,752.8" stroke="#d3ae5c"/>
<polygon points="1474.8,733.1 1492.1,739.3 1478.8,743.8 1461.5,738.3" stroke="#e5e631"/>
<polygon points="1366.9,858.5 1384.2,848.9 1371.0,841.1 1353.7,851.1" stroke="#217cb5"/>
<polygon points="1531.9,778.5 1549.3,782.3 1536.0,770.2 1518.7,765.8" stroke="#bab066"/>
<polygon points="1558.5,821.4 1575.8,822.7 1562.5,798.8 1545.2,795.9" stroke="#34a399"/>
<polygon points="1388.3,814.7 1405.6,788.6 1392.3,790.7 1375.0,815.2" stroke="#47a891"/>
<polygon points="1345.6,895.7 1362.9,895.7 1349.6,890.6 1332.3,890.4" stroke="#2f45a5"/>
<polygon points="1624.9,907.4 1642.2,904.0 1628.9,889.2 1611.6,891.8" stroke="#322a71"/>
<polygon points="1581.0,893.9 1598.3,891.0 1585.1,857.8 1567.8,858.4" stroke="#343f9a"/>
<polygon points="1384.2,848.9 1401.5,824.1 1388.3,814.7 1371.0,841.1" stroke="#1a89b5"/>
<polygon points="1362.9,895.7 1380.2,865.6 1366.9,858.5 1349.6,890.6" stroke="#343c94"/>
<polygon points="1594.3,894.4 1611.6,891.8 1598.3,891.0 1581.0,893.9" stroke="#294bad"/>
<polygon points="1545.2,795.9 1562.5,798.8 1549.3,782.3 1531.9,778.5" stroke="#8cb075"/>
<polygon points="1457.5,746.2 1474.8,733.1 1461.5,738.3 1444.2,750.7" stroke="#e1cb40"/>
<polygon points="1567.8,858.4 1585.1,857.8 1571.8,847.2 1554.5,847.3" stroke="#1f82b5"/>
<polygon points="1440.2,758.8 1457.5,746.2 1444.2,750.7 1426.9,762.7" stroke="#e6b84d"/>
<polygon points="1328.3,909.4 1345.6,895.7 1332.3,890.4 1315.0,904.9" stroke="#322a71"/>
<polygon points="1554.5,847.3 1571.8,847.2 1558.5,821.4 1541.2,819.9" stroke="#198fb3"/>
<polygon points="1405.6,788.6 1422.9,771.1 1409.6,774.3 1392.3,790.7" stroke="#a5b06d"/>
<polygon points="1422.9,771.1 1440.2,758.8 1426.9,762.7 1409.6,774.3" stroke="#d2ae5d"/>
<polygon points="1488.1,747.2 1505.4,752.8 1492.1,739.3 1474.8,733.1" stroke="#e1cb40"/>
<polygon points="1380.2,865.6 1397.5,856.5 1384.2,848.9 1366.9,858.5" stroke="#2278b6"/>
<polygon points="1397.5,856.5 1414.8,833.4 1401.5,824.1 1384.2,848.9" stroke="#1e83b5"/>
<polygon points="1607.6,910.8 1624.9,907.4 1611.6,891.8 1594.3,894.4" stroke="#322a71"/>
<polygon points="1563.7,897.9 1581.0,893.9 1567.8,858.4 1550.5,864.7" stroke="#343e96"/>
<polygon points="1577.0,898.7 1594.3,894.4 1581.0,893.9 1563.7,897.9" stroke="#2d48a9"/>
<polygon points="1501.4,760.9 1518.7,765.8 1505.4,752.8 1488.1,747.2" stroke="#e6b84d"/>
<polygon points="1358.9,901.0 1376.2,900.7 1362.9,895.7 1345.6,895.7" stroke="#3144a1"/>
<polygon points="1401.5,824.1 1418.9,799.7 1405.6,788.6 1388.3,814.7" stroke="#34a399"/>
<polygon points="1376.2,900.7 1393.5,872.7 1380.2,865.6 1362.9,895.7" stroke="#353b91"/>
<polygon points="1541.2,819.9 1558.5,821.4 1545.2,795.9 1527.9,792.7" stroke="#47a891"/>
<polygon points="1550.5,864.7 1567.8,858.4 1554.5,847.3 1537.2,854.1" stroke="#217cb5"/>
<polygon points="1514.6,774.2 1531.9,778.5 1518.7,765.8 1501.4,760.9" stroke="#d2ae5d"/>
<polygon points="1537.2,854.1 1554.5,847.3 1541.2,819.9 1523.9,828.3" stroke="#1a89b5"/>
<polygon points="1470.8,759.7 1488.1,747.2 1474.8,733.1 1457.5,746.2" stroke="#e6b84c"/>
<polygon points="1393.5,872.7 1410.8,864.0 1397.5,856.5 1380.2,865.6" stroke="#2074b7"/>
<polygon points="1453.5,771.6 1470.8,759.7 1457.5,746.2 1440.2,758.8" stroke="#d3ae5c"/>
<polygon points="1527.9,792.7 1545.2,795.9 1531.9,778.5 1514.6,774.2" stroke="#a5b06d"/>
<polygon points="1341.6,913.9 1358.9,901.0 1345.6,895.7 1328.3,909.4" stroke="#322a71"/>
<polygon points="1546.4,901.9 1563.7,897.9 1550.5,864.7 1533.1,870.9" stroke="#343c94"/>
<polygon points="1410.8,864.0 1428.1,842.4 1414.8,833.4 1397.5,856.5" stroke="#217cb5"/>
<polygon points="1418.9,799.7 1436.2,783.3 1422.9,771.1 1405.6,788.6" stroke="#8cb075"/>
<polygon points="1414.8,833.4 1432.1,810.5 1418.9,799.7 1401.5,824.1" stroke="#259ea1"/>
<polygon points="1436.2,783.3 1453.5,771.6 1440.2,758.8 1422.9,771.1" stroke="#bab066"/>
<polygon points="1590.3,914.3 1607.6,910.8 1594.3,894.4 1577.0,898.7" stroke="#322a71"/>
<polygon points="1559.7,903.0 1577.0,898.7 1563.7,897.9 1546.4,901.9" stroke="#2f45a5"/>
<polygon points="1484.1,772.7 1501.4,760.9 1488.1,747.2 1470.8,759.7" stroke="#d3ae5c"/>
<polygon points="1519.9,860.7 1537.2,854.1 1523.9,828.3 1506.6,836.5" stroke="#1e83b5"/>
<polygon points="1533.1,870.9 1550.5,864.7 1537.2,854.1 1519.9,860.7" stroke="#2278b6"/>
<polygon points="1466.7,784.0 1484.1,772.7 1470.8,759.7 1453.5,771.6" stroke="#baaf66"/>
<polygon points="1389.5,906.0 1406.8,881.3 1393.5,872.7 1376.2,900.7" stroke="#35388c"/>
<polygon points="1372.2,906.7 1389.5,906.0 1376.2,900.7 1358.9,901.0" stroke="#33409a"/>
<polygon points="1523.9,828.3 1541.2,819.9 1527.9,792.7 1510.6,802.8" stroke="#34a399"/>
<polygon points="1449.4,795.0 1466.7,784.0 1453.5,771.6 1436.2,783.3" stroke="#a1b06e"/>
<polygon points="1432.1,810.5 1449.4,795.0 1436.2,783.3 1418.9,799.7" stroke="#71ae7e"/>
<polygon points="1497.3,785.4 1514.6,774.2 1501.4,760.9 1484.1,772.7" stroke="#bab066"/>
<polygon points="1406.8,881.3 1424.1,873.3 1410.8,864.0 1393.5,872.7" stroke="#1c6cba"/>
<polygon points="1428.1,842.4 1445.4,821.0 1432.1,810.5 1414.8,833.4" stroke="#1c99a8"/>
<polygon points="1424.1,873.3 1441.4,854.1 1428.1,842.4 1410.8,864.0" stroke="#2174b7"/>
<polygon points="1529.1,905.9 1546.4,901.9 1533.1,870.9 1515.8,876.9" stroke="#353b91"/>
<polygon points="1502.6,867.2 1519.9,860.7 1506.6,836.5 1489.3,844.5" stroke="#217cb5"/>
<polygon points="1510.6,802.8 1527.9,792.7 1514.6,774.2 1497.3,785.4" stroke="#8cb075"/>
<polygon points="1480.0,796.1 1497.3,785.4 1484.1,772.7 1466.7,784.0" stroke="#a1b06e"/>
<polygon points="1506.6,836.5 1523.9,828.3 1510.6,802.8 1493.3,812.6" stroke="#259ea1"/>
<polygon points="1515.8,876.9 1533.1,870.9 1519.9,860.7 1502.6,867.2" stroke="#2074b7"/>
<polygon points="1542.4,907.2 1559.7,903.0 1546.4,901.9 1529.1,905.9" stroke="#3144a1"/>
<polygon points="1573.0,917.7 1590.3,914.3 1577.0,898.7 1559.7,903.0" stroke="#322a71"/>
<polygon points="1354.9,918.4 1372.2,906.7 1358.9,901.0 1341.6,913.9" stroke="#322a71"/>
<polygon points="1462.7,806.5 1480.0,796.1 1466.7,784.0 1449.4,795.0" stroke="#87b076"/>
<polygon points="1493.3,812.6 1510.6,802.8 1497.3,785.4 1480.0,796.1" stroke="#71ae7e"/>
<polygon points="1445.4,821.0 1462.7,806.5 1449.4,795.0 1432.1,810.5" stroke="#56aa89"/>
<polygon points="1437.4,885.6 1454.7,870.3 1441.4,854.1 1424.1,873.3" stroke="#1767bb"/>
<polygon points="1402.7,911.8 1420.1,892.4 1406.8,881.3 1389.5,906.0" stroke="#353586"/>
<polygon points="1489.3,844.5 1506.6,836.5 1493.3,812.6 1476.0,822.1" stroke="#1c99a8"/>
<polygon points="1485.3,875.4 1502.6,867.2 1489.3,844.5 1472.0,855.2" stroke="#2174b7"/>
<polygon points="1441.4,854.1 1458.7,835.1 1445.4,821.0 1428.1,842.4" stroke="#1990b1"/>
<polygon points="1420.1,892.4 1437.4,885.6 1424.1,873.3 1406.8,881.3" stroke="#1161bc"/>
<polygon points="1476.0,822.1 1493.3,812.6 1480.0,796.1 1462.7,806.5" stroke="#56aa89"/>
<polygon points="1385.4,913.2 1402.7,911.8 1389.5,906.0 1372.2,906.7" stroke="#353a90"/>
<polygon points="1511.8,910.2 1529.1,905.9 1515.8,876.9 1498.5,884.4" stroke="#35388c"/>
<polygon points="1467.9,886.6 1485.3,875.4 1472.0,855.2 1454.7,870.3" stroke="#1767bb"/>
<polygon points="1498.5,884.4 1515.8,876.9 1502.6,867.2 1485.3,875.4" stroke="#1c6cba"/>
<polygon points="1454.7,870.3 1472.0,855.2 1458.7,835.1 1441.4,854.1" stroke="#217bb5"/>
<polygon points="1450.6,897.9 1467.9,886.6 1454.7,870.3 1437.4,885.6" stroke="#1656ba"/>
<polygon points="1472.0,855.2 1489.3,844.5 1476.0,822.1 1458.7,835.1" stroke="#1990b1"/>
<polygon points="1458.7,835.1 1476.0,822.1 1462.7,806.5 1445.4,821.0" stroke="#31a29b"/>
<polygon points="1525.1,911.9 1542.4,907.2 1529.1,905.9 1511.8,910.2" stroke="#33409a"/>
<polygon points="1555.7,921.2 1573.0,917.7 1559.7,903.0 1542.4,907.2" stroke="#322a71"/>
<polygon points="1433.3,903.6 1450.6,897.9 1437.4,885.6 1420.1,892.4" stroke="#234fb4"/>
<polygon points="1481.2,894.5 1498.5,884.4 1485.3,875.4 1467.9,886.6" stroke="#1161bc"/>
<polygon points="1494.5,915.0 1511.8,910.2 1498.5,884.4 1481.2,894.5" stroke="#353586"/>
<polygon points="1416.0,917.7 1433.3,903.6 1420.1,892.4 1402.7,911.8" stroke="#34317f"/>
<polygon points="1368.1,922.8 1385.4,913.2 1372.2,906.7 1354.9,918.4" stroke="#322a71"/>
<polygon points="1463.9,904.7 1481.2,894.5 1467.9,886.6 1450.6,897.9" stroke="#234fb4"/>
<polygon points="1398.7,919.8 1416.0,917.7 1402.7,911.8 1385.4,913.2" stroke="#353586"/>
<polygon points="1507.8,917.4 1525.1,911.9 1511.8,910.2 1494.5,915.0" stroke="#353a90"/>
<polygon points="1477.2,919.8 1494.5,915.0 1481.2,894.5 1463.9,904.7" stroke="#34317f"/>
<polygon points="1446.6,910.1 1463.9,904.7 1450.6,897.9 1433.3,903.6" stroke="#2c4aab"/>
<polygon points="1538.4,924.6 1555.7,921.2 1542.4,907.2 1525.1,911.9" stroke="#322a71"/>
<polygon points="1429.3,922.6 1446.6,910.1 1433.3,903.6 1416.0,917.7" stroke="#34307d"/>
<polygon points="1381.4,927.3 1398.7,919.8 1385.4,913.2 1368.1,922.8" stroke="#322a71"/>
<polygon points="1490.5,922.9 1507.8,917.4 1494.5,915.0 1477.2,919.8" stroke="#353586"/>
<polygon points="1459.9,923.6 1477.2,919.8 1463.9,904.7 1446.6,910.1" stroke="#34307d"/>
<polygon points="1521.1,928.1 1538.4,924.6 1525.1,911.9 1507.8,917.4" stroke="#322a71"/>
<polygon points="1412.0,924.9 1429.3,922.6 1416.0,917.7 1398.7,919.8" stroke="#343383"/>
<polygon points="1442.6,928.9 1459.9,923.6 1446.6,910.1 1429.3,922.6" stroke="#332c74"/>
<polygon points="1473.2,926.9 1490.5,922.9 1477.2,919.8 1459.9,923.6" stroke="#343383"/>
<polygon points="1503.8,931.5 1521.1,928.1 1507.8,917.4 1490.5,922.9" stroke="#322a71"/>
<polygon points="1394.7,931.8 1412.0,924.9 1398.7,919.8 1381.4,927.3" stroke="#322a71"/>
<polygon points="1425.3,932.1 1442.6,928.9 1429.3,922.6 1412.0,924.9" stroke="#332c75"/>
<polygon points="1455.9,933.2 1473.2,926.9 1459.9,923.6 1442.6,928.9" stroke="#332c75"/>
<polygon points="1486.5,934.9 1503.8,931.5 1490.5,922.9 1473.2,926.9" stroke="#322a71"/>
<polygon points="1408.0,936.3 1425.3,932.1 1412.0,924.9 1394.7,931.8" stroke="#322a71"/>
<polygon points="1438.6,936.3 1455.9,933.2 1442.6,928.9 1425.3,932.1" stroke="#332d77"/>
<polygon points="1469.1,938.4 1486.5,934.9 1473.2,926.9 1455.9,933.2" stroke="#322a71"/>
<polygon points="1421.3,940.8 1438.6,936.3 1425.3,932.1 1408.0,936.3" stroke="#322a71"/>
<polygon points="1451.8,941.8 1469.1,938.4 1455.9,933.2 1438.6,936.3" stroke="#322a71"/>
<polygon points="1434.5,945.3 1451.8,941.8 1438.6,936.3 1421.3,940.8" stroke="#322a71"/>
</g>
<line x1="1434.5" y1="945.3" x2="1780.7" y2="876.4" stroke="#262626" stroke-width="1.8"/>
<line x1="1434.5" y1="945.3" x2="1168.9" y2="855.6" stroke="#262626" stroke-width="1.8"/>
<line x1="1168.9" y1="855.6" x2="1168.9" y2="659.8" stroke="#262626" stroke-width="1.8"/>
<line x1="1434.5" y1="945.3" x2="1440.4" y2="947.2" stroke="#262626" stroke-width="1.8"/>
<line x1="1521.1" y1="928.1" x2="1526.9" y2="930.0" stroke="#262626" stroke-width="1.8"/>
<line x1="1607.6" y1="910.8" x2="1613.4" y2="912.8" stroke="#262626" stroke-width="1.8"/>
<line x1="1694.1" y1="893.6" x2="1700.0" y2="895.6" stroke="#262626" stroke-width="1.8"/>
<line x1="1780.7" y1="876.4" x2="1786.5" y2="878.4" stroke="#262626" stroke-width="1.8"/>
<line x1="1434.5" y1="945.3" x2="1426.9" y2="946.8" stroke="#262626" stroke-width="1.8"/>
<line x1="1301.7" y1="900.4" x2="1294.1" y2="901.9" stroke="#262626" stroke-width="1.8"/>
<line x1="1168.9" y1="855.6" x2="1161.3" y2="857.1" stroke="#262626" stroke-width="1.8"/>
<line x1="1168.9" y1="855.6" x2="1163.1" y2="853.6" stroke="#262626" stroke-width="1.8"/>
<line x1="1168.9" y1="757.7" x2="1163.1" y2="755.7" stroke="#262626" stroke-width="1.8"/>
<line x1="1168.9" y1="659.8" x2="1163.1" y2="657.8" stroke="#262626" stroke-width="1.8"/>
<text transform="translate(1451.0,974.7) scale(1.065,1)" font-size="22.2" text-anchor="start" font-weight="normal" fill="#262626" stroke="#262626" stroke-width="0.5" stroke-opacity="0.15">-1</text>
<text transform="translate(1537.6,957.5) scale(1.065,1)" font-size="22.2" text-anchor="start" font-weight="normal" fill="#262626" stroke="#262626" stroke-width="0.5" stroke-opacity="0.15">-0.5</text>
<text transform="translate(1624.1,940.3) scale(1.065,1)" font-size="22.2" text-anchor="start" font-weight="normal" fill="#262626" stroke="#262626" stroke-width="0.5" stroke-opacity="0.15">0</text>
<text transform="translate(1710.6,923.1) scale(1.065,1)" font-size="22.2" text-anchor="start" font-weight="normal" fill="#262626" stroke="#262626" stroke-width="0.5" stroke-opacity="0.15">0.5</text>
<text transform="translate(1797.2,905.9) scale(1.065,1)" font-size="22.2" text-anchor="start" font-weight="normal" fill="#262626" stroke="#262626" stroke-width="0.5" stroke-opacity="0.15">1</text>
<text transform="translate(1416.9,973.5) scale(1.065,1)" font-size="22.2" text-anchor="end" font-weight="normal" fill="#262626" stroke="#262626" stroke-width="0.5" stroke-opacity="0.15">-1</text>
<text transform="translate(1284.1,928.7) scale(1.065,1)" font-size="22.2" text-anchor="end" font-weight="normal" fill="#262626" stroke="#262626" stroke-width="0.5" stroke-opacity="0.15">0</text>
<text transform="translate(1151.3,883.8) scale(1.065,1)" font-size="22.2" text-anchor="end" font-weight="normal" fill="#262626" stroke="#262626" stroke-width="0.5" stroke-opacity="0.15">1</text>
<text transform="translate(1152.2,859.5) scale(1.065,1)" font-size="22.2" text-anchor="end" font-weight="normal" fill="#262626" stroke="#262626" stroke-width="0.5" stroke-opacity="0.15">0</text>
<text transform="translate(1152.2,761.6) scale(1.065,1)" font-size="22.2" text-anchor="end" font-weight="normal" fill="#262626" stroke="#262626" stroke-width="0.5" stroke-opacity="0.15">0.5</text>
<text transform="translate(1152.2,663.7) scale(1.065,1)" font-size="22.2" text-anchor="end" font-weight="normal" fill="#262626" stroke="#262626" stroke-width="0.5" stroke-opacity="0.15">1</text>
<text transform="translate(1608.5,992.5) scale(1.065,1)" font-size="22.2" text-anchor="middle" font-weight="normal" fill="#262626" stroke="#262626" stroke-width="0.5">x</text>
<text transform="translate(1301.0,986.5) scale(1.065,1)" font-size="22.2" text-anchor="middle" font-weight="normal" fill="#262626" stroke="#262626" stroke-width="0.5">y</text>
<g transform="translate(1092.5,759.5) rotate(-90) scale(1,1.065)"><text font-size="24" text-anchor="middle" fill="#262626" stroke="#262626" stroke-width="0.8">|<tspan font-family='"Liberation Serif", "DejaVu Serif", serif' font-style="italic" fill="#666" stroke-width="0" dx="2">ψ</tspan><tspan font-size="16" dy="5" stroke-width="0.4">1</tspan><tspan dy="-5" dx="2">|</tspan></text></g>
<text transform="translate(1474.6,570.7) scale(1.08,1)" font-size="25.5" font-weight="bold" text-anchor="middle" fill="#000" stroke="#000" stroke-width="0.2">Numerical representation of |<tspan font-family='"Liberation Serif", "DejaVu Serif", serif' font-style="italic" font-weight="normal">ψ</tspan><tspan font-size="18" dy="6">1</tspan><tspan dy="-6">|</tspan></text>
<defs><linearGradient id="cb4" x1="0" y1="0" x2="0" y2="1"><stop offset="0.0000" stop-color="#f9fb0e"/><stop offset="0.0159" stop-color="#f6f313"/><stop offset="0.0317" stop-color="#f5eb18"/><stop offset="0.0476" stop-color="#f5e41d"/><stop offset="0.0635" stop-color="#f5de21"/><stop offset="0.0794" stop-color="#f7d826"/><stop offset="0.0952" stop-color="#fad32a"/><stop offset="0.1111" stop-color="#fcce2e"/><stop offset="0.1270" stop-color="#fec832"/><stop offset="0.1429" stop-color="#ffc337"/><stop offset="0.1587" stop-color="#fdbe3d"/><stop offset="0.1746" stop-color="#f8bb44"/><stop offset="0.1905" stop-color="#f1b94a"/><stop offset="0.2063" stop-color="#e9b94e"/><stop offset="0.2222" stop-color="#e1b952"/><stop offset="0.2381" stop-color="#d9ba56"/><stop offset="0.2540" stop-color="#d1bb59"/><stop offset="0.2698" stop-color="#c8bc5d"/><stop offset="0.2857" stop-color="#c0bc60"/><stop offset="0.3016" stop-color="#b7bd64"/><stop offset="0.3175" stop-color="#aebe67"/><stop offset="0.3333" stop-color="#a5be6b"/><stop offset="0.3492" stop-color="#9cbf6f"/><stop offset="0.3651" stop-color="#92bf73"/><stop offset="0.3810" stop-color="#87bf77"/><stop offset="0.3968" stop-color="#7cbf7b"/><stop offset="0.4127" stop-color="#71bf80"/><stop offset="0.4286" stop-color="#65be86"/><stop offset="0.4444" stop-color="#59bd8c"/><stop offset="0.4603" stop-color="#4dbc92"/><stop offset="0.4762" stop-color="#42bb98"/><stop offset="0.4921" stop-color="#38b99e"/><stop offset="0.5079" stop-color="#2eb7a4"/><stop offset="0.5238" stop-color="#25b5a9"/><stop offset="0.5397" stop-color="#1db3af"/><stop offset="0.5556" stop-color="#15b1b4"/><stop offset="0.5714" stop-color="#0faeb9"/><stop offset="0.5873" stop-color="#0aacbe"/><stop offset="0.6032" stop-color="#07a9c2"/><stop offset="0.6190" stop-color="#06a7c6"/><stop offset="0.6349" stop-color="#06a4ca"/><stop offset="0.6508" stop-color="#06a0cd"/><stop offset="0.6667" stop-color="#079ccf"/><stop offset="0.6825" stop-color="#0998d1"/><stop offset="0.6984" stop-color="#0c93d2"/><stop offset="0.7143" stop-color="#108ed2"/><stop offset="0.7302" stop-color="#1389d3"/><stop offset="0.7460" stop-color="#1485d4"/><stop offset="0.7619" stop-color="#1481d6"/><stop offset="0.7778" stop-color="#127dd8"/><stop offset="0.7937" stop-color="#1079da"/><stop offset="0.8095" stop-color="#0d75dc"/><stop offset="0.8254" stop-color="#0871de"/><stop offset="0.8413" stop-color="#046de0"/><stop offset="0.8571" stop-color="#0268e1"/><stop offset="0.8730" stop-color="#0363e1"/><stop offset="0.8889" stop-color="#0f5cdd"/><stop offset="0.9048" stop-color="#2053d4"/><stop offset="0.9206" stop-color="#2c4ac7"/><stop offset="0.9365" stop-color="#3243ba"/><stop offset="0.9524" stop-color="#353dad"/><stop offset="0.9683" stop-color="#3637a0"/><stop offset="0.9841" stop-color="#363093"/><stop offset="1.0000" stop-color="#352a87"/></linearGradient></defs>
<rect x="1851.5" y="591.5" width="50.5" height="353.5" fill="url(#cb4)" stroke="#262626" stroke-width="1.8"/>
<text transform="translate(1908.2,952.2) scale(1.065,1)" font-size="20" text-anchor="start" font-weight="normal" fill="#3a3a3a" stroke="#3a3a3a" stroke-width="0.5" stroke-opacity="0">0</text>
<line x1="1897.0" y1="893.1" x2="1902.0" y2="893.1" stroke="#262626" stroke-width="1.6"/>
<text transform="translate(1908.2,900.3) scale(1.065,1)" font-size="20" text-anchor="start" font-weight="normal" fill="#3a3a3a" stroke="#3a3a3a" stroke-width="0.5" stroke-opacity="0">0.1</text>
<line x1="1897.0" y1="841.2" x2="1902.0" y2="841.2" stroke="#262626" stroke-width="1.6"/>
<text transform="translate(1908.2,848.3) scale(1.065,1)" font-size="20" text-anchor="start" font-weight="normal" fill="#3a3a3a" stroke="#3a3a3a" stroke-width="0.5" stroke-opacity="0">0.2</text>
<line x1="1897.0" y1="789.3" x2="1902.0" y2="789.3" stroke="#262626" stroke-width="1.6"/>
<text transform="translate(1908.2,796.4) scale(1.065,1)" font-size="20" text-anchor="start" font-weight="normal" fill="#3a3a3a" stroke="#3a3a3a" stroke-width="0.5" stroke-opacity="0">0.3</text>
<line x1="1897.0" y1="737.4" x2="1902.0" y2="737.4" stroke="#262626" stroke-width="1.6"/>
<text transform="translate(1908.2,744.5) scale(1.065,1)" font-size="20" text-anchor="start" font-weight="normal" fill="#3a3a3a" stroke="#3a3a3a" stroke-width="0.5" stroke-opacity="0">0.4</text>
<line x1="1897.0" y1="685.5" x2="1902.0" y2="685.5" stroke="#262626" stroke-width="1.6"/>
<text transform="translate(1908.2,692.6) scale(1.065,1)" font-size="20" text-anchor="start" font-weight="normal" fill="#3a3a3a" stroke="#3a3a3a" stroke-width="0.5" stroke-opacity="0">0.5</text>
<line x1="1897.0" y1="633.5" x2="1902.0" y2="633.5" stroke="#262626" stroke-width="1.6"/>
<text transform="translate(1908.2,640.7) scale(1.065,1)" font-size="20" text-anchor="start" font-weight="normal" fill="#3a3a3a" stroke="#3a3a3a" stroke-width="0.5" stroke-opacity="0">0.6</text>
<rect x="1239.8" y="658.0" width="197.7" height="76.2" fill="none" stroke="#444" stroke-width="2.5" rx="2"/>
<text transform="translate(1253.0,688.5) scale(1.065,1)" font-size="21.6" text-anchor="start" font-weight="normal" fill="#262626" stroke="#262626" stroke-width="0.5">Time level t = 1</text>
<text transform="translate(1253.0,716.5) scale(1.065,1)" font-size="21.6" fill="#262626" stroke="#262626" stroke-width="0.5">and <tspan font-family='"Liberation Serif", "DejaVu Serif", serif' font-style="italic" dx="1.5" fill="#555" stroke-width="0.2">τ</tspan><tspan dx="3.5"> = 4</tspan></text>
</svg>
<svg width="2000" height="1046" viewBox="0 0 2000 1046">
<rect x="4" y="3.9" width="1992.1" height="1038" rx="1.5" fill="none" stroke="#000" stroke-width="3.3"/>
</svg>
</body></html>
